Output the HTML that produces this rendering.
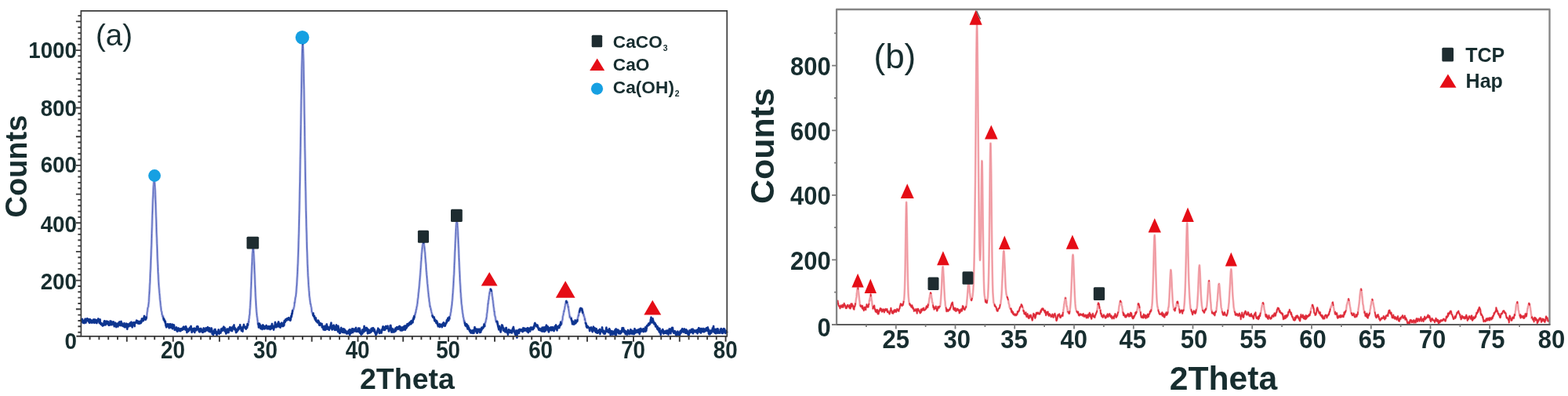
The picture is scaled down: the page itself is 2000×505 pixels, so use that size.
<!DOCTYPE html>
<html><head><meta charset="utf-8"><title>XRD patterns</title>
<style>
html,body{margin:0;padding:0;background:#fff;width:2000px;height:505px;overflow:hidden}
svg{display:block}
text{font-family:'Liberation Sans', Arial, Helvetica, sans-serif;fill:#172d2f}
</style></head><body>
<svg width="2000" height="505" viewBox="0 0 2000 505">
<defs><filter id="soft" x="-2%" y="-5%" width="104%" height="110%"><feGaussianBlur stdDeviation="0.55"/></filter></defs>
<rect width="2000" height="505" fill="#fff"/>
<g filter="url(#soft)">
<path d="M103.4 408.0 L103.6 407.6 L103.9 408.5 L104.1 409.3 L104.3 408.4 L104.6 409.1 L104.8 408.1 L105.0 407.0 L105.3 410.5 L105.5 411.3 L105.7 410.3 L106.0 410.5 L106.2 410.4 L106.5 411.7 L106.7 410.0 L106.9 408.9 L107.2 411.6 L107.4 410.1 L107.6 412.0 L107.9 410.3 L108.1 410.3 L108.3 407.5 L108.6 408.7 L108.8 406.7 L109.0 407.2 L109.3 408.1 L109.5 411.5 L109.8 408.3 L110.0 407.2 L110.2 406.9 L110.5 409.3 L110.7 408.0 L110.9 408.8 L111.2 408.6 L111.4 406.3 L111.6 408.8 L111.9 407.8 L112.1 406.9 L112.3 409.2 L112.6 409.1 L112.8 408.6 L113.0 408.9 L113.3 410.6 L113.5 408.6 L113.8 407.1 L114.0 411.8 L114.2 408.8 L114.5 410.3 L114.7 411.2 L114.9 407.2 L115.2 408.6 L115.4 411.2 L115.6 409.1 L115.9 408.1 L116.1 409.5 L116.3 408.5 L116.6 410.1 L116.8 409.5 L117.1 408.8 L117.3 411.7 L117.5 410.1 L117.8 410.3 L118.0 408.6 L118.2 410.4 L118.5 409.3 L118.7 409.1 L118.9 407.8 L119.2 407.6 L119.4 411.2 L119.6 409.9 L119.9 407.7 L120.1 411.8 L120.4 409.7 L120.6 409.5 L120.8 407.5 L121.1 408.5 L121.3 409.8 L121.5 410.1 L121.8 410.3 L122.0 407.9 L122.2 411.4 L122.5 411.6 L122.7 410.9 L122.9 411.4 L123.2 411.1 L123.4 412.0 L123.7 410.3 L123.9 410.6 L124.1 407.9 L124.4 408.8 L124.6 409.3 L124.8 407.9 L125.1 409.1 L125.3 406.5 L125.5 407.8 L125.8 407.1 L126.0 409.9 L126.2 407.8 L126.5 410.9 L126.7 411.7 L126.9 409.6 L127.2 411.0 L127.4 410.0 L127.7 407.5 L127.9 412.5 L128.1 412.9 L128.4 412.2 L128.6 412.4 L128.8 413.5 L129.1 413.9 L129.3 412.3 L129.5 412.1 L129.8 414.3 L130.0 413.4 L130.2 413.2 L130.5 414.9 L130.7 413.6 L131.0 415.5 L131.2 413.1 L131.4 414.2 L131.7 413.7 L131.9 414.0 L132.1 412.8 L132.4 414.9 L132.6 413.1 L132.8 410.0 L133.1 413.3 L133.3 409.1 L133.5 413.6 L133.8 410.6 L134.0 413.2 L134.3 411.0 L134.5 411.9 L134.7 414.3 L135.0 409.9 L135.2 409.8 L135.4 412.0 L135.7 412.3 L135.9 411.7 L136.1 412.8 L136.4 409.6 L136.6 411.5 L136.8 410.5 L137.1 411.5 L137.3 411.9 L137.6 413.3 L137.8 410.3 L138.0 412.7 L138.3 411.7 L138.5 413.5 L138.7 414.7 L139.0 414.3 L139.2 414.6 L139.4 413.2 L139.7 413.6 L139.9 413.1 L140.1 414.5 L140.4 413.2 L140.6 409.4 L140.8 412.9 L141.1 413.1 L141.3 411.2 L141.6 409.6 L141.8 413.9 L142.0 412.0 L142.3 412.4 L142.5 414.3 L142.7 410.9 L143.0 412.2 L143.2 411.9 L143.4 412.8 L143.7 410.7 L143.9 411.9 L144.1 410.8 L144.4 412.5 L144.6 413.5 L144.9 410.5 L145.1 414.4 L145.3 414.2 L145.6 415.3 L145.8 416.2 L146.0 415.9 L146.3 413.7 L146.5 414.1 L146.7 412.9 L147.0 412.9 L147.2 411.6 L147.4 412.9 L147.7 414.1 L147.9 415.7 L148.2 417.1 L148.4 413.5 L148.6 413.1 L148.9 414.2 L149.1 413.2 L149.3 413.0 L149.6 413.0 L149.8 412.9 L150.0 415.4 L150.3 412.4 L150.5 416.5 L150.7 413.7 L151.0 414.2 L151.2 413.4 L151.5 411.6 L151.7 411.3 L151.9 414.2 L152.2 414.4 L152.4 410.5 L152.6 413.3 L152.9 412.0 L153.1 411.0 L153.3 414.9 L153.6 415.0 L153.8 411.2 L154.0 410.7 L154.3 410.6 L154.5 410.0 L154.7 411.5 L155.0 412.9 L155.2 411.7 L155.5 413.6 L155.7 415.3 L155.9 412.8 L156.2 414.2 L156.4 413.7 L156.6 415.7 L156.9 415.5 L157.1 415.9 L157.3 415.6 L157.6 414.2 L157.8 415.8 L158.0 414.1 L158.3 414.5 L158.5 412.1 L158.8 417.1 L159.0 414.4 L159.2 415.7 L159.5 415.5 L159.7 417.2 L159.9 415.8 L160.2 413.9 L160.4 415.2 L160.6 414.9 L160.9 415.1 L161.1 412.7 L161.3 414.3 L161.6 417.4 L161.8 415.4 L162.1 417.5 L162.3 419.7 L162.5 416.0 L162.8 413.2 L163.0 415.1 L163.2 416.7 L163.5 416.4 L163.7 414.1 L163.9 416.2 L164.2 416.4 L164.4 416.4 L164.6 415.8 L164.9 413.5 L165.1 413.1 L165.4 412.9 L165.6 414.3 L165.8 412.0 L166.1 413.9 L166.3 411.7 L166.5 415.5 L166.8 414.4 L167.0 414.0 L167.2 415.6 L167.5 410.8 L167.7 411.2 L167.9 413.8 L168.2 412.1 L168.4 413.1 L168.7 417.4 L168.9 413.6 L169.1 413.9 L169.4 413.6 L169.6 414.7 L169.8 413.2 L170.1 413.0 L170.3 411.1 L170.5 412.5 L170.8 413.5 L171.0 411.6 L171.2 414.4 L171.5 414.2 L171.7 416.1 L171.9 411.3 L172.2 411.7 L172.4 411.2 L172.7 411.1 L172.9 411.6 L173.1 411.0 L173.4 411.7 L173.6 411.4 L173.8 410.7 L174.1 408.8 L174.3 409.9 L174.5 410.7 L174.8 411.3 L175.0 411.7 L175.2 409.1 L175.5 410.8 L175.7 411.2 L176.0 411.7 L176.2 412.6 L176.4 411.3 L176.7 409.9 L176.9 411.5 L177.1 411.2 L177.4 411.2 L177.6 410.4 L177.8 412.7 L178.1 411.1 L178.3 412.0 L178.5 409.9 L178.8 412.0 L179.0 410.6 L179.3 409.4 L179.5 411.8 L179.7 412.1 L180.0 410.7 L180.2 410.4 L180.4 410.9 L180.7 408.7 L180.9 406.5 L181.1 408.8 L181.4 408.2 L181.6 409.2 L181.8 407.3 L182.1 409.1 L182.3 408.9 L182.6 406.2 L182.8 409.1 L183.0 406.5 L183.3 405.5 L183.5 406.6 L183.7 405.3 L184.0 403.0 L184.2 405.5 L184.4 406.2 L184.7 407.4 L184.9 406.0 L185.1 404.6 L185.4 405.5 L185.6 407.7 L185.8 407.6 L186.1 407.1 L186.3 406.2 L186.6 406.2 L186.8 404.7 L187.0 403.4 L187.3 402.3 L187.5 400.3 L187.7 398.4 L188.0 397.1 L188.2 395.1 L188.4 392.7 L188.7 392.5 L188.9 391.7 L189.1 391.5 L189.4 387.9 L189.6 387.4 L189.9 384.4 L190.1 379.8 L190.3 376.2 L190.6 373.0 L190.8 369.7 L191.0 364.4 L191.3 359.9 L191.5 354.5 L191.7 348.7 L192.0 344.2 L192.2 338.9 L192.4 332.8 L192.7 325.9 L192.9 319.1 L193.2 312.4 L193.4 304.7 L193.6 297.6 L193.9 289.5 L194.1 282.1 L194.3 274.8 L194.6 268.0 L194.8 261.0 L195.0 254.7 L195.3 248.8 L195.5 243.4 L195.7 238.9 L196.0 235.2 L196.2 232.1 L196.5 230.6 L196.7 230.0 L196.9 230.4 L197.2 232.6 L197.4 235.1 L197.6 238.6 L197.9 243.1 L198.1 248.6 L198.3 254.3 L198.6 260.9 L198.8 268.1 L199.0 275.2 L199.3 282.0 L199.5 289.3 L199.7 297.1 L200.0 303.2 L200.2 310.4 L200.5 316.9 L200.7 323.9 L200.9 330.1 L201.2 336.3 L201.4 340.5 L201.6 346.9 L201.9 350.9 L202.1 356.2 L202.3 359.7 L202.6 364.2 L202.8 366.7 L203.0 368.9 L203.3 373.2 L203.5 374.5 L203.8 377.7 L204.0 381.0 L204.2 382.9 L204.5 385.1 L204.7 386.9 L204.9 389.4 L205.2 391.7 L205.4 393.2 L205.6 395.4 L205.9 397.0 L206.1 397.4 L206.3 397.6 L206.6 401.1 L206.8 400.9 L207.1 402.5 L207.3 403.7 L207.5 402.6 L207.8 404.4 L208.0 402.9 L208.2 406.0 L208.5 405.6 L208.7 406.8 L208.9 408.1 L209.2 406.8 L209.4 408.3 L209.6 407.7 L209.9 409.0 L210.1 410.4 L210.4 409.7 L210.6 410.2 L210.8 409.7 L211.1 412.9 L211.3 412.9 L211.5 415.5 L211.8 413.5 L212.0 416.0 L212.2 417.3 L212.5 415.2 L212.7 413.7 L212.9 416.6 L213.2 415.8 L213.4 415.0 L213.6 415.5 L213.9 413.3 L214.1 414.8 L214.4 414.8 L214.6 413.7 L214.8 415.9 L215.1 415.0 L215.3 417.1 L215.5 417.7 L215.8 418.3 L216.0 413.4 L216.2 415.9 L216.5 414.9 L216.7 415.1 L216.9 415.1 L217.2 415.3 L217.4 413.1 L217.7 417.0 L217.9 417.7 L218.1 417.1 L218.4 417.6 L218.6 415.3 L218.8 415.5 L219.1 417.8 L219.3 418.1 L219.5 416.4 L219.8 413.8 L220.0 419.2 L220.2 414.5 L220.5 416.8 L220.7 414.3 L221.0 417.8 L221.2 416.7 L221.4 418.2 L221.7 417.6 L221.9 414.5 L222.1 415.5 L222.4 417.7 L222.6 419.1 L222.8 420.9 L223.1 419.3 L223.3 418.9 L223.5 418.9 L223.8 419.0 L224.0 420.4 L224.3 419.3 L224.5 419.2 L224.7 417.9 L225.0 417.4 L225.2 420.4 L225.4 421.5 L225.7 420.7 L225.9 421.9 L226.1 422.5 L226.4 421.7 L226.6 422.5 L226.8 419.2 L227.1 419.6 L227.3 418.4 L227.6 418.5 L227.8 419.3 L228.0 420.1 L228.3 419.6 L228.5 420.9 L228.7 420.0 L229.0 420.3 L229.2 422.0 L229.4 419.5 L229.7 421.1 L229.9 420.1 L230.1 419.5 L230.4 422.1 L230.6 419.1 L230.8 419.4 L231.1 420.2 L231.3 420.4 L231.6 420.2 L231.8 420.5 L232.0 419.0 L232.3 419.3 L232.5 418.7 L232.7 420.8 L233.0 418.9 L233.2 418.8 L233.4 418.8 L233.7 418.9 L233.9 417.0 L234.1 419.9 L234.4 416.7 L234.6 417.2 L234.9 417.5 L235.1 417.7 L235.3 419.4 L235.6 419.0 L235.8 417.8 L236.0 418.0 L236.3 418.2 L236.5 420.6 L236.7 417.5 L237.0 416.2 L237.2 416.6 L237.4 417.9 L237.7 421.2 L237.9 418.5 L238.2 420.5 L238.4 424.0 L238.6 419.9 L238.9 422.3 L239.1 422.4 L239.3 422.2 L239.6 419.8 L239.8 422.9 L240.0 422.3 L240.3 420.4 L240.5 420.2 L240.7 421.9 L241.0 421.0 L241.2 421.7 L241.5 420.3 L241.7 418.4 L241.9 418.3 L242.2 418.8 L242.4 417.7 L242.6 420.3 L242.9 418.9 L243.1 417.1 L243.3 416.9 L243.6 415.9 L243.8 417.4 L244.0 419.2 L244.3 419.2 L244.5 422.0 L244.7 423.9 L245.0 420.8 L245.2 421.3 L245.5 419.8 L245.7 421.7 L245.9 419.3 L246.2 419.2 L246.4 419.9 L246.6 422.3 L246.9 420.2 L247.1 418.9 L247.3 419.6 L247.6 421.0 L247.8 419.8 L248.0 418.7 L248.3 424.0 L248.5 420.8 L248.8 420.1 L249.0 420.3 L249.2 419.3 L249.5 419.8 L249.7 420.4 L249.9 420.1 L250.2 419.4 L250.4 421.3 L250.6 420.0 L250.9 418.4 L251.1 416.5 L251.3 419.1 L251.6 418.4 L251.8 417.6 L252.1 416.1 L252.3 418.2 L252.5 416.6 L252.8 420.6 L253.0 419.9 L253.2 420.6 L253.5 419.4 L253.7 419.2 L253.9 423.0 L254.2 421.8 L254.4 420.0 L254.6 421.8 L254.9 423.3 L255.1 419.5 L255.4 420.1 L255.6 419.9 L255.8 421.2 L256.1 418.9 L256.3 420.6 L256.5 419.3 L256.8 422.3 L257.0 422.1 L257.2 421.2 L257.5 422.6 L257.7 420.6 L257.9 421.6 L258.2 423.9 L258.4 422.9 L258.6 423.8 L258.9 422.0 L259.1 423.7 L259.4 422.7 L259.6 420.0 L259.8 418.4 L260.1 418.9 L260.3 421.7 L260.5 421.7 L260.8 419.6 L261.0 421.7 L261.2 422.8 L261.5 420.7 L261.7 419.8 L261.9 421.2 L262.2 422.2 L262.4 421.5 L262.7 418.3 L262.9 420.3 L263.1 419.2 L263.4 418.9 L263.6 418.6 L263.8 420.2 L264.1 419.0 L264.3 421.3 L264.5 420.6 L264.8 420.9 L265.0 417.2 L265.2 418.4 L265.5 419.5 L265.7 419.2 L266.0 419.6 L266.2 418.8 L266.4 422.6 L266.7 422.4 L266.9 422.0 L267.1 418.1 L267.4 421.0 L267.6 423.0 L267.8 421.9 L268.1 420.3 L268.3 423.3 L268.5 423.2 L268.8 420.5 L269.0 421.3 L269.3 420.6 L269.5 422.3 L269.7 418.5 L270.0 419.2 L270.2 421.2 L270.4 421.5 L270.7 426.0 L270.9 422.7 L271.1 424.9 L271.4 424.6 L271.6 424.7 L271.8 425.8 L272.1 426.9 L272.3 422.6 L272.5 423.2 L272.8 421.9 L273.0 422.3 L273.3 421.7 L273.5 425.0 L273.7 420.3 L274.0 421.8 L274.2 421.0 L274.4 420.0 L274.7 422.4 L274.9 424.5 L275.1 423.2 L275.4 423.5 L275.6 422.8 L275.8 422.7 L276.1 426.5 L276.3 424.1 L276.6 427.5 L276.8 425.3 L277.0 425.4 L277.3 425.0 L277.5 423.7 L277.7 423.7 L278.0 423.4 L278.2 424.9 L278.4 422.6 L278.7 420.4 L278.9 420.6 L279.1 422.2 L279.4 423.4 L279.6 425.8 L279.9 422.6 L280.1 424.4 L280.3 424.2 L280.6 424.2 L280.8 423.5 L281.0 423.7 L281.3 423.1 L281.5 424.5 L281.7 423.4 L282.0 419.7 L282.2 422.6 L282.4 422.3 L282.7 420.7 L282.9 419.6 L283.2 421.8 L283.4 420.3 L283.6 418.7 L283.9 419.8 L284.1 420.4 L284.3 418.5 L284.6 421.4 L284.8 420.1 L285.0 420.4 L285.3 416.6 L285.5 421.1 L285.7 419.7 L286.0 419.8 L286.2 418.4 L286.5 418.7 L286.7 417.9 L286.9 422.8 L287.2 420.0 L287.4 422.1 L287.6 423.1 L287.9 421.8 L288.1 423.9 L288.3 425.6 L288.6 422.9 L288.8 424.7 L289.0 423.5 L289.3 421.8 L289.5 421.5 L289.7 419.4 L290.0 421.8 L290.2 423.8 L290.5 423.2 L290.7 423.4 L290.9 423.9 L291.2 421.6 L291.4 423.0 L291.6 424.0 L291.9 419.7 L292.1 420.1 L292.3 419.0 L292.6 419.3 L292.8 418.5 L293.0 418.9 L293.3 417.2 L293.5 418.7 L293.8 418.4 L294.0 418.6 L294.2 421.5 L294.5 419.7 L294.7 419.8 L294.9 419.2 L295.2 421.6 L295.4 417.7 L295.6 419.8 L295.9 421.4 L296.1 422.0 L296.3 419.9 L296.6 419.2 L296.8 419.7 L297.1 417.8 L297.3 418.2 L297.5 416.1 L297.8 418.0 L298.0 417.6 L298.2 416.5 L298.5 414.5 L298.7 419.8 L298.9 419.4 L299.2 420.2 L299.4 417.8 L299.6 420.4 L299.9 419.2 L300.1 418.6 L300.4 420.8 L300.6 421.7 L300.8 421.6 L301.1 424.1 L301.3 423.2 L301.5 421.3 L301.8 420.3 L302.0 420.6 L302.2 423.1 L302.5 422.0 L302.7 420.3 L302.9 420.5 L303.2 420.7 L303.4 421.3 L303.6 418.3 L303.9 419.5 L304.1 420.4 L304.4 420.1 L304.6 417.0 L304.8 418.9 L305.1 417.2 L305.3 418.8 L305.5 416.6 L305.8 418.4 L306.0 418.0 L306.2 414.3 L306.5 417.1 L306.7 419.2 L306.9 419.2 L307.2 418.4 L307.4 417.2 L307.7 419.5 L307.9 421.7 L308.1 419.8 L308.4 419.7 L308.6 420.5 L308.8 419.4 L309.1 421.4 L309.3 420.6 L309.5 422.7 L309.8 419.3 L310.0 416.6 L310.2 417.1 L310.5 416.8 L310.7 416.1 L311.0 413.9 L311.2 417.6 L311.4 416.8 L311.7 416.8 L311.9 416.3 L312.1 417.7 L312.4 416.7 L312.6 417.6 L312.8 416.8 L313.1 417.3 L313.3 419.3 L313.5 418.6 L313.8 417.5 L314.0 419.5 L314.3 418.2 L314.5 416.5 L314.7 418.3 L315.0 416.3 L315.2 418.0 L315.4 415.1 L315.7 413.1 L315.9 413.0 L316.1 415.1 L316.4 413.4 L316.6 413.4 L316.8 412.4 L317.1 409.6 L317.3 411.1 L317.5 406.8 L317.8 406.3 L318.0 403.0 L318.3 401.9 L318.5 399.9 L318.7 396.2 L319.0 392.7 L319.2 389.5 L319.4 385.2 L319.7 381.1 L319.9 377.1 L320.1 369.9 L320.4 364.1 L320.6 358.2 L320.8 351.9 L321.1 345.1 L321.3 339.5 L321.6 333.8 L321.8 328.4 L322.0 323.5 L322.3 320.8 L322.5 317.4 L322.7 316.5 L323.0 316.6 L323.2 316.9 L323.4 319.8 L323.7 323.7 L323.9 327.8 L324.1 332.5 L324.4 338.0 L324.6 344.5 L324.9 350.3 L325.1 356.2 L325.3 362.8 L325.6 368.0 L325.8 373.5 L326.0 378.7 L326.3 383.2 L326.5 386.9 L326.7 390.6 L327.0 394.6 L327.2 397.6 L327.4 399.3 L327.7 402.6 L327.9 404.1 L328.2 405.8 L328.4 408.4 L328.6 408.3 L328.9 413.1 L329.1 412.5 L329.3 414.5 L329.6 412.4 L329.8 412.9 L330.0 417.6 L330.3 416.0 L330.5 413.7 L330.7 413.0 L331.0 412.8 L331.2 413.9 L331.4 413.8 L331.7 414.3 L331.9 415.8 L332.2 414.7 L332.4 419.1 L332.6 415.5 L332.9 417.8 L333.1 415.6 L333.3 417.3 L333.6 418.8 L333.8 417.6 L334.0 419.2 L334.3 419.2 L334.5 419.9 L334.7 417.3 L335.0 415.9 L335.2 414.5 L335.5 415.9 L335.7 414.6 L335.9 416.4 L336.2 417.3 L336.4 417.0 L336.6 417.0 L336.9 419.3 L337.1 419.2 L337.3 418.7 L337.6 418.2 L337.8 419.2 L338.0 416.2 L338.3 417.9 L338.5 416.2 L338.8 417.8 L339.0 416.0 L339.2 416.5 L339.5 417.9 L339.7 415.0 L339.9 418.0 L340.2 416.4 L340.4 417.1 L340.6 419.3 L340.9 418.9 L341.1 417.9 L341.3 418.0 L341.6 417.2 L341.8 416.7 L342.1 418.4 L342.3 416.3 L342.5 419.3 L342.8 416.3 L343.0 418.2 L343.2 418.5 L343.5 417.4 L343.7 416.4 L343.9 418.2 L344.2 418.5 L344.4 418.3 L344.6 420.0 L344.9 419.2 L345.1 415.9 L345.4 419.3 L345.6 417.3 L345.8 419.4 L346.1 416.4 L346.3 416.8 L346.5 416.1 L346.8 414.9 L347.0 412.9 L347.2 415.0 L347.5 415.7 L347.7 418.3 L347.9 417.0 L348.2 418.8 L348.4 417.5 L348.6 418.8 L348.9 416.0 L349.1 420.6 L349.4 417.9 L349.6 416.3 L349.8 417.4 L350.1 417.5 L350.3 416.0 L350.5 416.6 L350.8 414.1 L351.0 410.9 L351.2 413.2 L351.5 416.5 L351.7 416.8 L351.9 416.9 L352.2 415.4 L352.4 417.3 L352.7 416.7 L352.9 414.4 L353.1 413.7 L353.4 414.9 L353.6 415.3 L353.8 415.8 L354.1 414.5 L354.3 416.4 L354.5 412.1 L354.8 413.7 L355.0 412.1 L355.2 410.4 L355.5 411.5 L355.7 415.3 L356.0 413.6 L356.2 413.9 L356.4 416.7 L356.7 417.0 L356.9 415.6 L357.1 416.8 L357.4 412.9 L357.6 417.7 L357.8 416.0 L358.1 414.9 L358.3 415.0 L358.5 414.2 L358.8 413.7 L359.0 413.9 L359.3 411.7 L359.5 415.8 L359.7 413.4 L360.0 414.8 L360.2 414.5 L360.4 414.9 L360.7 416.1 L360.9 415.8 L361.1 413.9 L361.4 414.5 L361.6 415.7 L361.8 411.9 L362.1 411.1 L362.3 415.0 L362.5 412.1 L362.8 409.0 L363.0 410.5 L363.3 410.8 L363.5 410.8 L363.7 410.8 L364.0 409.6 L364.2 409.4 L364.4 407.3 L364.7 408.0 L364.9 408.0 L365.1 408.8 L365.4 407.6 L365.6 408.6 L365.8 407.9 L366.1 406.3 L366.3 406.9 L366.6 406.7 L366.8 406.6 L367.0 406.8 L367.3 406.7 L367.5 406.8 L367.7 405.8 L368.0 407.8 L368.2 405.3 L368.4 406.6 L368.7 407.5 L368.9 407.2 L369.1 407.3 L369.4 406.5 L369.6 407.4 L369.9 405.9 L370.1 407.5 L370.3 408.8 L370.6 407.0 L370.8 407.6 L371.0 405.0 L371.3 403.1 L371.5 402.9 L371.7 404.2 L372.0 402.9 L372.2 400.0 L372.4 400.7 L372.7 400.1 L372.9 398.2 L373.2 396.0 L373.4 396.1 L373.6 396.4 L373.9 395.4 L374.1 394.3 L374.3 394.5 L374.6 393.9 L374.8 392.3 L375.0 392.0 L375.3 390.3 L375.5 388.9 L375.7 385.6 L376.0 386.3 L376.2 384.0 L376.4 382.5 L376.7 380.6 L376.9 378.9 L377.2 378.5 L377.4 376.9 L377.6 375.2 L377.9 372.5 L378.1 368.9 L378.3 365.9 L378.6 363.1 L378.8 359.2 L379.0 355.0 L379.3 350.5 L379.5 346.3 L379.7 340.8 L380.0 335.6 L380.2 329.0 L380.5 321.1 L380.7 314.9 L380.9 306.3 L381.2 297.4 L381.4 288.2 L381.6 278.2 L381.9 267.2 L382.1 255.7 L382.3 243.5 L382.6 231.1 L382.8 217.3 L383.0 203.4 L383.3 188.8 L383.5 173.8 L383.8 158.5 L384.0 143.3 L384.2 128.4 L384.5 113.7 L384.7 100.0 L384.9 87.6 L385.2 76.7 L385.4 68.0 L385.6 61.4 L385.9 57.2 L386.1 56.1 L386.3 57.4 L386.6 61.7 L386.8 68.4 L387.1 77.6 L387.3 88.5 L387.5 100.9 L387.8 114.4 L388.0 128.9 L388.2 144.0 L388.5 159.3 L388.7 174.6 L388.9 189.4 L389.2 204.2 L389.4 218.1 L389.6 231.4 L389.9 244.5 L390.1 257.0 L390.3 268.3 L390.6 279.3 L390.8 289.4 L391.1 298.1 L391.3 307.3 L391.5 316.0 L391.8 322.8 L392.0 329.5 L392.2 336.4 L392.5 342.3 L392.7 347.4 L392.9 351.9 L393.2 356.2 L393.4 359.9 L393.6 363.7 L393.9 367.2 L394.1 370.2 L394.4 373.2 L394.6 377.1 L394.8 378.5 L395.1 380.4 L395.3 382.8 L395.5 383.7 L395.8 386.1 L396.0 387.9 L396.2 387.5 L396.5 389.3 L396.7 390.7 L396.9 391.4 L397.2 392.4 L397.4 394.3 L397.7 397.9 L397.9 397.6 L398.1 398.5 L398.4 399.8 L398.6 399.5 L398.8 399.3 L399.1 401.2 L399.3 402.1 L399.5 399.5 L399.8 402.1 L400.0 403.2 L400.2 402.6 L400.5 402.8 L400.7 404.2 L401.0 403.0 L401.2 404.9 L401.4 406.2 L401.7 405.8 L401.9 405.9 L402.1 407.9 L402.4 407.1 L402.6 407.8 L402.8 405.4 L403.1 409.3 L403.3 407.6 L403.5 409.5 L403.8 410.1 L404.0 409.5 L404.3 409.5 L404.5 409.3 L404.7 410.4 L405.0 411.3 L405.2 411.1 L405.4 409.8 L405.7 409.5 L405.9 408.7 L406.1 410.1 L406.4 409.6 L406.6 409.6 L406.8 412.0 L407.1 414.3 L407.3 414.1 L407.5 414.7 L407.8 411.7 L408.0 414.9 L408.3 412.9 L408.5 413.8 L408.7 412.2 L409.0 412.7 L409.2 413.6 L409.4 413.6 L409.7 413.6 L409.9 413.4 L410.1 414.6 L410.4 414.5 L410.6 413.0 L410.8 417.5 L411.1 415.8 L411.3 417.5 L411.6 416.6 L411.8 415.9 L412.0 417.3 L412.3 416.9 L412.5 420.3 L412.7 416.8 L413.0 418.8 L413.2 417.0 L413.4 417.5 L413.7 420.7 L413.9 418.3 L414.1 417.2 L414.4 415.7 L414.6 417.6 L414.9 418.2 L415.1 420.7 L415.3 417.4 L415.6 416.5 L415.8 418.7 L416.0 418.5 L416.3 419.7 L416.5 416.0 L416.7 413.5 L417.0 415.8 L417.2 415.8 L417.4 417.0 L417.7 419.4 L417.9 416.4 L418.2 419.8 L418.4 418.5 L418.6 418.1 L418.9 417.3 L419.1 418.4 L419.3 418.6 L419.6 420.2 L419.8 420.8 L420.0 418.6 L420.3 419.2 L420.5 419.3 L420.7 418.4 L421.0 416.5 L421.2 417.5 L421.4 416.2 L421.7 416.2 L421.9 413.7 L422.2 413.5 L422.4 411.8 L422.6 417.3 L422.9 417.8 L423.1 416.7 L423.3 419.5 L423.6 420.4 L423.8 417.6 L424.0 419.5 L424.3 419.8 L424.5 418.8 L424.7 415.9 L425.0 415.1 L425.2 416.8 L425.5 416.4 L425.7 414.8 L425.9 415.6 L426.2 417.7 L426.4 416.7 L426.6 417.5 L426.9 420.8 L427.1 418.7 L427.3 417.8 L427.6 418.7 L427.8 420.7 L428.0 418.0 L428.3 416.6 L428.5 415.8 L428.8 420.8 L429.0 414.5 L429.2 419.5 L429.5 416.7 L429.7 416.4 L429.9 417.1 L430.2 418.7 L430.4 421.1 L430.6 418.5 L430.9 420.3 L431.1 423.1 L431.3 415.7 L431.6 418.8 L431.8 417.5 L432.1 422.1 L432.3 419.5 L432.5 420.1 L432.8 421.0 L433.0 423.8 L433.2 425.0 L433.5 422.8 L433.7 425.1 L433.9 423.8 L434.2 421.0 L434.4 422.2 L434.6 421.1 L434.9 420.7 L435.1 418.0 L435.3 419.1 L435.6 421.5 L435.8 420.4 L436.1 423.2 L436.3 422.7 L436.5 420.9 L436.8 423.9 L437.0 422.2 L437.2 423.5 L437.5 421.2 L437.7 419.3 L437.9 422.7 L438.2 421.6 L438.4 423.5 L438.6 424.0 L438.9 424.1 L439.1 420.7 L439.4 419.8 L439.6 422.3 L439.8 424.1 L440.1 422.0 L440.3 423.1 L440.5 421.4 L440.8 422.3 L441.0 422.4 L441.2 422.0 L441.5 423.6 L441.7 423.4 L441.9 425.5 L442.2 423.8 L442.4 425.6 L442.7 423.8 L442.9 425.1 L443.1 423.4 L443.4 423.0 L443.6 425.4 L443.8 424.7 L444.1 425.2 L444.3 422.9 L444.5 421.8 L444.8 423.0 L445.0 424.4 L445.2 421.3 L445.5 424.7 L445.7 420.4 L446.0 423.7 L446.2 427.2 L446.4 420.1 L446.7 421.7 L446.9 425.3 L447.1 423.5 L447.4 423.9 L447.6 423.0 L447.8 424.7 L448.1 423.4 L448.3 421.4 L448.5 421.6 L448.8 420.5 L449.0 422.3 L449.2 419.1 L449.5 423.2 L449.7 421.4 L450.0 424.1 L450.2 423.1 L450.4 419.5 L450.7 422.7 L450.9 420.5 L451.1 421.2 L451.4 422.4 L451.6 421.3 L451.8 421.5 L452.1 421.5 L452.3 419.7 L452.5 420.0 L452.8 421.7 L453.0 422.4 L453.3 420.9 L453.5 421.8 L453.7 420.3 L454.0 417.9 L454.2 420.8 L454.4 422.2 L454.7 422.1 L454.9 422.9 L455.1 422.7 L455.4 422.5 L455.6 421.7 L455.8 422.0 L456.1 420.5 L456.3 422.0 L456.6 421.7 L456.8 422.9 L457.0 418.8 L457.3 420.4 L457.5 418.8 L457.7 420.4 L458.0 419.7 L458.2 422.7 L458.4 421.4 L458.7 418.7 L458.9 424.5 L459.1 421.2 L459.4 420.8 L459.6 423.3 L459.9 423.5 L460.1 423.2 L460.3 426.4 L460.6 424.9 L460.8 426.6 L461.0 425.8 L461.3 425.1 L461.5 424.1 L461.7 423.4 L462.0 422.9 L462.2 425.6 L462.4 420.5 L462.7 421.7 L462.9 421.7 L463.2 422.9 L463.4 422.4 L463.6 421.4 L463.9 421.3 L464.1 423.4 L464.3 419.4 L464.6 416.0 L464.8 422.5 L465.0 418.4 L465.3 419.2 L465.5 420.0 L465.7 418.2 L466.0 421.9 L466.2 420.0 L466.4 418.2 L466.7 420.5 L466.9 421.1 L467.2 420.3 L467.4 420.9 L467.6 418.0 L467.9 421.4 L468.1 418.6 L468.3 421.8 L468.6 419.1 L468.8 420.7 L469.0 425.4 L469.3 422.2 L469.5 424.1 L469.7 423.3 L470.0 420.7 L470.2 424.7 L470.5 424.6 L470.7 420.8 L470.9 422.9 L471.2 421.1 L471.4 422.9 L471.6 424.6 L471.9 423.5 L472.1 421.8 L472.3 422.0 L472.6 423.0 L472.8 422.5 L473.0 422.9 L473.3 423.5 L473.5 419.3 L473.8 421.6 L474.0 422.5 L474.2 420.7 L474.5 418.6 L474.7 418.5 L474.9 419.7 L475.2 420.3 L475.4 419.3 L475.6 421.8 L475.9 421.1 L476.1 418.3 L476.3 420.7 L476.6 420.4 L476.8 419.9 L477.1 421.4 L477.3 422.7 L477.5 419.9 L477.8 422.0 L478.0 423.5 L478.2 422.0 L478.5 423.1 L478.7 425.5 L478.9 424.3 L479.2 424.7 L479.4 427.4 L479.6 424.4 L479.9 424.7 L480.1 424.5 L480.3 426.0 L480.6 424.5 L480.8 423.6 L481.1 423.3 L481.3 424.2 L481.5 421.1 L481.8 422.9 L482.0 420.8 L482.2 418.6 L482.5 421.7 L482.7 421.7 L482.9 419.8 L483.2 422.1 L483.4 422.1 L483.6 421.6 L483.9 420.3 L484.1 425.1 L484.4 423.4 L484.6 423.8 L484.8 424.1 L485.1 423.8 L485.3 423.9 L485.5 422.7 L485.8 424.4 L486.0 423.2 L486.2 423.0 L486.5 424.5 L486.7 423.1 L486.9 420.2 L487.2 421.1 L487.4 421.5 L487.7 420.2 L487.9 420.4 L488.1 417.9 L488.4 416.5 L488.6 418.6 L488.8 418.0 L489.1 416.7 L489.3 419.4 L489.5 418.8 L489.8 420.8 L490.0 420.8 L490.2 420.7 L490.5 417.5 L490.7 420.8 L491.0 420.8 L491.2 420.3 L491.4 419.3 L491.7 417.8 L491.9 418.2 L492.1 416.0 L492.4 417.8 L492.6 416.1 L492.8 417.4 L493.1 416.9 L493.3 418.9 L493.5 416.5 L493.8 416.2 L494.0 416.2 L494.2 419.0 L494.5 415.7 L494.7 418.0 L495.0 418.6 L495.2 418.9 L495.4 419.5 L495.7 419.3 L495.9 422.3 L496.1 422.5 L496.4 421.0 L496.6 420.8 L496.8 421.0 L497.1 420.2 L497.3 419.3 L497.5 417.4 L497.8 415.2 L498.0 418.0 L498.3 414.9 L498.5 416.0 L498.7 418.6 L499.0 417.9 L499.2 422.2 L499.4 423.6 L499.7 423.6 L499.9 423.0 L500.1 422.9 L500.4 422.5 L500.6 420.9 L500.8 423.5 L501.1 419.4 L501.3 421.9 L501.6 421.4 L501.8 421.3 L502.0 422.4 L502.3 423.3 L502.5 423.4 L502.7 422.0 L503.0 421.3 L503.2 421.2 L503.4 422.8 L503.7 421.7 L503.9 421.1 L504.1 419.1 L504.4 422.5 L504.6 418.5 L504.9 421.0 L505.1 421.5 L505.3 419.8 L505.6 418.5 L505.8 418.8 L506.0 417.3 L506.3 418.8 L506.5 417.6 L506.7 417.7 L507.0 419.5 L507.2 417.6 L507.4 418.7 L507.7 418.7 L507.9 419.9 L508.1 418.7 L508.4 416.9 L508.6 419.5 L508.9 416.4 L509.1 416.4 L509.3 416.1 L509.6 419.2 L509.8 416.6 L510.0 416.1 L510.3 418.3 L510.5 417.7 L510.7 421.3 L511.0 417.2 L511.2 419.3 L511.4 417.4 L511.7 420.9 L511.9 418.4 L512.2 419.9 L512.4 419.1 L512.6 421.6 L512.9 421.2 L513.1 417.4 L513.3 421.0 L513.6 420.6 L513.8 420.1 L514.0 420.9 L514.3 417.8 L514.5 417.0 L514.7 419.8 L515.0 420.5 L515.2 416.5 L515.5 416.1 L515.7 416.2 L515.9 415.7 L516.2 418.8 L516.4 418.4 L516.6 420.1 L516.9 420.6 L517.1 417.2 L517.3 419.0 L517.6 415.4 L517.8 417.8 L518.0 418.8 L518.3 416.7 L518.5 415.0 L518.8 416.2 L519.0 417.6 L519.2 415.0 L519.5 413.1 L519.7 414.9 L519.9 415.1 L520.2 413.2 L520.4 414.0 L520.6 415.6 L520.9 414.8 L521.1 415.1 L521.3 413.5 L521.6 413.4 L521.8 411.9 L522.1 412.0 L522.3 414.1 L522.5 411.8 L522.8 410.9 L523.0 411.3 L523.2 410.8 L523.5 412.4 L523.7 412.5 L523.9 410.3 L524.2 412.3 L524.4 413.2 L524.6 409.2 L524.9 410.7 L525.1 410.2 L525.3 411.8 L525.6 411.7 L525.8 411.4 L526.1 410.3 L526.3 409.3 L526.5 411.2 L526.8 407.2 L527.0 408.0 L527.2 407.4 L527.5 405.3 L527.7 405.7 L527.9 406.8 L528.2 403.2 L528.4 405.2 L528.6 403.6 L528.9 402.9 L529.1 401.1 L529.4 402.0 L529.6 399.9 L529.8 400.4 L530.1 397.9 L530.3 398.5 L530.5 397.2 L530.8 394.6 L531.0 394.9 L531.2 393.8 L531.5 391.2 L531.7 391.3 L531.9 390.6 L532.2 387.7 L532.4 387.3 L532.7 383.9 L532.9 381.9 L533.1 380.9 L533.4 378.7 L533.6 376.1 L533.8 373.8 L534.1 372.0 L534.3 368.9 L534.5 367.9 L534.8 364.7 L535.0 362.1 L535.2 359.3 L535.5 356.3 L535.7 354.2 L536.0 350.3 L536.2 347.4 L536.4 344.3 L536.7 341.3 L536.9 337.8 L537.1 333.9 L537.4 331.2 L537.6 327.7 L537.8 324.4 L538.1 321.6 L538.3 318.8 L538.5 317.1 L538.8 315.3 L539.0 313.0 L539.2 311.8 L539.5 310.5 L539.7 310.2 L540.0 309.5 L540.2 309.5 L540.4 309.8 L540.7 310.6 L540.9 311.8 L541.1 313.4 L541.4 315.3 L541.6 317.2 L541.8 320.1 L542.1 322.0 L542.3 325.4 L542.5 327.9 L542.8 331.3 L543.0 334.5 L543.3 336.8 L543.5 340.7 L543.7 344.3 L544.0 347.3 L544.2 350.2 L544.4 352.0 L544.7 355.7 L544.9 357.9 L545.1 361.4 L545.4 363.3 L545.6 365.6 L545.8 367.6 L546.1 371.5 L546.3 373.1 L546.6 375.4 L546.8 378.1 L547.0 379.3 L547.3 381.2 L547.5 384.4 L547.7 384.5 L548.0 386.4 L548.2 388.8 L548.4 391.0 L548.7 390.4 L548.9 392.3 L549.1 392.6 L549.4 393.2 L549.6 395.3 L549.9 395.2 L550.1 397.0 L550.3 397.9 L550.6 398.9 L550.8 399.8 L551.0 399.7 L551.3 401.4 L551.5 402.6 L551.7 403.4 L552.0 403.1 L552.2 404.5 L552.4 404.3 L552.7 404.0 L552.9 404.8 L553.1 404.7 L553.4 405.8 L553.6 404.4 L553.9 406.0 L554.1 407.9 L554.3 409.1 L554.6 407.3 L554.8 409.2 L555.0 409.6 L555.3 409.0 L555.5 409.4 L555.7 408.5 L556.0 410.5 L556.2 408.9 L556.4 412.0 L556.7 410.6 L556.9 412.4 L557.2 409.5 L557.4 411.8 L557.6 411.8 L557.9 411.3 L558.1 411.7 L558.3 414.9 L558.6 414.6 L558.8 416.2 L559.0 414.7 L559.3 415.0 L559.5 415.6 L559.7 416.1 L560.0 415.6 L560.2 415.8 L560.5 414.3 L560.7 413.1 L560.9 417.0 L561.2 415.1 L561.4 415.3 L561.6 414.2 L561.9 415.4 L562.1 414.5 L562.3 415.7 L562.6 413.9 L562.8 414.9 L563.0 415.4 L563.3 415.0 L563.5 415.9 L563.8 417.2 L564.0 414.4 L564.2 414.3 L564.5 414.4 L564.7 412.7 L564.9 412.8 L565.2 415.3 L565.4 414.5 L565.6 411.6 L565.9 411.3 L566.1 413.6 L566.3 414.2 L566.6 414.0 L566.8 414.2 L567.0 415.7 L567.3 414.2 L567.5 415.6 L567.8 415.6 L568.0 412.7 L568.2 414.2 L568.5 413.0 L568.7 412.0 L568.9 411.6 L569.2 412.3 L569.4 411.1 L569.6 411.4 L569.9 408.3 L570.1 408.9 L570.3 410.4 L570.6 408.8 L570.8 407.3 L571.1 407.2 L571.3 405.6 L571.5 405.9 L571.8 407.8 L572.0 407.4 L572.2 408.7 L572.5 407.2 L572.7 407.1 L572.9 404.4 L573.2 406.2 L573.4 407.2 L573.6 404.8 L573.9 403.1 L574.1 403.1 L574.4 402.0 L574.6 400.6 L574.8 399.1 L575.1 398.1 L575.3 397.0 L575.5 394.0 L575.8 393.2 L576.0 391.3 L576.2 390.1 L576.5 387.8 L576.7 384.7 L576.9 383.5 L577.2 379.6 L577.4 376.0 L577.7 373.3 L577.9 369.7 L578.1 366.8 L578.4 361.8 L578.6 357.8 L578.8 353.8 L579.1 349.9 L579.3 344.7 L579.5 338.7 L579.8 333.1 L580.0 328.0 L580.2 321.9 L580.5 316.7 L580.7 310.7 L581.0 305.1 L581.2 299.7 L581.4 295.3 L581.7 290.3 L581.9 286.6 L582.1 284.5 L582.4 282.6 L582.6 281.3 L582.8 281.6 L583.1 283.1 L583.3 284.4 L583.5 287.5 L583.8 291.4 L584.0 295.1 L584.2 300.6 L584.5 306.2 L584.7 311.5 L585.0 317.6 L585.2 323.3 L585.4 328.6 L585.7 334.5 L585.9 339.9 L586.1 344.4 L586.4 349.8 L586.6 354.7 L586.8 359.5 L587.1 363.9 L587.3 367.5 L587.5 372.1 L587.8 374.4 L588.0 379.2 L588.3 382.0 L588.5 385.5 L588.7 387.4 L589.0 389.4 L589.2 390.9 L589.4 394.1 L589.7 395.5 L589.9 397.3 L590.1 399.0 L590.4 401.0 L590.6 401.5 L590.8 404.5 L591.1 404.6 L591.3 405.8 L591.6 407.7 L591.8 409.1 L592.0 410.3 L592.3 408.5 L592.5 412.3 L592.7 410.6 L593.0 412.1 L593.2 413.7 L593.4 414.9 L593.7 413.5 L593.9 413.0 L594.1 415.7 L594.4 415.5 L594.6 414.4 L594.9 415.0 L595.1 413.3 L595.3 416.3 L595.6 415.1 L595.8 417.6 L596.0 414.3 L596.3 417.6 L596.5 419.5 L596.7 417.4 L597.0 417.6 L597.2 415.7 L597.4 418.3 L597.7 418.5 L597.9 418.5 L598.1 417.9 L598.4 420.7 L598.6 419.9 L598.9 421.0 L599.1 422.3 L599.3 422.1 L599.6 422.2 L599.8 423.2 L600.0 421.0 L600.3 424.4 L600.5 421.6 L600.7 422.1 L601.0 423.7 L601.2 424.5 L601.4 423.9 L601.7 422.8 L601.9 422.1 L602.2 422.6 L602.4 421.5 L602.6 423.7 L602.9 422.6 L603.1 425.0 L603.3 422.2 L603.6 422.8 L603.8 423.1 L604.0 420.9 L604.3 421.0 L604.5 424.8 L604.7 420.7 L605.0 422.2 L605.2 418.8 L605.5 417.2 L605.7 421.1 L605.9 420.6 L606.2 420.8 L606.4 420.2 L606.6 419.9 L606.9 419.2 L607.1 422.6 L607.3 419.8 L607.6 423.5 L607.8 422.9 L608.0 422.1 L608.3 423.1 L608.5 424.9 L608.8 424.5 L609.0 423.5 L609.2 422.1 L609.5 419.6 L609.7 422.3 L609.9 420.0 L610.2 420.1 L610.4 421.0 L610.6 422.0 L610.9 421.2 L611.1 422.4 L611.3 421.6 L611.6 421.6 L611.8 419.7 L612.0 424.1 L612.3 420.3 L612.5 422.1 L612.8 422.2 L613.0 422.6 L613.2 423.6 L613.5 421.1 L613.7 420.8 L613.9 419.0 L614.2 421.0 L614.4 417.6 L614.6 418.7 L614.9 419.0 L615.1 419.4 L615.3 419.3 L615.6 419.1 L615.8 418.1 L616.1 417.2 L616.3 416.9 L616.5 417.9 L616.8 416.3 L617.0 416.8 L617.2 415.4 L617.5 413.4 L617.7 414.6 L617.9 415.3 L618.2 416.1 L618.4 415.1 L618.6 414.4 L618.9 411.1 L619.1 411.6 L619.4 410.1 L619.6 410.1 L619.8 408.7 L620.1 406.6 L620.3 407.0 L620.5 405.1 L620.8 403.7 L621.0 400.2 L621.2 399.5 L621.5 397.4 L621.7 395.5 L621.9 393.5 L622.2 390.4 L622.4 387.0 L622.7 387.3 L622.9 384.2 L623.1 382.8 L623.4 381.8 L623.6 379.5 L623.8 377.6 L624.1 376.3 L624.3 373.5 L624.5 374.3 L624.8 371.9 L625.0 370.8 L625.2 370.5 L625.5 369.5 L625.7 368.7 L625.9 369.1 L626.2 369.3 L626.4 369.7 L626.7 371.9 L626.9 371.0 L627.1 371.5 L627.4 373.4 L627.6 374.8 L627.8 377.7 L628.1 378.7 L628.3 380.8 L628.5 382.4 L628.8 383.3 L629.0 386.1 L629.2 387.5 L629.5 390.7 L629.7 391.5 L630.0 393.4 L630.2 395.9 L630.4 397.4 L630.7 397.0 L630.9 401.1 L631.1 402.2 L631.4 403.5 L631.6 403.4 L631.8 404.0 L632.1 406.7 L632.3 408.7 L632.5 409.5 L632.8 408.7 L633.0 411.0 L633.3 408.9 L633.5 408.9 L633.7 410.5 L634.0 410.0 L634.2 410.4 L634.4 410.3 L634.7 413.9 L634.9 412.6 L635.1 415.4 L635.4 416.7 L635.6 417.0 L635.8 417.9 L636.1 419.2 L636.3 420.4 L636.6 419.8 L636.8 416.7 L637.0 416.0 L637.3 417.7 L637.5 417.4 L637.7 419.9 L638.0 420.3 L638.2 421.1 L638.4 423.2 L638.7 423.4 L638.9 421.8 L639.1 421.1 L639.4 420.9 L639.6 417.7 L639.9 417.2 L640.1 414.5 L640.3 415.0 L640.6 415.2 L640.8 414.8 L641.0 415.8 L641.3 417.6 L641.5 418.2 L641.7 417.7 L642.0 418.6 L642.2 418.1 L642.4 421.9 L642.7 420.5 L642.9 420.6 L643.1 419.9 L643.4 420.9 L643.6 421.8 L643.9 420.3 L644.1 421.5 L644.3 423.4 L644.6 419.6 L644.8 419.2 L645.0 420.6 L645.3 418.3 L645.5 420.1 L645.7 417.9 L646.0 420.8 L646.2 422.8 L646.4 423.1 L646.7 424.1 L646.9 422.9 L647.2 422.5 L647.4 422.0 L647.6 422.7 L647.9 426.8 L648.1 421.9 L648.3 424.6 L648.6 421.5 L648.8 420.1 L649.0 420.9 L649.3 421.9 L649.5 421.5 L649.7 422.3 L650.0 423.1 L650.2 423.4 L650.5 424.0 L650.7 421.1 L650.9 422.9 L651.2 421.5 L651.4 423.3 L651.6 423.3 L651.9 423.7 L652.1 422.8 L652.3 422.3 L652.6 423.3 L652.8 424.6 L653.0 424.3 L653.3 421.0 L653.5 422.7 L653.8 422.0 L654.0 418.7 L654.2 418.7 L654.5 419.2 L654.7 420.4 L654.9 416.9 L655.2 419.9 L655.4 419.7 L655.6 421.0 L655.9 423.4 L656.1 423.7 L656.3 422.1 L656.6 423.2 L656.8 424.5 L657.0 426.1 L657.3 426.8 L657.5 425.1 L657.8 426.9 L658.0 423.7 L658.2 423.7 L658.5 421.5 L658.7 424.3 L658.9 426.7 L659.2 426.9 L659.4 430.6 L659.6 426.1 L659.9 424.8 L660.1 422.2 L660.3 421.9 L660.6 421.4 L660.8 421.8 L661.1 421.1 L661.3 420.9 L661.5 424.8 L661.8 423.6 L662.0 425.0 L662.2 420.5 L662.5 419.9 L662.7 420.1 L662.9 422.6 L663.2 420.7 L663.4 421.3 L663.6 421.0 L663.9 421.2 L664.1 420.2 L664.4 421.7 L664.6 420.1 L664.8 420.9 L665.1 421.7 L665.3 421.0 L665.5 421.9 L665.8 420.8 L666.0 422.7 L666.2 421.8 L666.5 422.4 L666.7 423.1 L666.9 419.4 L667.2 421.3 L667.4 418.3 L667.7 418.9 L667.9 421.9 L668.1 421.2 L668.4 420.7 L668.6 421.1 L668.8 421.7 L669.1 418.8 L669.3 420.3 L669.5 419.3 L669.8 420.9 L670.0 420.2 L670.2 421.6 L670.5 420.5 L670.7 419.4 L670.9 419.6 L671.2 420.2 L671.4 420.9 L671.7 419.1 L671.9 419.5 L672.1 421.1 L672.4 422.7 L672.6 421.1 L672.8 418.3 L673.1 422.0 L673.3 420.9 L673.5 420.3 L673.8 424.1 L674.0 419.9 L674.2 421.2 L674.5 418.7 L674.7 421.1 L675.0 421.9 L675.2 421.2 L675.4 420.7 L675.7 421.7 L675.9 421.0 L676.1 422.5 L676.4 420.8 L676.6 419.4 L676.8 417.6 L677.1 419.2 L677.3 419.7 L677.5 418.4 L677.8 418.3 L678.0 417.6 L678.3 418.3 L678.5 420.2 L678.7 419.5 L679.0 419.7 L679.2 418.9 L679.4 418.5 L679.7 418.9 L679.9 420.1 L680.1 417.8 L680.4 419.2 L680.6 416.6 L680.8 416.7 L681.1 418.5 L681.3 415.4 L681.6 414.6 L681.8 414.7 L682.0 412.7 L682.3 411.9 L682.5 415.1 L682.7 412.6 L683.0 413.4 L683.2 413.8 L683.4 413.7 L683.7 415.9 L683.9 415.9 L684.1 416.1 L684.4 415.9 L684.6 415.2 L684.8 416.4 L685.1 416.2 L685.3 414.4 L685.6 415.5 L685.8 415.0 L686.0 418.0 L686.3 417.1 L686.5 417.6 L686.7 418.1 L687.0 420.1 L687.2 419.1 L687.4 420.8 L687.7 420.6 L687.9 420.4 L688.1 419.5 L688.4 420.7 L688.6 418.9 L688.9 420.2 L689.1 421.0 L689.3 421.3 L689.6 421.0 L689.8 420.6 L690.0 421.0 L690.3 421.7 L690.5 420.7 L690.7 421.2 L691.0 418.8 L691.2 420.1 L691.4 422.6 L691.7 417.8 L691.9 419.8 L692.2 422.0 L692.4 420.9 L692.6 421.9 L692.9 417.7 L693.1 419.7 L693.3 422.6 L693.6 419.8 L693.8 421.1 L694.0 417.4 L694.3 421.7 L694.5 422.9 L694.7 419.5 L695.0 419.6 L695.2 419.5 L695.5 421.9 L695.7 418.3 L695.9 416.7 L696.2 421.4 L696.4 416.8 L696.6 419.1 L696.9 414.6 L697.1 417.2 L697.3 417.8 L697.6 415.7 L697.8 416.3 L698.0 417.8 L698.3 416.4 L698.5 418.8 L698.8 421.2 L699.0 416.7 L699.2 420.5 L699.5 421.6 L699.7 420.5 L699.9 423.3 L700.2 422.8 L700.4 421.2 L700.6 420.9 L700.9 419.8 L701.1 418.3 L701.3 420.4 L701.6 419.1 L701.8 418.8 L702.0 420.7 L702.3 418.4 L702.5 419.7 L702.8 417.1 L703.0 418.0 L703.2 418.7 L703.5 421.3 L703.7 419.5 L703.9 420.9 L704.2 418.3 L704.4 418.9 L704.6 419.7 L704.9 417.1 L705.1 417.8 L705.3 420.2 L705.6 418.6 L705.8 421.1 L706.1 421.3 L706.3 420.9 L706.5 422.1 L706.8 421.5 L707.0 420.8 L707.2 418.0 L707.5 417.3 L707.7 418.9 L707.9 415.9 L708.2 417.7 L708.4 416.6 L708.6 416.1 L708.9 416.9 L709.1 414.5 L709.4 417.5 L709.6 419.9 L709.8 416.4 L710.1 418.5 L710.3 418.1 L710.5 421.4 L710.8 416.4 L711.0 417.3 L711.2 417.6 L711.5 417.4 L711.7 416.4 L711.9 418.4 L712.2 416.6 L712.4 418.1 L712.7 417.2 L712.9 415.4 L713.1 416.2 L713.4 418.0 L713.6 415.3 L713.8 415.0 L714.1 415.4 L714.3 413.6 L714.5 414.1 L714.8 415.1 L715.0 414.4 L715.2 410.6 L715.5 413.9 L715.7 412.1 L715.9 411.9 L716.2 411.8 L716.4 413.3 L716.7 411.4 L716.9 409.8 L717.1 408.1 L717.4 408.1 L717.6 407.4 L717.8 404.0 L718.1 402.7 L718.3 402.1 L718.5 401.7 L718.8 399.5 L719.0 398.5 L719.2 396.7 L719.5 397.4 L719.7 395.5 L720.0 394.6 L720.2 394.1 L720.4 391.8 L720.7 390.7 L720.9 389.5 L721.1 387.5 L721.4 387.6 L721.6 385.7 L721.8 384.6 L722.1 384.3 L722.3 383.9 L722.5 385.7 L722.8 386.1 L723.0 385.2 L723.3 385.4 L723.5 384.9 L723.7 386.5 L724.0 388.3 L724.2 388.2 L724.4 390.6 L724.7 392.1 L724.9 390.7 L725.1 393.8 L725.4 395.0 L725.6 396.9 L725.8 397.6 L726.1 400.3 L726.3 400.8 L726.6 403.8 L726.8 405.0 L727.0 403.3 L727.3 403.7 L727.5 404.7 L727.7 405.2 L728.0 405.6 L728.2 406.7 L728.4 405.0 L728.7 406.6 L728.9 407.6 L729.1 408.7 L729.4 408.8 L729.6 410.4 L729.8 410.9 L730.1 413.3 L730.3 411.5 L730.6 409.6 L730.8 412.4 L731.0 411.9 L731.3 410.7 L731.5 410.5 L731.7 410.8 L732.0 413.7 L732.2 411.4 L732.4 413.3 L732.7 413.0 L732.9 411.5 L733.1 412.3 L733.4 411.0 L733.6 408.5 L733.9 411.0 L734.1 410.9 L734.3 412.2 L734.6 411.5 L734.8 411.2 L735.0 410.4 L735.3 410.6 L735.5 409.8 L735.7 409.1 L736.0 409.7 L736.2 409.9 L736.4 409.4 L736.7 407.0 L736.9 406.2 L737.2 404.4 L737.4 403.3 L737.6 403.5 L737.9 401.6 L738.1 402.7 L738.3 398.7 L738.6 398.8 L738.8 398.8 L739.0 398.4 L739.3 396.0 L739.5 396.8 L739.7 395.1 L740.0 393.5 L740.2 393.6 L740.5 394.0 L740.7 392.9 L740.9 394.2 L741.2 393.3 L741.4 394.0 L741.6 394.5 L741.9 394.0 L742.1 395.6 L742.3 393.8 L742.6 396.5 L742.8 395.4 L743.0 398.5 L743.3 397.7 L743.5 399.9 L743.7 400.7 L744.0 400.1 L744.2 400.3 L744.5 402.6 L744.7 401.2 L744.9 403.8 L745.2 403.7 L745.4 404.5 L745.6 405.2 L745.9 408.3 L746.1 406.2 L746.3 407.8 L746.6 409.6 L746.8 410.9 L747.0 412.3 L747.3 413.1 L747.5 412.4 L747.8 414.5 L748.0 416.5 L748.2 417.0 L748.5 415.1 L748.7 417.5 L748.9 417.9 L749.2 415.6 L749.4 416.0 L749.6 416.3 L749.9 416.7 L750.1 417.6 L750.3 417.4 L750.6 417.2 L750.8 417.5 L751.1 417.7 L751.3 417.9 L751.5 418.8 L751.8 419.1 L752.0 420.7 L752.2 422.0 L752.5 419.7 L752.7 419.9 L752.9 418.8 L753.2 417.9 L753.4 418.8 L753.6 418.5 L753.9 417.4 L754.1 417.6 L754.4 419.1 L754.6 418.3 L754.8 420.1 L755.1 422.2 L755.3 421.7 L755.5 419.5 L755.8 423.2 L756.0 421.1 L756.2 420.6 L756.5 419.3 L756.7 421.6 L756.9 416.7 L757.2 418.8 L757.4 419.2 L757.7 419.1 L757.9 418.0 L758.1 419.1 L758.4 419.9 L758.6 418.3 L758.8 421.6 L759.1 422.6 L759.3 420.5 L759.5 421.2 L759.8 420.9 L760.0 423.8 L760.2 420.8 L760.5 421.0 L760.7 419.2 L760.9 423.1 L761.2 421.1 L761.4 422.4 L761.7 424.9 L761.9 424.1 L762.1 421.6 L762.4 424.1 L762.6 424.2 L762.8 422.0 L763.1 421.8 L763.3 421.5 L763.5 424.0 L763.8 422.7 L764.0 420.9 L764.2 422.7 L764.5 422.7 L764.7 420.6 L765.0 419.9 L765.2 424.1 L765.4 426.1 L765.7 424.3 L765.9 423.7 L766.1 422.1 L766.4 421.1 L766.6 421.8 L766.8 422.5 L767.1 421.5 L767.3 422.9 L767.5 421.7 L767.8 422.2 L768.0 417.5 L768.3 420.0 L768.5 422.1 L768.7 422.8 L769.0 422.2 L769.2 424.3 L769.4 423.1 L769.7 423.7 L769.9 421.6 L770.1 424.0 L770.4 424.7 L770.6 425.9 L770.8 425.7 L771.1 424.9 L771.3 425.4 L771.6 423.5 L771.8 425.6 L772.0 422.7 L772.3 422.5 L772.5 421.6 L772.7 423.3 L773.0 421.7 L773.2 418.6 L773.4 417.7 L773.7 420.4 L773.9 420.0 L774.1 422.3 L774.4 422.7 L774.6 422.9 L774.8 420.7 L775.1 421.8 L775.3 422.7 L775.6 422.7 L775.8 421.6 L776.0 422.1 L776.3 424.1 L776.5 420.5 L776.7 422.6 L777.0 422.1 L777.2 419.2 L777.4 419.8 L777.7 421.0 L777.9 420.3 L778.1 423.5 L778.4 423.7 L778.6 426.8 L778.9 422.0 L779.1 426.9 L779.3 423.4 L779.6 425.6 L779.8 425.7 L780.0 424.5 L780.3 424.1 L780.5 423.9 L780.7 422.3 L781.0 424.6 L781.2 424.2 L781.4 426.6 L781.7 424.4 L781.9 425.1 L782.2 426.1 L782.4 425.1 L782.6 424.4 L782.9 423.9 L783.1 422.8 L783.3 424.0 L783.6 424.7 L783.8 422.8 L784.0 426.2 L784.3 424.4 L784.5 420.7 L784.7 426.7 L785.0 423.2 L785.2 421.5 L785.5 425.0 L785.7 419.4 L785.9 427.2 L786.2 421.4 L786.4 420.9 L786.6 421.5 L786.9 422.4 L787.1 421.1 L787.3 422.7 L787.6 420.7 L787.8 423.6 L788.0 422.3 L788.3 420.6 L788.5 424.1 L788.7 423.2 L789.0 423.1 L789.2 425.4 L789.5 421.8 L789.7 422.8 L789.9 425.3 L790.2 423.2 L790.4 424.5 L790.6 424.3 L790.9 424.2 L791.1 425.5 L791.3 423.3 L791.6 425.4 L791.8 422.3 L792.0 423.4 L792.3 422.1 L792.5 423.5 L792.8 422.9 L793.0 423.7 L793.2 420.8 L793.5 419.8 L793.7 418.1 L793.9 418.8 L794.2 420.0 L794.4 420.3 L794.6 419.2 L794.9 420.0 L795.1 418.3 L795.3 419.7 L795.6 423.1 L795.8 423.3 L796.1 420.7 L796.3 422.8 L796.5 423.8 L796.8 421.7 L797.0 424.0 L797.2 423.6 L797.5 423.9 L797.7 426.0 L797.9 422.1 L798.2 424.9 L798.4 424.2 L798.6 424.8 L798.9 422.9 L799.1 424.4 L799.4 424.3 L799.6 426.6 L799.8 424.5 L800.1 426.5 L800.3 424.0 L800.5 423.5 L800.8 424.2 L801.0 420.9 L801.2 423.4 L801.5 423.3 L801.7 424.4 L801.9 424.9 L802.2 422.8 L802.4 422.8 L802.6 426.1 L802.9 422.4 L803.1 423.1 L803.4 422.4 L803.6 423.4 L803.8 425.5 L804.1 424.8 L804.3 420.2 L804.5 422.2 L804.8 424.1 L805.0 421.2 L805.2 422.4 L805.5 424.7 L805.7 425.6 L805.9 424.5 L806.2 421.7 L806.4 422.7 L806.7 423.0 L806.9 422.7 L807.1 421.9 L807.4 426.0 L807.6 423.5 L807.8 424.5 L808.1 425.8 L808.3 425.2 L808.5 424.8 L808.8 425.0 L809.0 426.0 L809.2 423.7 L809.5 419.2 L809.7 423.0 L810.0 423.5 L810.2 420.7 L810.4 420.6 L810.7 421.4 L810.9 424.3 L811.1 421.4 L811.4 423.7 L811.6 423.6 L811.8 422.9 L812.1 422.2 L812.3 421.1 L812.5 421.4 L812.8 422.3 L813.0 421.1 L813.3 422.1 L813.5 420.7 L813.7 424.0 L814.0 423.9 L814.2 420.6 L814.4 423.7 L814.7 421.7 L814.9 421.2 L815.1 421.7 L815.4 421.9 L815.6 419.6 L815.8 426.1 L816.1 422.0 L816.3 420.4 L816.6 423.4 L816.8 422.9 L817.0 421.2 L817.3 419.0 L817.5 423.1 L817.7 421.5 L818.0 422.0 L818.2 420.9 L818.4 421.1 L818.7 420.3 L818.9 421.3 L819.1 420.3 L819.4 421.5 L819.6 421.6 L819.8 421.1 L820.1 421.2 L820.3 422.8 L820.6 419.3 L820.8 421.5 L821.0 423.1 L821.3 419.5 L821.5 421.9 L821.7 420.0 L822.0 420.7 L822.2 420.3 L822.4 420.1 L822.7 420.9 L822.9 420.1 L823.1 417.5 L823.4 422.7 L823.6 420.0 L823.9 419.7 L824.1 421.5 L824.3 421.6 L824.6 417.0 L824.8 419.2 L825.0 415.4 L825.3 416.2 L825.5 416.2 L825.7 415.4 L826.0 415.2 L826.2 414.5 L826.4 415.0 L826.7 415.2 L826.9 414.5 L827.2 412.7 L827.4 412.9 L827.6 414.5 L827.9 413.6 L828.1 412.3 L828.3 413.4 L828.6 413.1 L828.8 413.5 L829.0 412.8 L829.3 411.7 L829.5 410.4 L829.7 410.4 L830.0 407.2 L830.2 408.3 L830.5 404.6 L830.7 406.6 L830.9 407.4 L831.2 408.9 L831.4 411.4 L831.6 409.1 L831.9 408.9 L832.1 407.0 L832.3 409.8 L832.6 406.3 L832.8 408.5 L833.0 407.8 L833.3 411.6 L833.5 409.7 L833.7 411.3 L834.0 410.9 L834.2 412.1 L834.5 413.4 L834.7 411.4 L834.9 411.8 L835.2 412.0 L835.4 412.0 L835.6 412.4 L835.9 414.1 L836.1 416.2 L836.3 416.4 L836.6 413.9 L836.8 414.9 L837.0 415.8 L837.3 416.6 L837.5 416.5 L837.8 417.1 L838.0 418.2 L838.2 419.4 L838.5 416.2 L838.7 418.7 L838.9 420.0 L839.2 420.5 L839.4 419.6 L839.6 418.0 L839.9 418.3 L840.1 420.0 L840.3 420.7 L840.6 421.7 L840.8 423.2 L841.1 420.3 L841.3 421.4 L841.5 419.0 L841.8 424.0 L842.0 423.7 L842.2 423.0 L842.5 424.9 L842.7 426.7 L842.9 426.2 L843.2 424.9 L843.4 424.1 L843.6 424.0 L843.9 422.0 L844.1 421.6 L844.4 422.2 L844.6 422.0 L844.8 421.8 L845.1 420.4 L845.3 420.0 L845.5 421.3 L845.8 421.3 L846.0 423.3 L846.2 425.2 L846.5 425.4 L846.7 423.2 L846.9 424.3 L847.2 422.6 L847.4 424.7 L847.6 423.3 L847.9 422.5 L848.1 422.9 L848.4 424.8 L848.6 423.8 L848.8 422.6 L849.1 424.2 L849.3 422.1 L849.5 421.9 L849.8 424.7 L850.0 421.6 L850.2 425.2 L850.5 425.2 L850.7 425.0 L850.9 425.3 L851.2 423.3 L851.4 423.5 L851.7 421.5 L851.9 423.1 L852.1 423.7 L852.4 424.8 L852.6 426.5 L852.8 424.0 L853.1 424.5 L853.3 421.3 L853.5 422.2 L853.8 419.4 L854.0 420.5 L854.2 420.4 L854.5 421.5 L854.7 422.4 L855.0 422.1 L855.2 422.5 L855.4 425.3 L855.7 423.4 L855.9 419.5 L856.1 422.0 L856.4 420.8 L856.6 420.7 L856.8 421.5 L857.1 417.9 L857.3 420.0 L857.5 420.0 L857.8 418.5 L858.0 417.9 L858.3 423.3 L858.5 421.1 L858.7 422.6 L859.0 423.6 L859.2 424.0 L859.4 424.8 L859.7 422.4 L859.9 423.5 L860.1 423.8 L860.4 422.3 L860.6 423.0 L860.8 423.8 L861.1 424.5 L861.3 422.5 L861.5 424.6 L861.8 425.6 L862.0 426.8 L862.3 426.1 L862.5 426.8 L862.7 425.3 L863.0 424.9 L863.2 428.3 L863.4 425.0 L863.7 423.5 L863.9 424.1 L864.1 425.6 L864.4 422.7 L864.6 425.4 L864.8 426.6 L865.1 426.4 L865.3 425.1 L865.6 423.8 L865.8 423.9 L866.0 425.4 L866.3 427.7 L866.5 426.7 L866.7 426.9 L867.0 425.1 L867.2 426.9 L867.4 423.3 L867.7 422.2 L867.9 423.1 L868.1 422.0 L868.4 424.3 L868.6 424.6 L868.9 423.5 L869.1 421.0 L869.3 421.1 L869.6 423.2 L869.8 420.3 L870.0 422.2 L870.3 419.1 L870.5 420.5 L870.7 422.0 L871.0 420.3 L871.2 422.7 L871.4 423.1 L871.7 423.5 L871.9 421.2 L872.2 421.7 L872.4 421.6 L872.6 422.0 L872.9 419.5 L873.1 422.6 L873.3 423.6 L873.6 421.0 L873.8 420.9 L874.0 422.1 L874.3 424.7 L874.5 423.0 L874.7 421.1 L875.0 422.1 L875.2 420.3 L875.5 424.8 L875.7 422.4 L875.9 424.4 L876.2 421.4 L876.4 423.5 L876.6 421.8 L876.9 424.5 L877.1 425.6 L877.3 425.8 L877.6 425.7 L877.8 426.8 L878.0 423.6 L878.3 423.7 L878.5 425.4 L878.7 427.4 L879.0 425.6 L879.2 425.7 L879.5 421.5 L879.7 422.1 L879.9 421.3 L880.2 421.8 L880.4 423.9 L880.6 422.2 L880.9 422.9 L881.1 421.1 L881.3 421.8 L881.6 423.2 L881.8 422.4 L882.0 419.9 L882.3 423.8 L882.5 423.7 L882.8 422.6 L883.0 423.1 L883.2 422.7 L883.5 421.3 L883.7 419.8 L883.9 425.3 L884.2 422.9 L884.4 423.2 L884.6 423.2 L884.9 423.4 L885.1 423.5 L885.3 421.3 L885.6 423.0 L885.8 422.1 L886.1 422.2 L886.3 422.2 L886.5 423.0 L886.8 421.4 L887.0 422.6 L887.2 422.4 L887.5 422.4 L887.7 423.6 L887.9 422.9 L888.2 422.9 L888.4 421.2 L888.6 422.7 L888.9 423.8 L889.1 422.0 L889.4 421.8 L889.6 425.4 L889.8 420.3 L890.1 422.9 L890.3 422.2 L890.5 419.9 L890.8 420.9 L891.0 421.7 L891.2 418.1 L891.5 423.2 L891.7 422.1 L891.9 420.4 L892.2 423.1 L892.4 422.0 L892.6 421.5 L892.9 419.0 L893.1 423.8 L893.4 422.7 L893.6 421.7 L893.8 422.7 L894.1 424.5 L894.3 421.6 L894.5 421.4 L894.8 420.5 L895.0 419.2 L895.2 419.1 L895.5 420.4 L895.7 420.6 L895.9 422.9 L896.2 422.0 L896.4 421.5 L896.7 422.6 L896.9 421.9 L897.1 422.7 L897.4 419.6 L897.6 419.1 L897.8 423.4 L898.1 422.3 L898.3 422.6 L898.5 420.2 L898.8 421.1 L899.0 421.2 L899.2 421.5 L899.5 420.7 L899.7 422.3 L900.0 419.5 L900.2 421.8 L900.4 420.1 L900.7 420.3 L900.9 418.5 L901.1 420.2 L901.4 418.4 L901.6 421.5 L901.8 418.9 L902.1 419.7 L902.3 418.9 L902.5 418.8 L902.8 417.4 L903.0 422.3 L903.3 419.4 L903.5 423.0 L903.7 420.0 L904.0 425.8 L904.2 425.3 L904.4 426.2 L904.7 421.5 L904.9 425.7 L905.1 423.5 L905.4 424.4 L905.6 426.2 L905.8 424.0 L906.1 422.1 L906.3 423.0 L906.5 421.8 L906.8 423.9 L907.0 423.5 L907.3 424.5 L907.5 423.3 L907.7 421.1 L908.0 422.8 L908.2 422.3 L908.4 422.6 L908.7 422.0 L908.9 418.4 L909.1 421.6 L909.4 420.4 L909.6 418.8 L909.8 419.1 L910.1 415.9 L910.3 423.3 L910.6 420.4 L910.8 420.6 L911.0 423.8 L911.3 423.3 L911.5 421.5 L911.7 419.9 L912.0 423.4 L912.2 424.7 L912.4 420.7 L912.7 419.9 L912.9 422.7 L913.1 425.2 L913.4 420.2 L913.6 422.7 L913.9 421.0 L914.1 422.9 L914.3 423.0 L914.6 422.8 L914.8 419.4 L915.0 419.2 L915.3 424.8 L915.5 423.0 L915.7 419.5 L916.0 422.9 L916.2 424.6 L916.4 422.6 L916.7 422.7 L916.9 422.7 L917.2 423.6 L917.4 423.6 L917.6 424.0 L917.9 423.3 L918.1 424.7 L918.3 423.7 L918.6 422.9 L918.8 420.2 L919.0 420.9 L919.3 421.0 L919.5 419.4 L919.7 419.5 L920.0 419.1 L920.2 420.8 L920.4 419.9 L920.7 421.9 L920.9 424.8 L921.2 424.9 L921.4 422.9 L921.6 422.8 L921.9 423.1 L922.1 424.7 L922.3 424.6 L922.6 420.9 L922.8 419.9 L923.0 419.2 L923.3 422.5 L923.5 419.2 L923.7 421.3 L924.0 420.3 L924.2 419.9 L924.5 421.8 L924.7 421.7 L924.9 424.2 L925.2 423.0 L925.4 425.0 L925.6 422.4 L925.9 423.0 L926.1 421.9 L926.3 422.7 L926.6 423.9 L926.8 422.2 L927.0 423.9 L927.3 422.8" fill="none" stroke="#a2aadf" stroke-width="2.9" stroke-linejoin="round"/>
<path d="M187.0 403.4 L187.3 402.3 L187.5 400.3 L187.7 398.4 L188.0 397.1 L188.2 395.1 L188.4 392.7 L188.7 392.5 L188.9 391.7 L189.1 391.5 L189.4 387.9 L189.6 387.4 L189.9 384.4 L190.1 379.8 L190.3 376.2 L190.6 373.0 L190.8 369.7 L191.0 364.4 L191.3 359.9 L191.5 354.5 L191.7 348.7 L192.0 344.2 L192.2 338.9 L192.4 332.8 L192.7 325.9 L192.9 319.1 L193.2 312.4 L193.4 304.7 L193.6 297.6 L193.9 289.5 L194.1 282.1 L194.3 274.8 L194.6 268.0 L194.8 261.0 L195.0 254.7 L195.3 248.8 L195.5 243.4 L195.7 238.9 L196.0 235.2 L196.2 232.1 L196.5 230.6 L196.7 230.0M196.9 230.4 L197.2 232.6 L197.4 235.1 L197.6 238.6 L197.9 243.1 L198.1 248.6 L198.3 254.3 L198.6 260.9 L198.8 268.1 L199.0 275.2 L199.3 282.0 L199.5 289.3 L199.7 297.1 L200.0 303.2 L200.2 310.4 L200.5 316.9 L200.7 323.9 L200.9 330.1 L201.2 336.3 L201.4 340.5 L201.6 346.9 L201.9 350.9 L202.1 356.2 L202.3 359.7 L202.6 364.2 L202.8 366.7 L203.0 368.9 L203.3 373.2 L203.5 374.5 L203.8 377.7 L204.0 381.0 L204.2 382.9 L204.5 385.1 L204.7 386.9 L204.9 389.4 L205.2 391.7 L205.4 393.2 L205.6 395.4 L205.9 397.0 L206.1 397.4 L206.3 397.6 L206.6 401.1 L206.8 400.9 L207.1 402.5 L207.3 403.7 L207.5 402.6 L207.8 404.4 L208.0 402.9 L208.2 406.0M316.6 413.4 L316.8 412.4 L317.1 409.6 L317.3 411.1 L317.5 406.8 L317.8 406.3 L318.0 403.0 L318.3 401.9 L318.5 399.9 L318.7 396.2 L319.0 392.7 L319.2 389.5 L319.4 385.2 L319.7 381.1 L319.9 377.1 L320.1 369.9 L320.4 364.1 L320.6 358.2 L320.8 351.9 L321.1 345.1 L321.3 339.5 L321.6 333.8 L321.8 328.4 L322.0 323.5 L322.3 320.8 L322.5 317.4 L322.7 316.5M323.2 316.9 L323.4 319.8 L323.7 323.7 L323.9 327.8 L324.1 332.5 L324.4 338.0 L324.6 344.5 L324.9 350.3 L325.1 356.2 L325.3 362.8 L325.6 368.0 L325.8 373.5 L326.0 378.7 L326.3 383.2 L326.5 386.9 L326.7 390.6 L327.0 394.6 L327.2 397.6 L327.4 399.3 L327.7 402.6 L327.9 404.1 L328.2 405.8 L328.4 408.4 L328.6 408.3 L328.9 413.1 L329.1 412.5 L329.3 414.5M373.4 396.1 L373.6 396.4 L373.9 395.4 L374.1 394.3 L374.3 394.5 L374.6 393.9 L374.8 392.3 L375.0 392.0 L375.3 390.3 L375.5 388.9 L375.7 385.6 L376.0 386.3 L376.2 384.0 L376.4 382.5 L376.7 380.6 L376.9 378.9 L377.2 378.5 L377.4 376.9 L377.6 375.2 L377.9 372.5 L378.1 368.9 L378.3 365.9 L378.6 363.1 L378.8 359.2 L379.0 355.0 L379.3 350.5 L379.5 346.3 L379.7 340.8 L380.0 335.6 L380.2 329.0 L380.5 321.1 L380.7 314.9 L380.9 306.3 L381.2 297.4 L381.4 288.2 L381.6 278.2 L381.9 267.2 L382.1 255.7 L382.3 243.5 L382.6 231.1 L382.8 217.3 L383.0 203.4 L383.3 188.8 L383.5 173.8 L383.8 158.5 L384.0 143.3 L384.2 128.4 L384.5 113.7 L384.7 100.0 L384.9 87.6 L385.2 76.7 L385.4 68.0 L385.6 61.4 L385.9 57.2 L386.1 56.1M386.3 57.4 L386.6 61.7 L386.8 68.4 L387.1 77.6 L387.3 88.5 L387.5 100.9 L387.8 114.4 L388.0 128.9 L388.2 144.0 L388.5 159.3 L388.7 174.6 L388.9 189.4 L389.2 204.2 L389.4 218.1 L389.6 231.4 L389.9 244.5 L390.1 257.0 L390.3 268.3 L390.6 279.3 L390.8 289.4 L391.1 298.1 L391.3 307.3 L391.5 316.0 L391.8 322.8 L392.0 329.5 L392.2 336.4 L392.5 342.3 L392.7 347.4 L392.9 351.9 L393.2 356.2 L393.4 359.9 L393.6 363.7 L393.9 367.2 L394.1 370.2 L394.4 373.2 L394.6 377.1 L394.8 378.5 L395.1 380.4 L395.3 382.8 L395.5 383.7 L395.8 386.1 L396.0 387.9 L396.2 387.5 L396.5 389.3 L396.7 390.7 L396.9 391.4 L397.2 392.4 L397.4 394.3 L397.7 397.9 L397.9 397.6 L398.1 398.5 L398.4 399.8 L398.6 399.5 L398.8 399.3 L399.1 401.2M528.9 402.9 L529.1 401.1 L529.4 402.0 L529.6 399.9 L529.8 400.4 L530.1 397.9 L530.3 398.5 L530.5 397.2 L530.8 394.6 L531.0 394.9 L531.2 393.8 L531.5 391.2 L531.7 391.3 L531.9 390.6 L532.2 387.7 L532.4 387.3 L532.7 383.9 L532.9 381.9 L533.1 380.9 L533.4 378.7 L533.6 376.1 L533.8 373.8 L534.1 372.0 L534.3 368.9 L534.5 367.9 L534.8 364.7 L535.0 362.1 L535.2 359.3 L535.5 356.3 L535.7 354.2 L536.0 350.3 L536.2 347.4 L536.4 344.3 L536.7 341.3 L536.9 337.8 L537.1 333.9 L537.4 331.2 L537.6 327.7 L537.8 324.4 L538.1 321.6 L538.3 318.8 L538.5 317.1 L538.8 315.3 L539.0 313.0 L539.2 311.8 L539.5 310.5 L539.7 310.2M540.7 310.6 L540.9 311.8 L541.1 313.4 L541.4 315.3 L541.6 317.2 L541.8 320.1 L542.1 322.0 L542.3 325.4 L542.5 327.9 L542.8 331.3 L543.0 334.5 L543.3 336.8 L543.5 340.7 L543.7 344.3 L544.0 347.3 L544.2 350.2 L544.4 352.0 L544.7 355.7 L544.9 357.9 L545.1 361.4 L545.4 363.3 L545.6 365.6 L545.8 367.6 L546.1 371.5 L546.3 373.1 L546.6 375.4 L546.8 378.1 L547.0 379.3 L547.3 381.2 L547.5 384.4 L547.7 384.5 L548.0 386.4 L548.2 388.8 L548.4 391.0 L548.7 390.4 L548.9 392.3 L549.1 392.6 L549.4 393.2 L549.6 395.3 L549.9 395.2 L550.1 397.0 L550.3 397.9 L550.6 398.9 L550.8 399.8 L551.0 399.7 L551.3 401.4M573.4 407.2 L573.6 404.8 L573.9 403.1 L574.1 403.1 L574.4 402.0 L574.6 400.6 L574.8 399.1 L575.1 398.1 L575.3 397.0 L575.5 394.0 L575.8 393.2 L576.0 391.3 L576.2 390.1 L576.5 387.8 L576.7 384.7 L576.9 383.5 L577.2 379.6 L577.4 376.0 L577.7 373.3 L577.9 369.7 L578.1 366.8 L578.4 361.8 L578.6 357.8 L578.8 353.8 L579.1 349.9 L579.3 344.7 L579.5 338.7 L579.8 333.1 L580.0 328.0 L580.2 321.9 L580.5 316.7 L580.7 310.7 L581.0 305.1 L581.2 299.7 L581.4 295.3 L581.7 290.3 L581.9 286.6 L582.1 284.5 L582.4 282.6 L582.6 281.3M583.1 283.1 L583.3 284.4 L583.5 287.5 L583.8 291.4 L584.0 295.1 L584.2 300.6 L584.5 306.2 L584.7 311.5 L585.0 317.6 L585.2 323.3 L585.4 328.6 L585.7 334.5 L585.9 339.9 L586.1 344.4 L586.4 349.8 L586.6 354.7 L586.8 359.5 L587.1 363.9 L587.3 367.5 L587.5 372.1 L587.8 374.4 L588.0 379.2 L588.3 382.0 L588.5 385.5 L588.7 387.4 L589.0 389.4 L589.2 390.9 L589.4 394.1 L589.7 395.5 L589.9 397.3 L590.1 399.0 L590.4 401.0 L590.6 401.5 L590.8 404.5 L591.1 404.6 L591.3 405.8 L591.6 407.7 L591.8 409.1 L592.0 410.3 L592.3 408.5 L592.5 412.3 L592.7 410.6M618.4 415.1 L618.6 414.4 L618.9 411.1 L619.1 411.6 L619.4 410.1 L619.6 410.1 L619.8 408.7 L620.1 406.6 L620.3 407.0 L620.5 405.1 L620.8 403.7 L621.0 400.2 L621.2 399.5 L621.5 397.4 L621.7 395.5 L621.9 393.5 L622.2 390.4 L622.4 387.0 L622.7 387.3 L622.9 384.2 L623.1 382.8 L623.4 381.8 L623.6 379.5 L623.8 377.6 L624.1 376.3 L624.3 373.5 L624.5 374.3 L624.8 371.9 L625.0 370.8 L625.2 370.5 L625.5 369.5M626.7 371.9 L626.9 371.0 L627.1 371.5 L627.4 373.4 L627.6 374.8 L627.8 377.7 L628.1 378.7 L628.3 380.8 L628.5 382.4 L628.8 383.3 L629.0 386.1 L629.2 387.5 L629.5 390.7 L629.7 391.5 L630.0 393.4 L630.2 395.9 L630.4 397.4 L630.7 397.0 L630.9 401.1 L631.1 402.2 L631.4 403.5 L631.6 403.4 L631.8 404.0 L632.1 406.7 L632.3 408.7 L632.5 409.5 L632.8 408.7 L633.0 411.0 L633.3 408.9 L633.5 408.9M716.2 411.8 L716.4 413.3 L716.7 411.4 L716.9 409.8 L717.1 408.1 L717.4 408.1 L717.6 407.4 L717.8 404.0 L718.1 402.7 L718.3 402.1 L718.5 401.7 L718.8 399.5 L719.0 398.5 L719.2 396.7 L719.5 397.4 L719.7 395.5 L720.0 394.6 L720.2 394.1 L720.4 391.8 L720.7 390.7 L720.9 389.5 L721.1 387.5 L721.4 387.6 L721.6 385.7 L721.8 384.6M723.5 384.9 L723.7 386.5 L724.0 388.3 L724.2 388.2 L724.4 390.6 L724.7 392.1 L724.9 390.7 L725.1 393.8 L725.4 395.0 L725.6 396.9 L725.8 397.6 L726.1 400.3 L726.3 400.8 L726.6 403.8 L726.8 405.0 L727.0 403.3 L727.3 403.7 L727.5 404.7 L727.7 405.2 L728.0 405.6 L728.2 406.7 L728.4 405.0M736.7 407.0 L736.9 406.2 L737.2 404.4 L737.4 403.3 L737.6 403.5 L737.9 401.6 L738.1 402.7 L738.3 398.7 L738.6 398.8 L738.8 398.8M743.5 399.9 L743.7 400.7 L744.0 400.1 L744.2 400.3 L744.5 402.6 L744.7 401.2 L744.9 403.8 L745.2 403.7 L745.4 404.5 L745.6 405.2 L745.9 408.3 L746.1 406.2 L746.3 407.8 L746.6 409.6 L746.8 410.9" fill="none" stroke="#4659b4" stroke-width="0.9" stroke-linejoin="round"/>
<path d="M103.4 408.0 L103.6 407.6 L103.9 408.5 L104.1 409.3 L104.3 408.4 L104.6 409.1 L104.8 408.1 L105.0 407.0 L105.3 410.5 L105.5 411.3 L105.7 410.3 L106.0 410.5 L106.2 410.4 L106.5 411.7 L106.7 410.0 L106.9 408.9 L107.2 411.6 L107.4 410.1 L107.6 412.0 L107.9 410.3 L108.1 410.3 L108.3 407.5 L108.6 408.7 L108.8 406.7 L109.0 407.2 L109.3 408.1 L109.5 411.5 L109.8 408.3 L110.0 407.2 L110.2 406.9 L110.5 409.3 L110.7 408.0 L110.9 408.8 L111.2 408.6 L111.4 406.3 L111.6 408.8 L111.9 407.8 L112.1 406.9 L112.3 409.2 L112.6 409.1 L112.8 408.6 L113.0 408.9 L113.3 410.6 L113.5 408.6 L113.8 407.1 L114.0 411.8 L114.2 408.8 L114.5 410.3 L114.7 411.2 L114.9 407.2 L115.2 408.6 L115.4 411.2 L115.6 409.1 L115.9 408.1 L116.1 409.5 L116.3 408.5 L116.6 410.1 L116.8 409.5 L117.1 408.8 L117.3 411.7 L117.5 410.1 L117.8 410.3 L118.0 408.6 L118.2 410.4 L118.5 409.3 L118.7 409.1 L118.9 407.8 L119.2 407.6 L119.4 411.2 L119.6 409.9 L119.9 407.7 L120.1 411.8 L120.4 409.7 L120.6 409.5 L120.8 407.5 L121.1 408.5 L121.3 409.8 L121.5 410.1 L121.8 410.3 L122.0 407.9 L122.2 411.4 L122.5 411.6 L122.7 410.9 L122.9 411.4 L123.2 411.1 L123.4 412.0 L123.7 410.3 L123.9 410.6 L124.1 407.9 L124.4 408.8 L124.6 409.3 L124.8 407.9 L125.1 409.1 L125.3 406.5 L125.5 407.8 L125.8 407.1 L126.0 409.9 L126.2 407.8 L126.5 410.9 L126.7 411.7 L126.9 409.6 L127.2 411.0 L127.4 410.0 L127.7 407.5 L127.9 412.5 L128.1 412.9 L128.4 412.2 L128.6 412.4 L128.8 413.5 L129.1 413.9 L129.3 412.3 L129.5 412.1 L129.8 414.3 L130.0 413.4 L130.2 413.2 L130.5 414.9 L130.7 413.6 L131.0 415.5 L131.2 413.1 L131.4 414.2 L131.7 413.7 L131.9 414.0 L132.1 412.8 L132.4 414.9 L132.6 413.1 L132.8 410.0 L133.1 413.3 L133.3 409.1 L133.5 413.6 L133.8 410.6 L134.0 413.2 L134.3 411.0 L134.5 411.9 L134.7 414.3 L135.0 409.9 L135.2 409.8 L135.4 412.0 L135.7 412.3 L135.9 411.7 L136.1 412.8 L136.4 409.6 L136.6 411.5 L136.8 410.5 L137.1 411.5 L137.3 411.9 L137.6 413.3 L137.8 410.3 L138.0 412.7 L138.3 411.7 L138.5 413.5 L138.7 414.7 L139.0 414.3 L139.2 414.6 L139.4 413.2 L139.7 413.6 L139.9 413.1 L140.1 414.5 L140.4 413.2 L140.6 409.4 L140.8 412.9 L141.1 413.1 L141.3 411.2 L141.6 409.6 L141.8 413.9 L142.0 412.0 L142.3 412.4 L142.5 414.3 L142.7 410.9 L143.0 412.2 L143.2 411.9 L143.4 412.8 L143.7 410.7 L143.9 411.9 L144.1 410.8 L144.4 412.5 L144.6 413.5 L144.9 410.5 L145.1 414.4 L145.3 414.2 L145.6 415.3 L145.8 416.2 L146.0 415.9 L146.3 413.7 L146.5 414.1 L146.7 412.9 L147.0 412.9 L147.2 411.6 L147.4 412.9 L147.7 414.1 L147.9 415.7 L148.2 417.1 L148.4 413.5 L148.6 413.1 L148.9 414.2 L149.1 413.2 L149.3 413.0 L149.6 413.0 L149.8 412.9 L150.0 415.4 L150.3 412.4 L150.5 416.5 L150.7 413.7 L151.0 414.2 L151.2 413.4 L151.5 411.6 L151.7 411.3 L151.9 414.2 L152.2 414.4 L152.4 410.5 L152.6 413.3 L152.9 412.0 L153.1 411.0 L153.3 414.9 L153.6 415.0 L153.8 411.2 L154.0 410.7 L154.3 410.6 L154.5 410.0 L154.7 411.5 L155.0 412.9 L155.2 411.7 L155.5 413.6 L155.7 415.3 L155.9 412.8 L156.2 414.2 L156.4 413.7 L156.6 415.7 L156.9 415.5 L157.1 415.9 L157.3 415.6 L157.6 414.2 L157.8 415.8 L158.0 414.1 L158.3 414.5 L158.5 412.1 L158.8 417.1 L159.0 414.4 L159.2 415.7 L159.5 415.5 L159.7 417.2 L159.9 415.8 L160.2 413.9 L160.4 415.2 L160.6 414.9 L160.9 415.1 L161.1 412.7 L161.3 414.3 L161.6 417.4 L161.8 415.4 L162.1 417.5 L162.3 419.7 L162.5 416.0 L162.8 413.2 L163.0 415.1 L163.2 416.7 L163.5 416.4 L163.7 414.1 L163.9 416.2 L164.2 416.4 L164.4 416.4 L164.6 415.8 L164.9 413.5 L165.1 413.1 L165.4 412.9 L165.6 414.3 L165.8 412.0 L166.1 413.9 L166.3 411.7 L166.5 415.5 L166.8 414.4 L167.0 414.0 L167.2 415.6 L167.5 410.8 L167.7 411.2 L167.9 413.8 L168.2 412.1 L168.4 413.1 L168.7 417.4 L168.9 413.6 L169.1 413.9 L169.4 413.6 L169.6 414.7 L169.8 413.2 L170.1 413.0 L170.3 411.1 L170.5 412.5 L170.8 413.5 L171.0 411.6 L171.2 414.4 L171.5 414.2 L171.7 416.1 L171.9 411.3 L172.2 411.7 L172.4 411.2 L172.7 411.1 L172.9 411.6 L173.1 411.0 L173.4 411.7 L173.6 411.4 L173.8 410.7 L174.1 408.8 L174.3 409.9 L174.5 410.7 L174.8 411.3 L175.0 411.7 L175.2 409.1 L175.5 410.8 L175.7 411.2 L176.0 411.7 L176.2 412.6 L176.4 411.3 L176.7 409.9 L176.9 411.5 L177.1 411.2 L177.4 411.2 L177.6 410.4 L177.8 412.7 L178.1 411.1 L178.3 412.0 L178.5 409.9 L178.8 412.0 L179.0 410.6 L179.3 409.4 L179.5 411.8 L179.7 412.1 L180.0 410.7 L180.2 410.4 L180.4 410.9 L180.7 408.7 L180.9 406.5 L181.1 408.8 L181.4 408.2 L181.6 409.2 L181.8 407.3 L182.1 409.1 L182.3 408.9 L182.6 406.2 L182.8 409.1 L183.0 406.5 L183.3 405.5 L183.5 406.6 L183.7 405.3 L184.0 403.0 L184.2 405.5 L184.4 406.2 L184.7 407.4 L184.9 406.0 L185.1 404.6 L185.4 405.5 L185.6 407.7 L185.8 407.6 L186.1 407.1 L186.3 406.2 L186.6 406.2 L186.8 404.7 L187.0 403.4M196.7 230.0 L196.9 230.4M208.2 406.0 L208.5 405.6 L208.7 406.8 L208.9 408.1 L209.2 406.8 L209.4 408.3 L209.6 407.7 L209.9 409.0 L210.1 410.4 L210.4 409.7 L210.6 410.2 L210.8 409.7 L211.1 412.9 L211.3 412.9 L211.5 415.5 L211.8 413.5 L212.0 416.0 L212.2 417.3 L212.5 415.2 L212.7 413.7 L212.9 416.6 L213.2 415.8 L213.4 415.0 L213.6 415.5 L213.9 413.3 L214.1 414.8 L214.4 414.8 L214.6 413.7 L214.8 415.9 L215.1 415.0 L215.3 417.1 L215.5 417.7 L215.8 418.3 L216.0 413.4 L216.2 415.9 L216.5 414.9 L216.7 415.1 L216.9 415.1 L217.2 415.3 L217.4 413.1 L217.7 417.0 L217.9 417.7 L218.1 417.1 L218.4 417.6 L218.6 415.3 L218.8 415.5 L219.1 417.8 L219.3 418.1 L219.5 416.4 L219.8 413.8 L220.0 419.2 L220.2 414.5 L220.5 416.8 L220.7 414.3 L221.0 417.8 L221.2 416.7 L221.4 418.2 L221.7 417.6 L221.9 414.5 L222.1 415.5 L222.4 417.7 L222.6 419.1 L222.8 420.9 L223.1 419.3 L223.3 418.9 L223.5 418.9 L223.8 419.0 L224.0 420.4 L224.3 419.3 L224.5 419.2 L224.7 417.9 L225.0 417.4 L225.2 420.4 L225.4 421.5 L225.7 420.7 L225.9 421.9 L226.1 422.5 L226.4 421.7 L226.6 422.5 L226.8 419.2 L227.1 419.6 L227.3 418.4 L227.6 418.5 L227.8 419.3 L228.0 420.1 L228.3 419.6 L228.5 420.9 L228.7 420.0 L229.0 420.3 L229.2 422.0 L229.4 419.5 L229.7 421.1 L229.9 420.1 L230.1 419.5 L230.4 422.1 L230.6 419.1 L230.8 419.4 L231.1 420.2 L231.3 420.4 L231.6 420.2 L231.8 420.5 L232.0 419.0 L232.3 419.3 L232.5 418.7 L232.7 420.8 L233.0 418.9 L233.2 418.8 L233.4 418.8 L233.7 418.9 L233.9 417.0 L234.1 419.9 L234.4 416.7 L234.6 417.2 L234.9 417.5 L235.1 417.7 L235.3 419.4 L235.6 419.0 L235.8 417.8 L236.0 418.0 L236.3 418.2 L236.5 420.6 L236.7 417.5 L237.0 416.2 L237.2 416.6 L237.4 417.9 L237.7 421.2 L237.9 418.5 L238.2 420.5 L238.4 424.0 L238.6 419.9 L238.9 422.3 L239.1 422.4 L239.3 422.2 L239.6 419.8 L239.8 422.9 L240.0 422.3 L240.3 420.4 L240.5 420.2 L240.7 421.9 L241.0 421.0 L241.2 421.7 L241.5 420.3 L241.7 418.4 L241.9 418.3 L242.2 418.8 L242.4 417.7 L242.6 420.3 L242.9 418.9 L243.1 417.1 L243.3 416.9 L243.6 415.9 L243.8 417.4 L244.0 419.2 L244.3 419.2 L244.5 422.0 L244.7 423.9 L245.0 420.8 L245.2 421.3 L245.5 419.8 L245.7 421.7 L245.9 419.3 L246.2 419.2 L246.4 419.9 L246.6 422.3 L246.9 420.2 L247.1 418.9 L247.3 419.6 L247.6 421.0 L247.8 419.8 L248.0 418.7 L248.3 424.0 L248.5 420.8 L248.8 420.1 L249.0 420.3 L249.2 419.3 L249.5 419.8 L249.7 420.4 L249.9 420.1 L250.2 419.4 L250.4 421.3 L250.6 420.0 L250.9 418.4 L251.1 416.5 L251.3 419.1 L251.6 418.4 L251.8 417.6 L252.1 416.1 L252.3 418.2 L252.5 416.6 L252.8 420.6 L253.0 419.9 L253.2 420.6 L253.5 419.4 L253.7 419.2 L253.9 423.0 L254.2 421.8 L254.4 420.0 L254.6 421.8 L254.9 423.3 L255.1 419.5 L255.4 420.1 L255.6 419.9 L255.8 421.2 L256.1 418.9 L256.3 420.6 L256.5 419.3 L256.8 422.3 L257.0 422.1 L257.2 421.2 L257.5 422.6 L257.7 420.6 L257.9 421.6 L258.2 423.9 L258.4 422.9 L258.6 423.8 L258.9 422.0 L259.1 423.7 L259.4 422.7 L259.6 420.0 L259.8 418.4 L260.1 418.9 L260.3 421.7 L260.5 421.7 L260.8 419.6 L261.0 421.7 L261.2 422.8 L261.5 420.7 L261.7 419.8 L261.9 421.2 L262.2 422.2 L262.4 421.5 L262.7 418.3 L262.9 420.3 L263.1 419.2 L263.4 418.9 L263.6 418.6 L263.8 420.2 L264.1 419.0 L264.3 421.3 L264.5 420.6 L264.8 420.9 L265.0 417.2 L265.2 418.4 L265.5 419.5 L265.7 419.2 L266.0 419.6 L266.2 418.8 L266.4 422.6 L266.7 422.4 L266.9 422.0 L267.1 418.1 L267.4 421.0 L267.6 423.0 L267.8 421.9 L268.1 420.3 L268.3 423.3 L268.5 423.2 L268.8 420.5 L269.0 421.3 L269.3 420.6 L269.5 422.3 L269.7 418.5 L270.0 419.2 L270.2 421.2 L270.4 421.5 L270.7 426.0 L270.9 422.7 L271.1 424.9 L271.4 424.6 L271.6 424.7 L271.8 425.8 L272.1 426.9 L272.3 422.6 L272.5 423.2 L272.8 421.9 L273.0 422.3 L273.3 421.7 L273.5 425.0 L273.7 420.3 L274.0 421.8 L274.2 421.0 L274.4 420.0 L274.7 422.4 L274.9 424.5 L275.1 423.2 L275.4 423.5 L275.6 422.8 L275.8 422.7 L276.1 426.5 L276.3 424.1 L276.6 427.5 L276.8 425.3 L277.0 425.4 L277.3 425.0 L277.5 423.7 L277.7 423.7 L278.0 423.4 L278.2 424.9 L278.4 422.6 L278.7 420.4 L278.9 420.6 L279.1 422.2 L279.4 423.4 L279.6 425.8 L279.9 422.6 L280.1 424.4 L280.3 424.2 L280.6 424.2 L280.8 423.5 L281.0 423.7 L281.3 423.1 L281.5 424.5 L281.7 423.4 L282.0 419.7 L282.2 422.6 L282.4 422.3 L282.7 420.7 L282.9 419.6 L283.2 421.8 L283.4 420.3 L283.6 418.7 L283.9 419.8 L284.1 420.4 L284.3 418.5 L284.6 421.4 L284.8 420.1 L285.0 420.4 L285.3 416.6 L285.5 421.1 L285.7 419.7 L286.0 419.8 L286.2 418.4 L286.5 418.7 L286.7 417.9 L286.9 422.8 L287.2 420.0 L287.4 422.1 L287.6 423.1 L287.9 421.8 L288.1 423.9 L288.3 425.6 L288.6 422.9 L288.8 424.7 L289.0 423.5 L289.3 421.8 L289.5 421.5 L289.7 419.4 L290.0 421.8 L290.2 423.8 L290.5 423.2 L290.7 423.4 L290.9 423.9 L291.2 421.6 L291.4 423.0 L291.6 424.0 L291.9 419.7 L292.1 420.1 L292.3 419.0 L292.6 419.3 L292.8 418.5 L293.0 418.9 L293.3 417.2 L293.5 418.7 L293.8 418.4 L294.0 418.6 L294.2 421.5 L294.5 419.7 L294.7 419.8 L294.9 419.2 L295.2 421.6 L295.4 417.7 L295.6 419.8 L295.9 421.4 L296.1 422.0 L296.3 419.9 L296.6 419.2 L296.8 419.7 L297.1 417.8 L297.3 418.2 L297.5 416.1 L297.8 418.0 L298.0 417.6 L298.2 416.5 L298.5 414.5 L298.7 419.8 L298.9 419.4 L299.2 420.2 L299.4 417.8 L299.6 420.4 L299.9 419.2 L300.1 418.6 L300.4 420.8 L300.6 421.7 L300.8 421.6 L301.1 424.1 L301.3 423.2 L301.5 421.3 L301.8 420.3 L302.0 420.6 L302.2 423.1 L302.5 422.0 L302.7 420.3 L302.9 420.5 L303.2 420.7 L303.4 421.3 L303.6 418.3 L303.9 419.5 L304.1 420.4 L304.4 420.1 L304.6 417.0 L304.8 418.9 L305.1 417.2 L305.3 418.8 L305.5 416.6 L305.8 418.4 L306.0 418.0 L306.2 414.3 L306.5 417.1 L306.7 419.2 L306.9 419.2 L307.2 418.4 L307.4 417.2 L307.7 419.5 L307.9 421.7 L308.1 419.8 L308.4 419.7 L308.6 420.5 L308.8 419.4 L309.1 421.4 L309.3 420.6 L309.5 422.7 L309.8 419.3 L310.0 416.6 L310.2 417.1 L310.5 416.8 L310.7 416.1 L311.0 413.9 L311.2 417.6 L311.4 416.8 L311.7 416.8 L311.9 416.3 L312.1 417.7 L312.4 416.7 L312.6 417.6 L312.8 416.8 L313.1 417.3 L313.3 419.3 L313.5 418.6 L313.8 417.5 L314.0 419.5 L314.3 418.2 L314.5 416.5 L314.7 418.3 L315.0 416.3 L315.2 418.0 L315.4 415.1 L315.7 413.1 L315.9 413.0 L316.1 415.1 L316.4 413.4 L316.6 413.4M322.7 316.5 L323.0 316.6 L323.2 316.9M329.3 414.5 L329.6 412.4 L329.8 412.9 L330.0 417.6 L330.3 416.0 L330.5 413.7 L330.7 413.0 L331.0 412.8 L331.2 413.9 L331.4 413.8 L331.7 414.3 L331.9 415.8 L332.2 414.7 L332.4 419.1 L332.6 415.5 L332.9 417.8 L333.1 415.6 L333.3 417.3 L333.6 418.8 L333.8 417.6 L334.0 419.2 L334.3 419.2 L334.5 419.9 L334.7 417.3 L335.0 415.9 L335.2 414.5 L335.5 415.9 L335.7 414.6 L335.9 416.4 L336.2 417.3 L336.4 417.0 L336.6 417.0 L336.9 419.3 L337.1 419.2 L337.3 418.7 L337.6 418.2 L337.8 419.2 L338.0 416.2 L338.3 417.9 L338.5 416.2 L338.8 417.8 L339.0 416.0 L339.2 416.5 L339.5 417.9 L339.7 415.0 L339.9 418.0 L340.2 416.4 L340.4 417.1 L340.6 419.3 L340.9 418.9 L341.1 417.9 L341.3 418.0 L341.6 417.2 L341.8 416.7 L342.1 418.4 L342.3 416.3 L342.5 419.3 L342.8 416.3 L343.0 418.2 L343.2 418.5 L343.5 417.4 L343.7 416.4 L343.9 418.2 L344.2 418.5 L344.4 418.3 L344.6 420.0 L344.9 419.2 L345.1 415.9 L345.4 419.3 L345.6 417.3 L345.8 419.4 L346.1 416.4 L346.3 416.8 L346.5 416.1 L346.8 414.9 L347.0 412.9 L347.2 415.0 L347.5 415.7 L347.7 418.3 L347.9 417.0 L348.2 418.8 L348.4 417.5 L348.6 418.8 L348.9 416.0 L349.1 420.6 L349.4 417.9 L349.6 416.3 L349.8 417.4 L350.1 417.5 L350.3 416.0 L350.5 416.6 L350.8 414.1 L351.0 410.9 L351.2 413.2 L351.5 416.5 L351.7 416.8 L351.9 416.9 L352.2 415.4 L352.4 417.3 L352.7 416.7 L352.9 414.4 L353.1 413.7 L353.4 414.9 L353.6 415.3 L353.8 415.8 L354.1 414.5 L354.3 416.4 L354.5 412.1 L354.8 413.7 L355.0 412.1 L355.2 410.4 L355.5 411.5 L355.7 415.3 L356.0 413.6 L356.2 413.9 L356.4 416.7 L356.7 417.0 L356.9 415.6 L357.1 416.8 L357.4 412.9 L357.6 417.7 L357.8 416.0 L358.1 414.9 L358.3 415.0 L358.5 414.2 L358.8 413.7 L359.0 413.9 L359.3 411.7 L359.5 415.8 L359.7 413.4 L360.0 414.8 L360.2 414.5 L360.4 414.9 L360.7 416.1 L360.9 415.8 L361.1 413.9 L361.4 414.5 L361.6 415.7 L361.8 411.9 L362.1 411.1 L362.3 415.0 L362.5 412.1 L362.8 409.0 L363.0 410.5 L363.3 410.8 L363.5 410.8 L363.7 410.8 L364.0 409.6 L364.2 409.4 L364.4 407.3 L364.7 408.0 L364.9 408.0 L365.1 408.8 L365.4 407.6 L365.6 408.6 L365.8 407.9 L366.1 406.3 L366.3 406.9 L366.6 406.7 L366.8 406.6 L367.0 406.8 L367.3 406.7 L367.5 406.8 L367.7 405.8 L368.0 407.8 L368.2 405.3 L368.4 406.6 L368.7 407.5 L368.9 407.2 L369.1 407.3 L369.4 406.5 L369.6 407.4 L369.9 405.9 L370.1 407.5 L370.3 408.8 L370.6 407.0 L370.8 407.6 L371.0 405.0 L371.3 403.1 L371.5 402.9 L371.7 404.2 L372.0 402.9 L372.2 400.0 L372.4 400.7 L372.7 400.1 L372.9 398.2 L373.2 396.0 L373.4 396.1M386.1 56.1 L386.3 57.4M399.1 401.2 L399.3 402.1 L399.5 399.5 L399.8 402.1 L400.0 403.2 L400.2 402.6 L400.5 402.8 L400.7 404.2 L401.0 403.0 L401.2 404.9 L401.4 406.2 L401.7 405.8 L401.9 405.9 L402.1 407.9 L402.4 407.1 L402.6 407.8 L402.8 405.4 L403.1 409.3 L403.3 407.6 L403.5 409.5 L403.8 410.1 L404.0 409.5 L404.3 409.5 L404.5 409.3 L404.7 410.4 L405.0 411.3 L405.2 411.1 L405.4 409.8 L405.7 409.5 L405.9 408.7 L406.1 410.1 L406.4 409.6 L406.6 409.6 L406.8 412.0 L407.1 414.3 L407.3 414.1 L407.5 414.7 L407.8 411.7 L408.0 414.9 L408.3 412.9 L408.5 413.8 L408.7 412.2 L409.0 412.7 L409.2 413.6 L409.4 413.6 L409.7 413.6 L409.9 413.4 L410.1 414.6 L410.4 414.5 L410.6 413.0 L410.8 417.5 L411.1 415.8 L411.3 417.5 L411.6 416.6 L411.8 415.9 L412.0 417.3 L412.3 416.9 L412.5 420.3 L412.7 416.8 L413.0 418.8 L413.2 417.0 L413.4 417.5 L413.7 420.7 L413.9 418.3 L414.1 417.2 L414.4 415.7 L414.6 417.6 L414.9 418.2 L415.1 420.7 L415.3 417.4 L415.6 416.5 L415.8 418.7 L416.0 418.5 L416.3 419.7 L416.5 416.0 L416.7 413.5 L417.0 415.8 L417.2 415.8 L417.4 417.0 L417.7 419.4 L417.9 416.4 L418.2 419.8 L418.4 418.5 L418.6 418.1 L418.9 417.3 L419.1 418.4 L419.3 418.6 L419.6 420.2 L419.8 420.8 L420.0 418.6 L420.3 419.2 L420.5 419.3 L420.7 418.4 L421.0 416.5 L421.2 417.5 L421.4 416.2 L421.7 416.2 L421.9 413.7 L422.2 413.5 L422.4 411.8 L422.6 417.3 L422.9 417.8 L423.1 416.7 L423.3 419.5 L423.6 420.4 L423.8 417.6 L424.0 419.5 L424.3 419.8 L424.5 418.8 L424.7 415.9 L425.0 415.1 L425.2 416.8 L425.5 416.4 L425.7 414.8 L425.9 415.6 L426.2 417.7 L426.4 416.7 L426.6 417.5 L426.9 420.8 L427.1 418.7 L427.3 417.8 L427.6 418.7 L427.8 420.7 L428.0 418.0 L428.3 416.6 L428.5 415.8 L428.8 420.8 L429.0 414.5 L429.2 419.5 L429.5 416.7 L429.7 416.4 L429.9 417.1 L430.2 418.7 L430.4 421.1 L430.6 418.5 L430.9 420.3 L431.1 423.1 L431.3 415.7 L431.6 418.8 L431.8 417.5 L432.1 422.1 L432.3 419.5 L432.5 420.1 L432.8 421.0 L433.0 423.8 L433.2 425.0 L433.5 422.8 L433.7 425.1 L433.9 423.8 L434.2 421.0 L434.4 422.2 L434.6 421.1 L434.9 420.7 L435.1 418.0 L435.3 419.1 L435.6 421.5 L435.8 420.4 L436.1 423.2 L436.3 422.7 L436.5 420.9 L436.8 423.9 L437.0 422.2 L437.2 423.5 L437.5 421.2 L437.7 419.3 L437.9 422.7 L438.2 421.6 L438.4 423.5 L438.6 424.0 L438.9 424.1 L439.1 420.7 L439.4 419.8 L439.6 422.3 L439.8 424.1 L440.1 422.0 L440.3 423.1 L440.5 421.4 L440.8 422.3 L441.0 422.4 L441.2 422.0 L441.5 423.6 L441.7 423.4 L441.9 425.5 L442.2 423.8 L442.4 425.6 L442.7 423.8 L442.9 425.1 L443.1 423.4 L443.4 423.0 L443.6 425.4 L443.8 424.7 L444.1 425.2 L444.3 422.9 L444.5 421.8 L444.8 423.0 L445.0 424.4 L445.2 421.3 L445.5 424.7 L445.7 420.4 L446.0 423.7 L446.2 427.2 L446.4 420.1 L446.7 421.7 L446.9 425.3 L447.1 423.5 L447.4 423.9 L447.6 423.0 L447.8 424.7 L448.1 423.4 L448.3 421.4 L448.5 421.6 L448.8 420.5 L449.0 422.3 L449.2 419.1 L449.5 423.2 L449.7 421.4 L450.0 424.1 L450.2 423.1 L450.4 419.5 L450.7 422.7 L450.9 420.5 L451.1 421.2 L451.4 422.4 L451.6 421.3 L451.8 421.5 L452.1 421.5 L452.3 419.7 L452.5 420.0 L452.8 421.7 L453.0 422.4 L453.3 420.9 L453.5 421.8 L453.7 420.3 L454.0 417.9 L454.2 420.8 L454.4 422.2 L454.7 422.1 L454.9 422.9 L455.1 422.7 L455.4 422.5 L455.6 421.7 L455.8 422.0 L456.1 420.5 L456.3 422.0 L456.6 421.7 L456.8 422.9 L457.0 418.8 L457.3 420.4 L457.5 418.8 L457.7 420.4 L458.0 419.7 L458.2 422.7 L458.4 421.4 L458.7 418.7 L458.9 424.5 L459.1 421.2 L459.4 420.8 L459.6 423.3 L459.9 423.5 L460.1 423.2 L460.3 426.4 L460.6 424.9 L460.8 426.6 L461.0 425.8 L461.3 425.1 L461.5 424.1 L461.7 423.4 L462.0 422.9 L462.2 425.6 L462.4 420.5 L462.7 421.7 L462.9 421.7 L463.2 422.9 L463.4 422.4 L463.6 421.4 L463.9 421.3 L464.1 423.4 L464.3 419.4 L464.6 416.0 L464.8 422.5 L465.0 418.4 L465.3 419.2 L465.5 420.0 L465.7 418.2 L466.0 421.9 L466.2 420.0 L466.4 418.2 L466.7 420.5 L466.9 421.1 L467.2 420.3 L467.4 420.9 L467.6 418.0 L467.9 421.4 L468.1 418.6 L468.3 421.8 L468.6 419.1 L468.8 420.7 L469.0 425.4 L469.3 422.2 L469.5 424.1 L469.7 423.3 L470.0 420.7 L470.2 424.7 L470.5 424.6 L470.7 420.8 L470.9 422.9 L471.2 421.1 L471.4 422.9 L471.6 424.6 L471.9 423.5 L472.1 421.8 L472.3 422.0 L472.6 423.0 L472.8 422.5 L473.0 422.9 L473.3 423.5 L473.5 419.3 L473.8 421.6 L474.0 422.5 L474.2 420.7 L474.5 418.6 L474.7 418.5 L474.9 419.7 L475.2 420.3 L475.4 419.3 L475.6 421.8 L475.9 421.1 L476.1 418.3 L476.3 420.7 L476.6 420.4 L476.8 419.9 L477.1 421.4 L477.3 422.7 L477.5 419.9 L477.8 422.0 L478.0 423.5 L478.2 422.0 L478.5 423.1 L478.7 425.5 L478.9 424.3 L479.2 424.7 L479.4 427.4 L479.6 424.4 L479.9 424.7 L480.1 424.5 L480.3 426.0 L480.6 424.5 L480.8 423.6 L481.1 423.3 L481.3 424.2 L481.5 421.1 L481.8 422.9 L482.0 420.8 L482.2 418.6 L482.5 421.7 L482.7 421.7 L482.9 419.8 L483.2 422.1 L483.4 422.1 L483.6 421.6 L483.9 420.3 L484.1 425.1 L484.4 423.4 L484.6 423.8 L484.8 424.1 L485.1 423.8 L485.3 423.9 L485.5 422.7 L485.8 424.4 L486.0 423.2 L486.2 423.0 L486.5 424.5 L486.7 423.1 L486.9 420.2 L487.2 421.1 L487.4 421.5 L487.7 420.2 L487.9 420.4 L488.1 417.9 L488.4 416.5 L488.6 418.6 L488.8 418.0 L489.1 416.7 L489.3 419.4 L489.5 418.8 L489.8 420.8 L490.0 420.8 L490.2 420.7 L490.5 417.5 L490.7 420.8 L491.0 420.8 L491.2 420.3 L491.4 419.3 L491.7 417.8 L491.9 418.2 L492.1 416.0 L492.4 417.8 L492.6 416.1 L492.8 417.4 L493.1 416.9 L493.3 418.9 L493.5 416.5 L493.8 416.2 L494.0 416.2 L494.2 419.0 L494.5 415.7 L494.7 418.0 L495.0 418.6 L495.2 418.9 L495.4 419.5 L495.7 419.3 L495.9 422.3 L496.1 422.5 L496.4 421.0 L496.6 420.8 L496.8 421.0 L497.1 420.2 L497.3 419.3 L497.5 417.4 L497.8 415.2 L498.0 418.0 L498.3 414.9 L498.5 416.0 L498.7 418.6 L499.0 417.9 L499.2 422.2 L499.4 423.6 L499.7 423.6 L499.9 423.0 L500.1 422.9 L500.4 422.5 L500.6 420.9 L500.8 423.5 L501.1 419.4 L501.3 421.9 L501.6 421.4 L501.8 421.3 L502.0 422.4 L502.3 423.3 L502.5 423.4 L502.7 422.0 L503.0 421.3 L503.2 421.2 L503.4 422.8 L503.7 421.7 L503.9 421.1 L504.1 419.1 L504.4 422.5 L504.6 418.5 L504.9 421.0 L505.1 421.5 L505.3 419.8 L505.6 418.5 L505.8 418.8 L506.0 417.3 L506.3 418.8 L506.5 417.6 L506.7 417.7 L507.0 419.5 L507.2 417.6 L507.4 418.7 L507.7 418.7 L507.9 419.9 L508.1 418.7 L508.4 416.9 L508.6 419.5 L508.9 416.4 L509.1 416.4 L509.3 416.1 L509.6 419.2 L509.8 416.6 L510.0 416.1 L510.3 418.3 L510.5 417.7 L510.7 421.3 L511.0 417.2 L511.2 419.3 L511.4 417.4 L511.7 420.9 L511.9 418.4 L512.2 419.9 L512.4 419.1 L512.6 421.6 L512.9 421.2 L513.1 417.4 L513.3 421.0 L513.6 420.6 L513.8 420.1 L514.0 420.9 L514.3 417.8 L514.5 417.0 L514.7 419.8 L515.0 420.5 L515.2 416.5 L515.5 416.1 L515.7 416.2 L515.9 415.7 L516.2 418.8 L516.4 418.4 L516.6 420.1 L516.9 420.6 L517.1 417.2 L517.3 419.0 L517.6 415.4 L517.8 417.8 L518.0 418.8 L518.3 416.7 L518.5 415.0 L518.8 416.2 L519.0 417.6 L519.2 415.0 L519.5 413.1 L519.7 414.9 L519.9 415.1 L520.2 413.2 L520.4 414.0 L520.6 415.6 L520.9 414.8 L521.1 415.1 L521.3 413.5 L521.6 413.4 L521.8 411.9 L522.1 412.0 L522.3 414.1 L522.5 411.8 L522.8 410.9 L523.0 411.3 L523.2 410.8 L523.5 412.4 L523.7 412.5 L523.9 410.3 L524.2 412.3 L524.4 413.2 L524.6 409.2 L524.9 410.7 L525.1 410.2 L525.3 411.8 L525.6 411.7 L525.8 411.4 L526.1 410.3 L526.3 409.3 L526.5 411.2 L526.8 407.2 L527.0 408.0 L527.2 407.4 L527.5 405.3 L527.7 405.7 L527.9 406.8 L528.2 403.2 L528.4 405.2 L528.6 403.6 L528.9 402.9M539.7 310.2 L540.0 309.5 L540.2 309.5 L540.4 309.8 L540.7 310.6M551.3 401.4 L551.5 402.6 L551.7 403.4 L552.0 403.1 L552.2 404.5 L552.4 404.3 L552.7 404.0 L552.9 404.8 L553.1 404.7 L553.4 405.8 L553.6 404.4 L553.9 406.0 L554.1 407.9 L554.3 409.1 L554.6 407.3 L554.8 409.2 L555.0 409.6 L555.3 409.0 L555.5 409.4 L555.7 408.5 L556.0 410.5 L556.2 408.9 L556.4 412.0 L556.7 410.6 L556.9 412.4 L557.2 409.5 L557.4 411.8 L557.6 411.8 L557.9 411.3 L558.1 411.7 L558.3 414.9 L558.6 414.6 L558.8 416.2 L559.0 414.7 L559.3 415.0 L559.5 415.6 L559.7 416.1 L560.0 415.6 L560.2 415.8 L560.5 414.3 L560.7 413.1 L560.9 417.0 L561.2 415.1 L561.4 415.3 L561.6 414.2 L561.9 415.4 L562.1 414.5 L562.3 415.7 L562.6 413.9 L562.8 414.9 L563.0 415.4 L563.3 415.0 L563.5 415.9 L563.8 417.2 L564.0 414.4 L564.2 414.3 L564.5 414.4 L564.7 412.7 L564.9 412.8 L565.2 415.3 L565.4 414.5 L565.6 411.6 L565.9 411.3 L566.1 413.6 L566.3 414.2 L566.6 414.0 L566.8 414.2 L567.0 415.7 L567.3 414.2 L567.5 415.6 L567.8 415.6 L568.0 412.7 L568.2 414.2 L568.5 413.0 L568.7 412.0 L568.9 411.6 L569.2 412.3 L569.4 411.1 L569.6 411.4 L569.9 408.3 L570.1 408.9 L570.3 410.4 L570.6 408.8 L570.8 407.3 L571.1 407.2 L571.3 405.6 L571.5 405.9 L571.8 407.8 L572.0 407.4 L572.2 408.7 L572.5 407.2 L572.7 407.1 L572.9 404.4 L573.2 406.2 L573.4 407.2M582.6 281.3 L582.8 281.6 L583.1 283.1M592.7 410.6 L593.0 412.1 L593.2 413.7 L593.4 414.9 L593.7 413.5 L593.9 413.0 L594.1 415.7 L594.4 415.5 L594.6 414.4 L594.9 415.0 L595.1 413.3 L595.3 416.3 L595.6 415.1 L595.8 417.6 L596.0 414.3 L596.3 417.6 L596.5 419.5 L596.7 417.4 L597.0 417.6 L597.2 415.7 L597.4 418.3 L597.7 418.5 L597.9 418.5 L598.1 417.9 L598.4 420.7 L598.6 419.9 L598.9 421.0 L599.1 422.3 L599.3 422.1 L599.6 422.2 L599.8 423.2 L600.0 421.0 L600.3 424.4 L600.5 421.6 L600.7 422.1 L601.0 423.7 L601.2 424.5 L601.4 423.9 L601.7 422.8 L601.9 422.1 L602.2 422.6 L602.4 421.5 L602.6 423.7 L602.9 422.6 L603.1 425.0 L603.3 422.2 L603.6 422.8 L603.8 423.1 L604.0 420.9 L604.3 421.0 L604.5 424.8 L604.7 420.7 L605.0 422.2 L605.2 418.8 L605.5 417.2 L605.7 421.1 L605.9 420.6 L606.2 420.8 L606.4 420.2 L606.6 419.9 L606.9 419.2 L607.1 422.6 L607.3 419.8 L607.6 423.5 L607.8 422.9 L608.0 422.1 L608.3 423.1 L608.5 424.9 L608.8 424.5 L609.0 423.5 L609.2 422.1 L609.5 419.6 L609.7 422.3 L609.9 420.0 L610.2 420.1 L610.4 421.0 L610.6 422.0 L610.9 421.2 L611.1 422.4 L611.3 421.6 L611.6 421.6 L611.8 419.7 L612.0 424.1 L612.3 420.3 L612.5 422.1 L612.8 422.2 L613.0 422.6 L613.2 423.6 L613.5 421.1 L613.7 420.8 L613.9 419.0 L614.2 421.0 L614.4 417.6 L614.6 418.7 L614.9 419.0 L615.1 419.4 L615.3 419.3 L615.6 419.1 L615.8 418.1 L616.1 417.2 L616.3 416.9 L616.5 417.9 L616.8 416.3 L617.0 416.8 L617.2 415.4 L617.5 413.4 L617.7 414.6 L617.9 415.3 L618.2 416.1 L618.4 415.1M625.5 369.5 L625.7 368.7 L625.9 369.1 L626.2 369.3 L626.4 369.7 L626.7 371.9M633.5 408.9 L633.7 410.5 L634.0 410.0 L634.2 410.4 L634.4 410.3 L634.7 413.9 L634.9 412.6 L635.1 415.4 L635.4 416.7 L635.6 417.0 L635.8 417.9 L636.1 419.2 L636.3 420.4 L636.6 419.8 L636.8 416.7 L637.0 416.0 L637.3 417.7 L637.5 417.4 L637.7 419.9 L638.0 420.3 L638.2 421.1 L638.4 423.2 L638.7 423.4 L638.9 421.8 L639.1 421.1 L639.4 420.9 L639.6 417.7 L639.9 417.2 L640.1 414.5 L640.3 415.0 L640.6 415.2 L640.8 414.8 L641.0 415.8 L641.3 417.6 L641.5 418.2 L641.7 417.7 L642.0 418.6 L642.2 418.1 L642.4 421.9 L642.7 420.5 L642.9 420.6 L643.1 419.9 L643.4 420.9 L643.6 421.8 L643.9 420.3 L644.1 421.5 L644.3 423.4 L644.6 419.6 L644.8 419.2 L645.0 420.6 L645.3 418.3 L645.5 420.1 L645.7 417.9 L646.0 420.8 L646.2 422.8 L646.4 423.1 L646.7 424.1 L646.9 422.9 L647.2 422.5 L647.4 422.0 L647.6 422.7 L647.9 426.8 L648.1 421.9 L648.3 424.6 L648.6 421.5 L648.8 420.1 L649.0 420.9 L649.3 421.9 L649.5 421.5 L649.7 422.3 L650.0 423.1 L650.2 423.4 L650.5 424.0 L650.7 421.1 L650.9 422.9 L651.2 421.5 L651.4 423.3 L651.6 423.3 L651.9 423.7 L652.1 422.8 L652.3 422.3 L652.6 423.3 L652.8 424.6 L653.0 424.3 L653.3 421.0 L653.5 422.7 L653.8 422.0 L654.0 418.7 L654.2 418.7 L654.5 419.2 L654.7 420.4 L654.9 416.9 L655.2 419.9 L655.4 419.7 L655.6 421.0 L655.9 423.4 L656.1 423.7 L656.3 422.1 L656.6 423.2 L656.8 424.5 L657.0 426.1 L657.3 426.8 L657.5 425.1 L657.8 426.9 L658.0 423.7 L658.2 423.7 L658.5 421.5 L658.7 424.3 L658.9 426.7 L659.2 426.9 L659.4 430.6 L659.6 426.1 L659.9 424.8 L660.1 422.2 L660.3 421.9 L660.6 421.4 L660.8 421.8 L661.1 421.1 L661.3 420.9 L661.5 424.8 L661.8 423.6 L662.0 425.0 L662.2 420.5 L662.5 419.9 L662.7 420.1 L662.9 422.6 L663.2 420.7 L663.4 421.3 L663.6 421.0 L663.9 421.2 L664.1 420.2 L664.4 421.7 L664.6 420.1 L664.8 420.9 L665.1 421.7 L665.3 421.0 L665.5 421.9 L665.8 420.8 L666.0 422.7 L666.2 421.8 L666.5 422.4 L666.7 423.1 L666.9 419.4 L667.2 421.3 L667.4 418.3 L667.7 418.9 L667.9 421.9 L668.1 421.2 L668.4 420.7 L668.6 421.1 L668.8 421.7 L669.1 418.8 L669.3 420.3 L669.5 419.3 L669.8 420.9 L670.0 420.2 L670.2 421.6 L670.5 420.5 L670.7 419.4 L670.9 419.6 L671.2 420.2 L671.4 420.9 L671.7 419.1 L671.9 419.5 L672.1 421.1 L672.4 422.7 L672.6 421.1 L672.8 418.3 L673.1 422.0 L673.3 420.9 L673.5 420.3 L673.8 424.1 L674.0 419.9 L674.2 421.2 L674.5 418.7 L674.7 421.1 L675.0 421.9 L675.2 421.2 L675.4 420.7 L675.7 421.7 L675.9 421.0 L676.1 422.5 L676.4 420.8 L676.6 419.4 L676.8 417.6 L677.1 419.2 L677.3 419.7 L677.5 418.4 L677.8 418.3 L678.0 417.6 L678.3 418.3 L678.5 420.2 L678.7 419.5 L679.0 419.7 L679.2 418.9 L679.4 418.5 L679.7 418.9 L679.9 420.1 L680.1 417.8 L680.4 419.2 L680.6 416.6 L680.8 416.7 L681.1 418.5 L681.3 415.4 L681.6 414.6 L681.8 414.7 L682.0 412.7 L682.3 411.9 L682.5 415.1 L682.7 412.6 L683.0 413.4 L683.2 413.8 L683.4 413.7 L683.7 415.9 L683.9 415.9 L684.1 416.1 L684.4 415.9 L684.6 415.2 L684.8 416.4 L685.1 416.2 L685.3 414.4 L685.6 415.5 L685.8 415.0 L686.0 418.0 L686.3 417.1 L686.5 417.6 L686.7 418.1 L687.0 420.1 L687.2 419.1 L687.4 420.8 L687.7 420.6 L687.9 420.4 L688.1 419.5 L688.4 420.7 L688.6 418.9 L688.9 420.2 L689.1 421.0 L689.3 421.3 L689.6 421.0 L689.8 420.6 L690.0 421.0 L690.3 421.7 L690.5 420.7 L690.7 421.2 L691.0 418.8 L691.2 420.1 L691.4 422.6 L691.7 417.8 L691.9 419.8 L692.2 422.0 L692.4 420.9 L692.6 421.9 L692.9 417.7 L693.1 419.7 L693.3 422.6 L693.6 419.8 L693.8 421.1 L694.0 417.4 L694.3 421.7 L694.5 422.9 L694.7 419.5 L695.0 419.6 L695.2 419.5 L695.5 421.9 L695.7 418.3 L695.9 416.7 L696.2 421.4 L696.4 416.8 L696.6 419.1 L696.9 414.6 L697.1 417.2 L697.3 417.8 L697.6 415.7 L697.8 416.3 L698.0 417.8 L698.3 416.4 L698.5 418.8 L698.8 421.2 L699.0 416.7 L699.2 420.5 L699.5 421.6 L699.7 420.5 L699.9 423.3 L700.2 422.8 L700.4 421.2 L700.6 420.9 L700.9 419.8 L701.1 418.3 L701.3 420.4 L701.6 419.1 L701.8 418.8 L702.0 420.7 L702.3 418.4 L702.5 419.7 L702.8 417.1 L703.0 418.0 L703.2 418.7 L703.5 421.3 L703.7 419.5 L703.9 420.9 L704.2 418.3 L704.4 418.9 L704.6 419.7 L704.9 417.1 L705.1 417.8 L705.3 420.2 L705.6 418.6 L705.8 421.1 L706.1 421.3 L706.3 420.9 L706.5 422.1 L706.8 421.5 L707.0 420.8 L707.2 418.0 L707.5 417.3 L707.7 418.9 L707.9 415.9 L708.2 417.7 L708.4 416.6 L708.6 416.1 L708.9 416.9 L709.1 414.5 L709.4 417.5 L709.6 419.9 L709.8 416.4 L710.1 418.5 L710.3 418.1 L710.5 421.4 L710.8 416.4 L711.0 417.3 L711.2 417.6 L711.5 417.4 L711.7 416.4 L711.9 418.4 L712.2 416.6 L712.4 418.1 L712.7 417.2 L712.9 415.4 L713.1 416.2 L713.4 418.0 L713.6 415.3 L713.8 415.0 L714.1 415.4 L714.3 413.6 L714.5 414.1 L714.8 415.1 L715.0 414.4 L715.2 410.6 L715.5 413.9 L715.7 412.1 L715.9 411.9 L716.2 411.8M721.8 384.6 L722.1 384.3 L722.3 383.9 L722.5 385.7 L722.8 386.1 L723.0 385.2 L723.3 385.4 L723.5 384.9M728.4 405.0 L728.7 406.6 L728.9 407.6 L729.1 408.7 L729.4 408.8 L729.6 410.4 L729.8 410.9 L730.1 413.3 L730.3 411.5 L730.6 409.6 L730.8 412.4 L731.0 411.9 L731.3 410.7 L731.5 410.5 L731.7 410.8 L732.0 413.7 L732.2 411.4 L732.4 413.3 L732.7 413.0 L732.9 411.5 L733.1 412.3 L733.4 411.0 L733.6 408.5 L733.9 411.0 L734.1 410.9 L734.3 412.2 L734.6 411.5 L734.8 411.2 L735.0 410.4 L735.3 410.6 L735.5 409.8 L735.7 409.1 L736.0 409.7 L736.2 409.9 L736.4 409.4 L736.7 407.0M738.8 398.8 L739.0 398.4 L739.3 396.0 L739.5 396.8 L739.7 395.1 L740.0 393.5 L740.2 393.6 L740.5 394.0 L740.7 392.9 L740.9 394.2 L741.2 393.3 L741.4 394.0 L741.6 394.5 L741.9 394.0 L742.1 395.6 L742.3 393.8 L742.6 396.5 L742.8 395.4 L743.0 398.5 L743.3 397.7 L743.5 399.9M746.8 410.9 L747.0 412.3 L747.3 413.1 L747.5 412.4 L747.8 414.5 L748.0 416.5 L748.2 417.0 L748.5 415.1 L748.7 417.5 L748.9 417.9 L749.2 415.6 L749.4 416.0 L749.6 416.3 L749.9 416.7 L750.1 417.6 L750.3 417.4 L750.6 417.2 L750.8 417.5 L751.1 417.7 L751.3 417.9 L751.5 418.8 L751.8 419.1 L752.0 420.7 L752.2 422.0 L752.5 419.7 L752.7 419.9 L752.9 418.8 L753.2 417.9 L753.4 418.8 L753.6 418.5 L753.9 417.4 L754.1 417.6 L754.4 419.1 L754.6 418.3 L754.8 420.1 L755.1 422.2 L755.3 421.7 L755.5 419.5 L755.8 423.2 L756.0 421.1 L756.2 420.6 L756.5 419.3 L756.7 421.6 L756.9 416.7 L757.2 418.8 L757.4 419.2 L757.7 419.1 L757.9 418.0 L758.1 419.1 L758.4 419.9 L758.6 418.3 L758.8 421.6 L759.1 422.6 L759.3 420.5 L759.5 421.2 L759.8 420.9 L760.0 423.8 L760.2 420.8 L760.5 421.0 L760.7 419.2 L760.9 423.1 L761.2 421.1 L761.4 422.4 L761.7 424.9 L761.9 424.1 L762.1 421.6 L762.4 424.1 L762.6 424.2 L762.8 422.0 L763.1 421.8 L763.3 421.5 L763.5 424.0 L763.8 422.7 L764.0 420.9 L764.2 422.7 L764.5 422.7 L764.7 420.6 L765.0 419.9 L765.2 424.1 L765.4 426.1 L765.7 424.3 L765.9 423.7 L766.1 422.1 L766.4 421.1 L766.6 421.8 L766.8 422.5 L767.1 421.5 L767.3 422.9 L767.5 421.7 L767.8 422.2 L768.0 417.5 L768.3 420.0 L768.5 422.1 L768.7 422.8 L769.0 422.2 L769.2 424.3 L769.4 423.1 L769.7 423.7 L769.9 421.6 L770.1 424.0 L770.4 424.7 L770.6 425.9 L770.8 425.7 L771.1 424.9 L771.3 425.4 L771.6 423.5 L771.8 425.6 L772.0 422.7 L772.3 422.5 L772.5 421.6 L772.7 423.3 L773.0 421.7 L773.2 418.6 L773.4 417.7 L773.7 420.4 L773.9 420.0 L774.1 422.3 L774.4 422.7 L774.6 422.9 L774.8 420.7 L775.1 421.8 L775.3 422.7 L775.6 422.7 L775.8 421.6 L776.0 422.1 L776.3 424.1 L776.5 420.5 L776.7 422.6 L777.0 422.1 L777.2 419.2 L777.4 419.8 L777.7 421.0 L777.9 420.3 L778.1 423.5 L778.4 423.7 L778.6 426.8 L778.9 422.0 L779.1 426.9 L779.3 423.4 L779.6 425.6 L779.8 425.7 L780.0 424.5 L780.3 424.1 L780.5 423.9 L780.7 422.3 L781.0 424.6 L781.2 424.2 L781.4 426.6 L781.7 424.4 L781.9 425.1 L782.2 426.1 L782.4 425.1 L782.6 424.4 L782.9 423.9 L783.1 422.8 L783.3 424.0 L783.6 424.7 L783.8 422.8 L784.0 426.2 L784.3 424.4 L784.5 420.7 L784.7 426.7 L785.0 423.2 L785.2 421.5 L785.5 425.0 L785.7 419.4 L785.9 427.2 L786.2 421.4 L786.4 420.9 L786.6 421.5 L786.9 422.4 L787.1 421.1 L787.3 422.7 L787.6 420.7 L787.8 423.6 L788.0 422.3 L788.3 420.6 L788.5 424.1 L788.7 423.2 L789.0 423.1 L789.2 425.4 L789.5 421.8 L789.7 422.8 L789.9 425.3 L790.2 423.2 L790.4 424.5 L790.6 424.3 L790.9 424.2 L791.1 425.5 L791.3 423.3 L791.6 425.4 L791.8 422.3 L792.0 423.4 L792.3 422.1 L792.5 423.5 L792.8 422.9 L793.0 423.7 L793.2 420.8 L793.5 419.8 L793.7 418.1 L793.9 418.8 L794.2 420.0 L794.4 420.3 L794.6 419.2 L794.9 420.0 L795.1 418.3 L795.3 419.7 L795.6 423.1 L795.8 423.3 L796.1 420.7 L796.3 422.8 L796.5 423.8 L796.8 421.7 L797.0 424.0 L797.2 423.6 L797.5 423.9 L797.7 426.0 L797.9 422.1 L798.2 424.9 L798.4 424.2 L798.6 424.8 L798.9 422.9 L799.1 424.4 L799.4 424.3 L799.6 426.6 L799.8 424.5 L800.1 426.5 L800.3 424.0 L800.5 423.5 L800.8 424.2 L801.0 420.9 L801.2 423.4 L801.5 423.3 L801.7 424.4 L801.9 424.9 L802.2 422.8 L802.4 422.8 L802.6 426.1 L802.9 422.4 L803.1 423.1 L803.4 422.4 L803.6 423.4 L803.8 425.5 L804.1 424.8 L804.3 420.2 L804.5 422.2 L804.8 424.1 L805.0 421.2 L805.2 422.4 L805.5 424.7 L805.7 425.6 L805.9 424.5 L806.2 421.7 L806.4 422.7 L806.7 423.0 L806.9 422.7 L807.1 421.9 L807.4 426.0 L807.6 423.5 L807.8 424.5 L808.1 425.8 L808.3 425.2 L808.5 424.8 L808.8 425.0 L809.0 426.0 L809.2 423.7 L809.5 419.2 L809.7 423.0 L810.0 423.5 L810.2 420.7 L810.4 420.6 L810.7 421.4 L810.9 424.3 L811.1 421.4 L811.4 423.7 L811.6 423.6 L811.8 422.9 L812.1 422.2 L812.3 421.1 L812.5 421.4 L812.8 422.3 L813.0 421.1 L813.3 422.1 L813.5 420.7 L813.7 424.0 L814.0 423.9 L814.2 420.6 L814.4 423.7 L814.7 421.7 L814.9 421.2 L815.1 421.7 L815.4 421.9 L815.6 419.6 L815.8 426.1 L816.1 422.0 L816.3 420.4 L816.6 423.4 L816.8 422.9 L817.0 421.2 L817.3 419.0 L817.5 423.1 L817.7 421.5 L818.0 422.0 L818.2 420.9 L818.4 421.1 L818.7 420.3 L818.9 421.3 L819.1 420.3 L819.4 421.5 L819.6 421.6 L819.8 421.1 L820.1 421.2 L820.3 422.8 L820.6 419.3 L820.8 421.5 L821.0 423.1 L821.3 419.5 L821.5 421.9 L821.7 420.0 L822.0 420.7 L822.2 420.3 L822.4 420.1 L822.7 420.9 L822.9 420.1 L823.1 417.5 L823.4 422.7 L823.6 420.0 L823.9 419.7 L824.1 421.5 L824.3 421.6 L824.6 417.0 L824.8 419.2 L825.0 415.4 L825.3 416.2 L825.5 416.2 L825.7 415.4 L826.0 415.2 L826.2 414.5 L826.4 415.0 L826.7 415.2 L826.9 414.5 L827.2 412.7 L827.4 412.9 L827.6 414.5 L827.9 413.6 L828.1 412.3 L828.3 413.4 L828.6 413.1 L828.8 413.5 L829.0 412.8 L829.3 411.7 L829.5 410.4 L829.7 410.4 L830.0 407.2 L830.2 408.3 L830.5 404.6 L830.7 406.6 L830.9 407.4 L831.2 408.9 L831.4 411.4 L831.6 409.1 L831.9 408.9 L832.1 407.0 L832.3 409.8 L832.6 406.3 L832.8 408.5 L833.0 407.8 L833.3 411.6 L833.5 409.7 L833.7 411.3 L834.0 410.9 L834.2 412.1 L834.5 413.4 L834.7 411.4 L834.9 411.8 L835.2 412.0 L835.4 412.0 L835.6 412.4 L835.9 414.1 L836.1 416.2 L836.3 416.4 L836.6 413.9 L836.8 414.9 L837.0 415.8 L837.3 416.6 L837.5 416.5 L837.8 417.1 L838.0 418.2 L838.2 419.4 L838.5 416.2 L838.7 418.7 L838.9 420.0 L839.2 420.5 L839.4 419.6 L839.6 418.0 L839.9 418.3 L840.1 420.0 L840.3 420.7 L840.6 421.7 L840.8 423.2 L841.1 420.3 L841.3 421.4 L841.5 419.0 L841.8 424.0 L842.0 423.7 L842.2 423.0 L842.5 424.9 L842.7 426.7 L842.9 426.2 L843.2 424.9 L843.4 424.1 L843.6 424.0 L843.9 422.0 L844.1 421.6 L844.4 422.2 L844.6 422.0 L844.8 421.8 L845.1 420.4 L845.3 420.0 L845.5 421.3 L845.8 421.3 L846.0 423.3 L846.2 425.2 L846.5 425.4 L846.7 423.2 L846.9 424.3 L847.2 422.6 L847.4 424.7 L847.6 423.3 L847.9 422.5 L848.1 422.9 L848.4 424.8 L848.6 423.8 L848.8 422.6 L849.1 424.2 L849.3 422.1 L849.5 421.9 L849.8 424.7 L850.0 421.6 L850.2 425.2 L850.5 425.2 L850.7 425.0 L850.9 425.3 L851.2 423.3 L851.4 423.5 L851.7 421.5 L851.9 423.1 L852.1 423.7 L852.4 424.8 L852.6 426.5 L852.8 424.0 L853.1 424.5 L853.3 421.3 L853.5 422.2 L853.8 419.4 L854.0 420.5 L854.2 420.4 L854.5 421.5 L854.7 422.4 L855.0 422.1 L855.2 422.5 L855.4 425.3 L855.7 423.4 L855.9 419.5 L856.1 422.0 L856.4 420.8 L856.6 420.7 L856.8 421.5 L857.1 417.9 L857.3 420.0 L857.5 420.0 L857.8 418.5 L858.0 417.9 L858.3 423.3 L858.5 421.1 L858.7 422.6 L859.0 423.6 L859.2 424.0 L859.4 424.8 L859.7 422.4 L859.9 423.5 L860.1 423.8 L860.4 422.3 L860.6 423.0 L860.8 423.8 L861.1 424.5 L861.3 422.5 L861.5 424.6 L861.8 425.6 L862.0 426.8 L862.3 426.1 L862.5 426.8 L862.7 425.3 L863.0 424.9 L863.2 428.3 L863.4 425.0 L863.7 423.5 L863.9 424.1 L864.1 425.6 L864.4 422.7 L864.6 425.4 L864.8 426.6 L865.1 426.4 L865.3 425.1 L865.6 423.8 L865.8 423.9 L866.0 425.4 L866.3 427.7 L866.5 426.7 L866.7 426.9 L867.0 425.1 L867.2 426.9 L867.4 423.3 L867.7 422.2 L867.9 423.1 L868.1 422.0 L868.4 424.3 L868.6 424.6 L868.9 423.5 L869.1 421.0 L869.3 421.1 L869.6 423.2 L869.8 420.3 L870.0 422.2 L870.3 419.1 L870.5 420.5 L870.7 422.0 L871.0 420.3 L871.2 422.7 L871.4 423.1 L871.7 423.5 L871.9 421.2 L872.2 421.7 L872.4 421.6 L872.6 422.0 L872.9 419.5 L873.1 422.6 L873.3 423.6 L873.6 421.0 L873.8 420.9 L874.0 422.1 L874.3 424.7 L874.5 423.0 L874.7 421.1 L875.0 422.1 L875.2 420.3 L875.5 424.8 L875.7 422.4 L875.9 424.4 L876.2 421.4 L876.4 423.5 L876.6 421.8 L876.9 424.5 L877.1 425.6 L877.3 425.8 L877.6 425.7 L877.8 426.8 L878.0 423.6 L878.3 423.7 L878.5 425.4 L878.7 427.4 L879.0 425.6 L879.2 425.7 L879.5 421.5 L879.7 422.1 L879.9 421.3 L880.2 421.8 L880.4 423.9 L880.6 422.2 L880.9 422.9 L881.1 421.1 L881.3 421.8 L881.6 423.2 L881.8 422.4 L882.0 419.9 L882.3 423.8 L882.5 423.7 L882.8 422.6 L883.0 423.1 L883.2 422.7 L883.5 421.3 L883.7 419.8 L883.9 425.3 L884.2 422.9 L884.4 423.2 L884.6 423.2 L884.9 423.4 L885.1 423.5 L885.3 421.3 L885.6 423.0 L885.8 422.1 L886.1 422.2 L886.3 422.2 L886.5 423.0 L886.8 421.4 L887.0 422.6 L887.2 422.4 L887.5 422.4 L887.7 423.6 L887.9 422.9 L888.2 422.9 L888.4 421.2 L888.6 422.7 L888.9 423.8 L889.1 422.0 L889.4 421.8 L889.6 425.4 L889.8 420.3 L890.1 422.9 L890.3 422.2 L890.5 419.9 L890.8 420.9 L891.0 421.7 L891.2 418.1 L891.5 423.2 L891.7 422.1 L891.9 420.4 L892.2 423.1 L892.4 422.0 L892.6 421.5 L892.9 419.0 L893.1 423.8 L893.4 422.7 L893.6 421.7 L893.8 422.7 L894.1 424.5 L894.3 421.6 L894.5 421.4 L894.8 420.5 L895.0 419.2 L895.2 419.1 L895.5 420.4 L895.7 420.6 L895.9 422.9 L896.2 422.0 L896.4 421.5 L896.7 422.6 L896.9 421.9 L897.1 422.7 L897.4 419.6 L897.6 419.1 L897.8 423.4 L898.1 422.3 L898.3 422.6 L898.5 420.2 L898.8 421.1 L899.0 421.2 L899.2 421.5 L899.5 420.7 L899.7 422.3 L900.0 419.5 L900.2 421.8 L900.4 420.1 L900.7 420.3 L900.9 418.5 L901.1 420.2 L901.4 418.4 L901.6 421.5 L901.8 418.9 L902.1 419.7 L902.3 418.9 L902.5 418.8 L902.8 417.4 L903.0 422.3 L903.3 419.4 L903.5 423.0 L903.7 420.0 L904.0 425.8 L904.2 425.3 L904.4 426.2 L904.7 421.5 L904.9 425.7 L905.1 423.5 L905.4 424.4 L905.6 426.2 L905.8 424.0 L906.1 422.1 L906.3 423.0 L906.5 421.8 L906.8 423.9 L907.0 423.5 L907.3 424.5 L907.5 423.3 L907.7 421.1 L908.0 422.8 L908.2 422.3 L908.4 422.6 L908.7 422.0 L908.9 418.4 L909.1 421.6 L909.4 420.4 L909.6 418.8 L909.8 419.1 L910.1 415.9 L910.3 423.3 L910.6 420.4 L910.8 420.6 L911.0 423.8 L911.3 423.3 L911.5 421.5 L911.7 419.9 L912.0 423.4 L912.2 424.7 L912.4 420.7 L912.7 419.9 L912.9 422.7 L913.1 425.2 L913.4 420.2 L913.6 422.7 L913.9 421.0 L914.1 422.9 L914.3 423.0 L914.6 422.8 L914.8 419.4 L915.0 419.2 L915.3 424.8 L915.5 423.0 L915.7 419.5 L916.0 422.9 L916.2 424.6 L916.4 422.6 L916.7 422.7 L916.9 422.7 L917.2 423.6 L917.4 423.6 L917.6 424.0 L917.9 423.3 L918.1 424.7 L918.3 423.7 L918.6 422.9 L918.8 420.2 L919.0 420.9 L919.3 421.0 L919.5 419.4 L919.7 419.5 L920.0 419.1 L920.2 420.8 L920.4 419.9 L920.7 421.9 L920.9 424.8 L921.2 424.9 L921.4 422.9 L921.6 422.8 L921.9 423.1 L922.1 424.7 L922.3 424.6 L922.6 420.9 L922.8 419.9 L923.0 419.2 L923.3 422.5 L923.5 419.2 L923.7 421.3 L924.0 420.3 L924.2 419.9 L924.5 421.8 L924.7 421.7 L924.9 424.2 L925.2 423.0 L925.4 425.0 L925.6 422.4 L925.9 423.0 L926.1 421.9 L926.3 422.7 L926.6 423.9 L926.8 422.2 L927.0 423.9 L927.3 422.8" fill="none" stroke="#10348f" stroke-width="2.4" stroke-linejoin="round"/>
</g>
<path d="M103.4 428.8 L103.4 13.9 L927.3 13.9 L927.3 428.8 Z" fill="none" stroke="#3a3a3a" stroke-width="1.7"/>
<path d="M114.6 428.8 V433.3 M126.4 428.8 V433.3 M138.2 428.8 V433.3 M150.0 428.8 V433.3 M161.8 428.8 V435.8 M173.6 428.8 V433.3 M185.4 428.8 V433.3 M197.2 428.8 V433.3 M209.0 428.8 V433.3 M220.8 428.8 V435.8 M232.6 428.8 V433.3 M244.4 428.8 V433.3 M256.2 428.8 V433.3 M268.0 428.8 V433.3 M279.9 428.8 V435.8 M291.7 428.8 V433.3 M303.5 428.8 V433.3 M315.3 428.8 V433.3 M327.1 428.8 V433.3 M338.9 428.8 V435.8 M350.7 428.8 V433.3 M362.4 428.8 V433.3 M374.2 428.8 V433.3 M385.9 428.8 V433.3 M397.7 428.8 V435.8 M409.5 428.8 V433.3 M421.2 428.8 V433.3 M433.0 428.8 V433.3 M444.7 428.8 V433.3 M456.5 428.8 V435.8 M468.1 428.8 V433.3 M479.6 428.8 V433.3 M491.1 428.8 V433.3 M502.7 428.8 V433.3 M514.2 428.8 V435.8 M525.8 428.8 V433.3 M537.4 428.8 V433.3 M548.9 428.8 V433.3 M560.5 428.8 V433.3 M572.0 428.8 V435.8 M583.8 428.8 V433.3 M595.6 428.8 V433.3 M607.4 428.8 V433.3 M619.2 428.8 V433.3 M631.0 428.8 V435.8 M642.8 428.8 V433.3 M654.6 428.8 V433.3 M666.4 428.8 V433.3 M678.2 428.8 V433.3 M690.0 428.8 V435.8 M701.8 428.8 V433.3 M713.6 428.8 V433.3 M725.4 428.8 V433.3 M737.2 428.8 V433.3 M749.0 428.8 V435.8 M760.8 428.8 V433.3 M772.6 428.8 V433.3 M784.4 428.8 V433.3 M796.2 428.8 V433.3 M808.0 428.8 V435.8 M819.8 428.8 V433.3 M831.5 428.8 V433.3 M843.3 428.8 V433.3 M855.0 428.8 V433.3 M866.8 428.8 V435.8 M878.6 428.8 V433.3 M890.3 428.8 V433.3 M902.1 428.8 V433.3 M913.8 428.8 V433.3 M925.6 428.8 V435.8 M103.4 423.7 H99.4 M103.4 416.3 H99.4 M103.4 409.0 H99.4 M103.4 401.6 H99.4 M103.4 394.3 H96.9 M103.4 387.0 H99.4 M103.4 379.6 H99.4 M103.4 372.3 H99.4 M103.4 365.0 H99.4 M103.4 357.6 H96.9 M103.4 350.3 H99.4 M103.4 342.9 H99.4 M103.4 335.6 H99.4 M103.4 328.3 H99.4 M103.4 320.9 H96.9 M103.4 313.6 H99.4 M103.4 306.3 H99.4 M103.4 298.9 H99.4 M103.4 291.6 H99.4 M103.4 284.2 H96.9 M103.4 276.9 H99.4 M103.4 269.6 H99.4 M103.4 262.2 H99.4 M103.4 254.9 H99.4 M103.4 247.6 H96.9 M103.4 240.2 H99.4 M103.4 232.9 H99.4 M103.4 225.5 H99.4 M103.4 218.2 H99.4 M103.4 210.9 H96.9 M103.4 203.5 H99.4 M103.4 196.2 H99.4 M103.4 188.8 H99.4 M103.4 181.5 H99.4 M103.4 174.2 H96.9 M103.4 166.8 H99.4 M103.4 159.5 H99.4 M103.4 152.2 H99.4 M103.4 144.8 H99.4 M103.4 137.5 H96.9 M103.4 130.1 H99.4 M103.4 122.8 H99.4 M103.4 115.5 H99.4 M103.4 108.1 H99.4 M103.4 100.8 H96.9 M103.4 93.5 H99.4 M103.4 86.1 H99.4 M103.4 78.8 H99.4 M103.4 71.4 H99.4 M103.4 64.1 H96.9 M103.4 56.8 H99.4 M103.4 49.4 H99.4 M103.4 42.1 H99.4 M103.4 34.7 H99.4 M103.4 27.4 H96.9 M103.4 20.1 H99.4 M103.4 428.8 H97.4" stroke="#3a3a3a" stroke-width="1.9" fill="none"/>
<text transform="translate(98 444.6) scale(1 1.09)" text-anchor="end" font-size="27.8" font-weight="bold">0</text>
<text transform="translate(98 369.2) scale(1 1.09)" text-anchor="end" font-size="27.8" font-weight="bold">200</text>
<text transform="translate(98 295.6) scale(1 1.09)" text-anchor="end" font-size="27.8" font-weight="bold">400</text>
<text transform="translate(98 220.4) scale(1 1.09)" text-anchor="end" font-size="27.8" font-weight="bold">600</text>
<text transform="translate(98 148.0) scale(1 1.09)" text-anchor="end" font-size="27.8" font-weight="bold">800</text>
<text transform="translate(98 74.3) scale(1 1.09)" text-anchor="end" font-size="27.8" font-weight="bold">1000</text>
<text transform="translate(220.4 456.6) scale(1 1.1)" text-anchor="middle" font-size="27.8" font-weight="bold">20</text>
<text transform="translate(338.5 456.6) scale(1 1.1)" text-anchor="middle" font-size="27.8" font-weight="bold">30</text>
<text transform="translate(456.1 456.6) scale(1 1.1)" text-anchor="middle" font-size="27.8" font-weight="bold">40</text>
<text transform="translate(571.6 456.6) scale(1 1.1)" text-anchor="middle" font-size="27.8" font-weight="bold">50</text>
<text transform="translate(689.6 456.6) scale(1 1.1)" text-anchor="middle" font-size="27.8" font-weight="bold">60</text>
<text transform="translate(807.6 456.6) scale(1 1.1)" text-anchor="middle" font-size="27.8" font-weight="bold">70</text>
<text transform="translate(925.2 456.6) scale(1 1.1)" text-anchor="middle" font-size="27.8" font-weight="bold">80</text>
<text x="459" y="496" font-size="37.5" font-weight="bold">2Theta</text>
<text transform="translate(33.9 277.5) rotate(-90)" font-size="38" font-weight="bold">Counts</text>
<text x="122" y="57.8" font-size="38.5">(a)</text>
<rect x="754.7" y="44.8" width="13.5" height="15.5" rx="1.5" fill="#1e2c30"/>
<path d="M761.7 74.5 L771.2 90 L752.2 90 Z" fill="#e50d16"/>
<circle cx="761.5" cy="113.2" r="7.6" fill="#16a0e2"/>
<text x="781.8" y="60.8" font-size="22.7" font-weight="bold">CaCO<tspan font-size="10.5" dx="0.8" dy="4.5">3</tspan></text>
<text x="781.8" y="90.4" font-size="22.7" font-weight="bold">CaO</text>
<text x="781.8" y="119.2" font-size="22.7" font-weight="bold">Ca(OH)<tspan font-size="10.5" dx="0.8" dy="4">2</tspan></text>
<circle cx="197.1" cy="224.0" r="7.9" fill="#16a0e2"/>
<circle cx="385.6" cy="47.8" r="8.8" fill="#16a0e2"/>
<rect x="314.6" y="301.8" width="15.6" height="15.8" rx="1.5" fill="#1e2c30"/>
<rect x="532.9" y="293.7" width="14.1" height="16.1" rx="1.5" fill="#1e2c30"/>
<rect x="575" y="266.7" width="14.8" height="16.2" rx="1.5" fill="#1e2c30"/>
<path d="M624.2 346.9 L634.6 364.6 L613.7 364.6 Z" fill="#e50d16"/>
<path d="M721.2 358.2 L733.6 379.7 L708.8 379.7 Z" fill="#e50d16"/>
<path d="M832.3 382.8 L843.3 401.6 L821.4 401.6 Z" fill="#e50d16"/>
<g filter="url(#soft)">
<path d="M1067.3 387.1 L1067.6 387.8 L1067.9 385.8 L1068.2 386.8 L1068.5 383.6 L1068.8 386.2 L1069.1 386.4 L1069.4 388.7 L1069.7 389.5 L1070.0 390.3 L1070.3 390.7 L1070.6 389.9 L1070.9 390.8 L1071.2 391.8 L1071.5 393.3 L1071.8 391.5 L1072.2 390.0 L1072.5 391.0 L1072.8 389.4 L1073.1 390.2 L1073.4 391.5 L1073.7 391.6 L1074.0 391.8 L1074.3 391.1 L1074.6 391.0 L1074.9 388.7 L1075.2 390.7 L1075.5 391.8 L1075.8 388.8 L1076.1 390.2 L1076.4 390.2 L1076.7 386.8 L1077.0 388.2 L1077.3 389.3 L1077.6 388.6 L1077.9 390.0 L1078.2 389.6 L1078.5 392.0 L1078.8 393.0 L1079.1 393.2 L1079.4 391.0 L1079.7 391.0 L1080.0 392.9 L1080.3 390.2 L1080.6 391.4 L1080.9 389.2 L1081.2 390.5 L1081.5 388.9 L1081.8 390.3 L1082.1 390.9 L1082.5 390.5 L1082.8 390.6 L1083.1 391.3 L1083.4 392.7 L1083.7 389.2 L1084.0 391.9 L1084.3 393.4 L1084.6 393.5 L1084.9 393.2 L1085.2 389.8 L1085.5 387.3 L1085.8 390.7 L1086.1 388.7 L1086.4 390.9 L1086.7 387.3 L1087.0 388.7 L1087.3 389.5 L1087.6 389.1 L1087.9 389.6 L1088.2 390.8 L1088.5 393.2 L1088.8 394.1 L1089.1 394.1 L1089.4 394.7 L1089.7 390.5 L1090.0 391.7 L1090.3 390.8 L1090.6 390.1 L1090.9 387.0 L1091.2 388.3 L1091.5 384.9 L1091.8 382.8 L1092.1 380.5 L1092.5 378.7 L1092.8 373.9 L1093.1 372.2 L1093.4 369.7 L1093.7 367.5 L1094.0 366.9 L1094.3 366.9 L1094.6 369.5 L1094.9 371.3 L1095.2 373.6 L1095.5 376.5 L1095.8 378.9 L1096.1 382.6 L1096.4 383.9 L1096.7 387.8 L1097.0 390.2 L1097.3 389.9 L1097.6 389.0 L1097.9 391.0 L1098.2 391.1 L1098.5 390.9 L1098.8 390.2 L1099.1 390.6 L1099.4 390.1 L1099.7 393.1 L1100.0 389.9 L1100.3 391.5 L1100.6 394.2 L1100.9 392.9 L1101.2 394.5 L1101.5 393.4 L1101.8 396.1 L1102.1 392.0 L1102.5 392.8 L1102.8 394.8 L1103.1 391.5 L1103.4 392.9 L1103.7 393.8 L1104.0 393.4 L1104.3 395.1 L1104.6 391.6 L1104.9 391.9 L1105.2 390.8 L1105.5 388.2 L1105.8 390.1 L1106.1 391.3 L1106.4 391.5 L1106.7 390.7 L1107.0 389.6 L1107.3 391.6 L1107.6 391.5 L1107.9 388.7 L1108.2 388.5 L1108.5 386.8 L1108.8 382.8 L1109.1 383.9 L1109.4 380.6 L1109.7 380.2 L1110.0 377.7 L1110.3 375.9 L1110.6 375.3 L1110.9 377.8 L1111.2 378.1 L1111.5 380.5 L1111.8 383.5 L1112.1 383.5 L1112.4 387.5 L1112.8 390.3 L1113.1 390.5 L1113.4 394.1 L1113.7 390.7 L1114.0 391.6 L1114.3 392.7 L1114.6 391.4 L1114.9 391.2 L1115.2 389.5 L1115.5 392.7 L1115.8 393.8 L1116.1 395.2 L1116.4 394.4 L1116.7 397.4 L1117.0 397.0 L1117.3 396.5 L1117.6 397.8 L1117.9 398.2 L1118.2 395.1 L1118.5 396.2 L1118.8 395.5 L1119.1 395.0 L1119.4 399.2 L1119.7 400.3 L1120.0 396.2 L1120.3 399.7 L1120.6 400.4 L1120.9 398.3 L1121.2 397.8 L1121.5 397.6 L1121.8 395.9 L1122.1 394.9 L1122.4 394.3 L1122.8 393.2 L1123.1 395.7 L1123.4 395.8 L1123.7 393.6 L1124.0 395.4 L1124.3 394.0 L1124.6 395.9 L1124.9 397.7 L1125.2 395.2 L1125.5 397.2 L1125.8 396.0 L1126.1 395.2 L1126.4 394.5 L1126.7 396.7 L1127.0 395.0 L1127.3 395.1 L1127.6 394.6 L1127.9 398.4 L1128.2 395.8 L1128.5 395.2 L1128.8 394.9 L1129.1 396.2 L1129.4 394.5 L1129.7 393.9 L1130.0 395.4 L1130.3 395.6 L1130.6 395.9 L1130.9 395.3 L1131.2 394.2 L1131.5 394.1 L1131.8 397.3 L1132.1 398.2 L1132.4 398.2 L1132.8 396.7 L1133.1 397.5 L1133.4 398.2 L1133.7 398.9 L1134.0 399.3 L1134.3 399.7 L1134.6 400.5 L1134.9 399.6 L1135.2 398.0 L1135.5 396.2 L1135.8 396.3 L1136.1 395.9 L1136.4 392.9 L1136.7 395.4 L1137.0 395.5 L1137.3 396.5 L1137.6 398.1 L1137.9 399.3 L1138.2 398.0 L1138.5 398.6 L1138.8 397.0 L1139.1 399.8 L1139.4 398.8 L1139.7 397.0 L1140.0 396.9 L1140.3 395.6 L1140.6 395.3 L1140.9 398.2 L1141.2 396.4 L1141.5 397.5 L1141.8 395.0 L1142.1 397.0 L1142.4 396.2 L1142.7 395.5 L1143.1 397.9 L1143.4 397.0 L1143.7 395.6 L1144.0 395.9 L1144.3 393.8 L1144.6 395.1 L1144.9 394.6 L1145.2 395.7 L1145.5 396.1 L1145.8 395.8 L1146.1 395.4 L1146.4 396.9 L1146.7 394.7 L1147.0 394.2 L1147.3 393.7 L1147.6 392.7 L1147.9 390.8 L1148.2 389.5 L1148.5 388.7 L1148.8 387.3 L1149.1 389.4 L1149.4 388.4 L1149.7 388.1 L1150.0 388.7 L1150.3 389.3 L1150.6 390.0 L1150.9 389.5 L1151.2 388.4 L1151.5 387.6 L1151.8 389.0 L1152.1 387.1 L1152.4 385.7 L1152.7 383.8 L1153.1 382.1 L1153.4 378.8 L1153.7 373.6 L1154.0 367.1 L1154.3 355.4 L1154.6 341.1 L1154.9 322.4 L1155.2 301.2 L1155.5 280.6 L1155.8 264.2 L1156.1 257.9 L1156.4 264.1 L1156.7 279.8 L1157.0 300.2 L1157.3 320.9 L1157.6 339.1 L1157.9 353.7 L1158.2 365.3 L1158.5 373.4 L1158.8 378.6 L1159.1 381.4 L1159.4 385.0 L1159.7 385.5 L1160.0 388.1 L1160.3 387.0 L1160.6 389.2 L1160.9 388.9 L1161.2 388.2 L1161.5 389.1 L1161.8 390.6 L1162.1 389.6 L1162.4 391.6 L1162.7 391.1 L1163.1 391.8 L1163.4 389.4 L1163.7 390.5 L1164.0 391.4 L1164.3 393.7 L1164.6 392.0 L1164.9 393.4 L1165.2 393.4 L1165.5 393.9 L1165.8 396.8 L1166.1 396.0 L1166.4 395.2 L1166.7 395.2 L1167.0 395.7 L1167.3 396.1 L1167.6 395.5 L1167.9 396.5 L1168.2 394.1 L1168.5 395.2 L1168.8 396.4 L1169.1 395.3 L1169.4 397.2 L1169.7 399.6 L1170.0 394.3 L1170.3 393.9 L1170.6 396.4 L1170.9 395.0 L1171.2 393.9 L1171.5 394.8 L1171.8 396.0 L1172.1 395.8 L1172.4 396.2 L1172.7 397.5 L1173.0 397.4 L1173.4 398.6 L1173.7 399.3 L1174.0 397.4 L1174.3 398.7 L1174.6 394.5 L1174.9 398.2 L1175.2 396.2 L1175.5 395.4 L1175.8 395.2 L1176.1 394.8 L1176.4 393.5 L1176.7 396.0 L1177.0 394.3 L1177.3 394.1 L1177.6 394.8 L1177.9 395.1 L1178.2 392.7 L1178.5 395.5 L1178.8 395.5 L1179.1 395.7 L1179.4 395.6 L1179.7 394.8 L1180.0 395.1 L1180.3 394.4 L1180.6 394.4 L1180.9 393.3 L1181.2 391.8 L1181.5 393.7 L1181.8 390.3 L1182.1 392.1 L1182.4 390.7 L1182.7 390.9 L1183.0 391.0 L1183.4 391.8 L1183.7 388.1 L1184.0 389.4 L1184.3 388.7 L1184.6 385.8 L1184.9 385.1 L1185.2 381.9 L1185.5 380.2 L1185.8 378.7 L1186.1 376.8 L1186.4 374.6 L1186.7 374.5 L1187.0 373.2 L1187.3 373.7 L1187.6 375.2 L1187.9 376.8 L1188.2 379.7 L1188.5 380.5 L1188.8 382.3 L1189.1 385.7 L1189.4 386.0 L1189.7 386.1 L1190.0 388.5 L1190.3 391.2 L1190.6 392.3 L1190.9 391.7 L1191.2 391.3 L1191.5 394.6 L1191.8 393.2 L1192.1 393.7 L1192.4 392.9 L1192.7 392.3 L1193.0 392.6 L1193.4 393.1 L1193.7 390.5 L1194.0 393.2 L1194.3 393.8 L1194.6 393.6 L1194.9 395.6 L1195.2 396.5 L1195.5 394.6 L1195.8 395.5 L1196.1 392.3 L1196.4 391.1 L1196.7 391.1 L1197.0 391.6 L1197.3 391.5 L1197.6 392.8 L1197.9 391.6 L1198.2 391.3 L1198.5 390.5 L1198.8 390.9 L1199.1 390.3 L1199.4 388.9 L1199.7 385.8 L1200.0 382.6 L1200.3 378.2 L1200.6 373.9 L1200.9 368.3 L1201.2 361.6 L1201.5 354.9 L1201.8 348.2 L1202.1 343.6 L1202.4 340.2 L1202.7 340.1 L1203.0 342.5 L1203.3 347.9 L1203.7 354.1 L1204.0 360.4 L1204.3 368.0 L1204.6 372.8 L1204.9 378.0 L1205.2 382.8 L1205.5 384.3 L1205.8 389.1 L1206.1 390.7 L1206.4 391.7 L1206.7 392.5 L1207.0 394.7 L1207.3 397.1 L1207.6 396.1 L1207.9 396.6 L1208.2 394.5 L1208.5 395.6 L1208.8 396.3 L1209.1 396.9 L1209.4 395.3 L1209.7 396.6 L1210.0 395.4 L1210.3 394.9 L1210.6 395.3 L1210.9 394.4 L1211.2 395.0 L1211.5 395.1 L1211.8 392.7 L1212.1 393.2 L1212.4 392.7 L1212.7 391.8 L1213.0 390.1 L1213.3 389.1 L1213.7 388.1 L1214.0 386.5 L1214.3 386.8 L1214.6 387.8 L1214.9 385.5 L1215.2 388.0 L1215.5 390.0 L1215.8 391.2 L1216.1 394.4 L1216.4 394.0 L1216.7 394.5 L1217.0 393.2 L1217.3 395.7 L1217.6 394.8 L1217.9 392.9 L1218.2 394.0 L1218.5 395.4 L1218.8 393.0 L1219.1 396.8 L1219.4 396.0 L1219.7 396.8 L1220.0 395.5 L1220.3 395.1 L1220.6 395.2 L1220.9 393.8 L1221.2 395.4 L1221.5 393.8 L1221.8 395.6 L1222.1 394.5 L1222.4 396.1 L1222.7 396.4 L1223.0 395.6 L1223.3 395.2 L1223.7 399.3 L1224.0 397.0 L1224.3 396.6 L1224.6 398.3 L1224.9 397.4 L1225.2 394.9 L1225.5 396.1 L1225.8 396.1 L1226.1 394.0 L1226.4 396.6 L1226.7 396.1 L1227.0 396.5 L1227.3 394.1 L1227.6 393.3 L1227.9 390.1 L1228.2 390.5 L1228.5 393.5 L1228.8 391.0 L1229.1 393.2 L1229.4 394.5 L1229.7 393.7 L1230.0 393.9 L1230.3 394.5 L1230.6 395.1 L1230.9 394.1 L1231.2 392.8 L1231.5 392.7 L1231.8 392.5 L1232.1 390.8 L1232.4 391.7 L1232.7 388.8 L1233.0 387.4 L1233.3 383.7 L1233.6 380.7 L1234.0 375.9 L1234.3 372.0 L1234.6 368.0 L1234.9 363.2 L1235.2 360.1 L1235.5 358.3 L1235.8 359.3 L1236.1 362.5 L1236.4 365.9 L1236.7 370.5 L1237.0 373.5 L1237.3 375.4 L1237.6 378.0 L1237.9 380.2 L1238.2 381.5 L1238.5 381.8 L1238.8 381.9 L1239.1 383.2 L1239.4 382.6 L1239.7 380.8 L1240.0 379.8 L1240.3 378.8 L1240.6 377.0 L1240.9 374.5 L1241.2 371.1 L1241.5 366.7 L1241.8 360.7 L1242.1 351.3 L1242.4 340.4 L1242.7 326.2 L1243.0 308.0 L1243.3 286.7 L1243.6 260.9 L1244.0 230.5 L1244.3 196.8 L1244.6 160.1 L1244.9 123.1 L1245.2 88.1 L1245.5 58.6 L1245.8 38.5 L1246.1 31.4 L1246.4 38.2 L1246.7 57.5 L1247.0 86.6 L1247.3 120.9 L1247.6 157.5 L1247.9 193.1 L1248.2 226.3 L1248.5 255.4 L1248.8 280.5 L1249.1 300.9 L1249.4 315.8 L1249.7 326.3 L1250.0 332.0 L1250.3 330.7 L1250.6 323.9 L1250.9 310.6 L1251.2 291.1 L1251.5 267.1 L1251.8 241.2 L1252.1 218.4 L1252.4 205.0 L1252.7 206.1 L1253.0 221.8 L1253.3 247.4 L1253.6 275.8 L1254.0 303.0 L1254.3 326.4 L1254.6 344.5 L1254.9 358.3 L1255.2 367.6 L1255.5 374.1 L1255.8 377.0 L1256.1 378.7 L1256.4 381.4 L1256.7 381.6 L1257.0 385.1 L1257.3 385.1 L1257.6 385.6 L1257.9 384.3 L1258.2 385.9 L1258.5 384.9 L1258.8 386.3 L1259.1 383.9 L1259.4 382.3 L1259.7 380.8 L1260.0 379.6 L1260.3 373.9 L1260.6 367.5 L1260.9 358.7 L1261.2 346.4 L1261.5 329.9 L1261.8 307.3 L1262.1 280.5 L1262.4 251.2 L1262.7 221.6 L1263.0 197.1 L1263.3 182.7 L1263.6 182.7 L1263.9 197.4 L1264.3 221.8 L1264.6 251.6 L1264.9 281.2 L1265.2 308.3 L1265.5 330.7 L1265.8 348.8 L1266.1 362.8 L1266.4 372.3 L1266.7 377.4 L1267.0 381.4 L1267.3 385.6 L1267.6 386.7 L1267.9 386.6 L1268.2 387.6 L1268.5 388.1 L1268.8 390.4 L1269.1 389.2 L1269.4 390.8 L1269.7 391.2 L1270.0 391.5 L1270.3 391.1 L1270.6 392.1 L1270.9 392.6 L1271.2 395.0 L1271.5 395.2 L1271.8 396.5 L1272.1 396.6 L1272.4 396.7 L1272.7 396.6 L1273.0 394.8 L1273.3 394.3 L1273.6 393.5 L1273.9 393.4 L1274.3 392.8 L1274.6 393.3 L1274.9 392.2 L1275.2 391.5 L1275.5 389.5 L1275.8 388.5 L1276.1 388.2 L1276.4 387.1 L1276.7 383.2 L1277.0 382.1 L1277.3 378.8 L1277.6 374.6 L1277.9 369.2 L1278.2 361.3 L1278.5 355.7 L1278.8 347.5 L1279.1 339.7 L1279.4 332.5 L1279.7 326.1 L1280.0 321.5 L1280.3 319.7 L1280.6 321.1 L1280.9 324.7 L1281.2 331.2 L1281.5 337.9 L1281.8 345.1 L1282.1 352.7 L1282.4 360.1 L1282.7 366.6 L1283.0 369.4 L1283.3 372.7 L1283.6 375.5 L1283.9 375.9 L1284.3 378.0 L1284.6 378.5 L1284.9 379.8 L1285.2 379.7 L1285.5 381.1 L1285.8 382.2 L1286.1 382.9 L1286.4 385.1 L1286.7 387.5 L1287.0 387.5 L1287.3 388.7 L1287.6 391.3 L1287.9 392.3 L1288.2 392.7 L1288.5 393.8 L1288.8 393.5 L1289.1 393.4 L1289.4 394.9 L1289.7 393.6 L1290.0 397.2 L1290.3 398.0 L1290.6 396.1 L1290.9 396.4 L1291.2 398.9 L1291.5 399.0 L1291.8 400.0 L1292.1 397.8 L1292.4 399.2 L1292.7 401.2 L1293.0 400.8 L1293.3 400.5 L1293.6 401.6 L1293.9 400.3 L1294.2 400.9 L1294.6 401.5 L1294.9 402.3 L1295.2 401.4 L1295.5 400.7 L1295.8 401.6 L1296.1 401.4 L1296.4 402.2 L1296.7 401.1 L1297.0 400.0 L1297.3 400.2 L1297.6 400.6 L1297.9 397.2 L1298.2 397.6 L1298.5 398.0 L1298.8 396.9 L1299.1 397.0 L1299.4 397.3 L1299.7 395.6 L1300.0 396.0 L1300.3 394.0 L1300.6 393.7 L1300.9 391.9 L1301.2 392.2 L1301.5 391.1 L1301.8 391.1 L1302.1 390.5 L1302.4 390.2 L1302.7 388.2 L1303.0 388.5 L1303.3 389.4 L1303.6 389.3 L1303.9 390.6 L1304.2 391.9 L1304.6 392.3 L1304.9 392.4 L1305.2 394.9 L1305.5 397.0 L1305.8 397.5 L1306.1 396.5 L1306.4 400.2 L1306.7 398.7 L1307.0 400.3 L1307.3 399.2 L1307.6 399.8 L1307.9 401.2 L1308.2 400.1 L1308.5 398.4 L1308.8 402.0 L1309.1 402.2 L1309.4 403.9 L1309.7 404.0 L1310.0 403.1 L1310.3 402.3 L1310.6 400.2 L1310.9 403.1 L1311.2 403.9 L1311.5 404.7 L1311.8 405.6 L1312.1 405.8 L1312.4 403.0 L1312.7 405.9 L1313.0 402.1 L1313.3 402.3 L1313.6 403.4 L1313.9 404.4 L1314.2 402.2 L1314.6 402.5 L1314.9 401.7 L1315.2 404.1 L1315.5 404.5 L1315.8 405.1 L1316.1 406.5 L1316.4 407.4 L1316.7 408.6 L1317.0 407.8 L1317.3 405.6 L1317.6 404.0 L1317.9 401.9 L1318.2 399.9 L1318.5 400.3 L1318.8 402.5 L1319.1 400.8 L1319.4 403.3 L1319.7 404.2 L1320.0 401.3 L1320.3 405.9 L1320.6 404.8 L1320.9 404.4 L1321.2 401.0 L1321.5 401.8 L1321.8 398.9 L1322.1 399.7 L1322.4 400.5 L1322.7 399.0 L1323.0 398.7 L1323.3 399.9 L1323.6 399.5 L1323.9 400.2 L1324.2 398.6 L1324.5 399.2 L1324.9 399.3 L1325.2 399.8 L1325.5 400.6 L1325.8 399.4 L1326.1 400.0 L1326.4 400.4 L1326.7 398.8 L1327.0 397.7 L1327.3 397.1 L1327.6 395.8 L1327.9 397.9 L1328.2 395.9 L1328.5 394.3 L1328.8 394.9 L1329.1 393.6 L1329.4 394.2 L1329.7 394.8 L1330.0 393.3 L1330.3 395.4 L1330.6 393.6 L1330.9 394.5 L1331.2 395.3 L1331.5 395.5 L1331.8 396.1 L1332.1 396.8 L1332.4 396.1 L1332.7 398.6 L1333.0 395.8 L1333.3 397.2 L1333.6 397.9 L1333.9 400.9 L1334.2 402.2 L1334.5 399.7 L1334.9 398.6 L1335.2 397.8 L1335.5 398.9 L1335.8 398.9 L1336.1 398.6 L1336.4 400.8 L1336.7 397.5 L1337.0 401.7 L1337.3 401.1 L1337.6 400.9 L1337.9 403.0 L1338.2 402.1 L1338.5 400.2 L1338.8 402.0 L1339.1 400.6 L1339.4 401.5 L1339.7 401.6 L1340.0 401.5 L1340.3 403.0 L1340.6 404.1 L1340.9 403.3 L1341.2 403.8 L1341.5 402.5 L1341.8 403.4 L1342.1 401.7 L1342.4 400.5 L1342.7 401.4 L1343.0 402.8 L1343.3 404.6 L1343.6 404.9 L1343.9 403.3 L1344.2 401.9 L1344.5 402.7 L1344.9 400.7 L1345.2 401.8 L1345.5 399.8 L1345.8 402.4 L1346.1 401.7 L1346.4 404.5 L1346.7 403.9 L1347.0 405.9 L1347.3 408.6 L1347.6 409.0 L1347.9 408.1 L1348.2 407.8 L1348.5 406.2 L1348.8 404.9 L1349.1 402.2 L1349.4 401.3 L1349.7 403.3 L1350.0 402.9 L1350.3 401.8 L1350.6 402.1 L1350.9 401.2 L1351.2 400.4 L1351.5 401.8 L1351.8 403.4 L1352.1 404.9 L1352.4 402.9 L1352.7 405.2 L1353.0 403.3 L1353.3 404.0 L1353.6 403.4 L1353.9 402.5 L1354.2 402.8 L1354.5 401.6 L1354.8 401.6 L1355.2 402.7 L1355.5 403.0 L1355.8 398.5 L1356.1 398.8 L1356.4 394.6 L1356.7 393.3 L1357.0 391.3 L1357.3 388.0 L1357.6 386.4 L1357.9 384.4 L1358.2 383.2 L1358.5 380.5 L1358.8 379.5 L1359.1 380.4 L1359.4 380.0 L1359.7 382.9 L1360.0 384.8 L1360.3 388.7 L1360.6 391.2 L1360.9 390.5 L1361.2 392.6 L1361.5 394.7 L1361.8 398.1 L1362.1 397.6 L1362.4 397.5 L1362.7 398.2 L1363.0 398.4 L1363.3 399.7 L1363.6 399.1 L1363.9 400.0 L1364.2 398.7 L1364.5 396.3 L1364.8 394.7 L1365.2 391.0 L1365.5 387.3 L1365.8 382.4 L1366.1 376.6 L1366.4 370.7 L1366.7 363.0 L1367.0 355.4 L1367.3 346.4 L1367.6 337.9 L1367.9 331.3 L1368.2 326.4 L1368.5 324.8 L1368.8 326.1 L1369.1 331.6 L1369.4 338.7 L1369.7 346.3 L1370.0 354.6 L1370.3 363.0 L1370.6 370.4 L1370.9 377.2 L1371.2 382.8 L1371.5 387.4 L1371.8 390.8 L1372.1 393.3 L1372.4 394.5 L1372.7 395.8 L1373.0 396.8 L1373.3 396.7 L1373.6 397.6 L1373.9 398.4 L1374.2 398.1 L1374.5 398.0 L1374.8 399.3 L1375.2 397.6 L1375.5 399.8 L1375.8 401.5 L1376.1 402.2 L1376.4 400.7 L1376.7 402.5 L1377.0 401.1 L1377.3 401.7 L1377.6 401.6 L1377.9 400.4 L1378.2 400.3 L1378.5 400.8 L1378.8 401.6 L1379.1 401.1 L1379.4 401.7 L1379.7 401.5 L1380.0 401.9 L1380.3 400.8 L1380.6 401.6 L1380.9 402.7 L1381.2 402.0 L1381.5 402.5 L1381.8 400.0 L1382.1 402.1 L1382.4 401.3 L1382.7 403.8 L1383.0 403.6 L1383.3 402.0 L1383.6 402.5 L1383.9 402.4 L1384.2 403.6 L1384.5 401.6 L1384.8 402.7 L1385.1 402.2 L1385.5 403.5 L1385.8 405.5 L1386.1 402.8 L1386.4 401.8 L1386.7 404.4 L1387.0 404.7 L1387.3 403.6 L1387.6 403.3 L1387.9 405.3 L1388.2 400.9 L1388.5 401.6 L1388.8 402.5 L1389.1 403.3 L1389.4 400.5 L1389.7 398.9 L1390.0 400.5 L1390.3 400.3 L1390.6 403.0 L1390.9 402.2 L1391.2 404.7 L1391.5 401.1 L1391.8 403.3 L1392.1 406.7 L1392.4 406.2 L1392.7 403.4 L1393.0 403.0 L1393.3 403.2 L1393.6 401.8 L1393.9 399.8 L1394.2 401.3 L1394.5 403.6 L1394.8 402.2 L1395.1 404.1 L1395.5 404.2 L1395.8 403.2 L1396.1 403.9 L1396.4 405.0 L1396.7 402.9 L1397.0 402.9 L1397.3 401.2 L1397.6 401.3 L1397.9 400.0 L1398.2 399.8 L1398.5 398.5 L1398.8 398.4 L1399.1 397.1 L1399.4 395.7 L1399.7 393.3 L1400.0 392.5 L1400.3 387.6 L1400.6 388.3 L1400.9 386.4 L1401.2 386.6 L1401.5 387.2 L1401.8 387.6 L1402.1 389.9 L1402.4 391.5 L1402.7 393.8 L1403.0 394.2 L1403.3 395.8 L1403.6 394.9 L1403.9 399.5 L1404.2 400.6 L1404.5 400.6 L1404.8 399.9 L1405.1 403.3 L1405.5 403.6 L1405.8 402.4 L1406.1 402.7 L1406.4 404.3 L1406.7 404.8 L1407.0 404.1 L1407.3 402.0 L1407.6 402.8 L1407.9 401.4 L1408.2 402.5 L1408.5 402.9 L1408.8 402.6 L1409.1 403.9 L1409.4 403.7 L1409.7 405.3 L1410.0 405.6 L1410.3 404.3 L1410.6 404.8 L1410.9 405.1 L1411.2 402.8 L1411.5 402.2 L1411.8 402.5 L1412.1 403.6 L1412.4 401.9 L1412.7 400.3 L1413.0 403.8 L1413.3 404.1 L1413.6 402.8 L1413.9 402.2 L1414.2 403.0 L1414.5 402.7 L1414.8 400.6 L1415.1 400.5 L1415.4 400.1 L1415.8 401.6 L1416.1 403.6 L1416.4 402.0 L1416.7 404.0 L1417.0 404.1 L1417.3 404.7 L1417.6 402.5 L1417.9 403.6 L1418.2 405.7 L1418.5 406.3 L1418.8 405.7 L1419.1 405.4 L1419.4 404.3 L1419.7 404.5 L1420.0 403.9 L1420.3 405.3 L1420.6 404.0 L1420.9 406.3 L1421.2 402.6 L1421.5 403.3 L1421.8 403.5 L1422.1 402.3 L1422.4 400.2 L1422.7 400.9 L1423.0 403.2 L1423.3 402.0 L1423.6 404.9 L1423.9 403.6 L1424.2 404.3 L1424.5 403.0 L1424.8 402.4 L1425.1 402.7 L1425.4 400.9 L1425.8 399.3 L1426.1 398.4 L1426.4 397.7 L1426.7 397.9 L1427.0 394.5 L1427.3 391.3 L1427.6 389.7 L1427.9 388.8 L1428.2 386.4 L1428.5 385.1 L1428.8 385.1 L1429.1 383.5 L1429.4 384.4 L1429.7 384.8 L1430.0 385.7 L1430.3 385.6 L1430.6 388.7 L1430.9 390.3 L1431.2 390.5 L1431.5 393.0 L1431.8 394.3 L1432.1 398.4 L1432.4 398.2 L1432.7 400.1 L1433.0 402.1 L1433.3 399.5 L1433.6 400.9 L1433.9 400.9 L1434.2 402.1 L1434.5 402.9 L1434.8 402.5 L1435.1 404.4 L1435.4 402.1 L1435.8 402.2 L1436.1 403.4 L1436.4 404.5 L1436.7 403.1 L1437.0 403.6 L1437.3 401.6 L1437.6 401.6 L1437.9 402.1 L1438.2 401.4 L1438.5 400.3 L1438.8 400.0 L1439.1 402.9 L1439.4 402.0 L1439.7 402.9 L1440.0 403.6 L1440.3 400.6 L1440.6 401.6 L1440.9 401.8 L1441.2 402.1 L1441.5 402.7 L1441.8 403.2 L1442.1 398.7 L1442.4 399.4 L1442.7 400.1 L1443.0 399.3 L1443.3 400.3 L1443.6 403.5 L1443.9 403.5 L1444.2 405.0 L1444.5 404.7 L1444.8 406.2 L1445.1 403.4 L1445.4 406.2 L1445.7 404.8 L1446.1 404.6 L1446.4 404.9 L1446.7 402.9 L1447.0 403.2 L1447.3 402.9 L1447.6 401.7 L1447.9 401.5 L1448.2 398.7 L1448.5 399.0 L1448.8 398.4 L1449.1 399.9 L1449.4 397.6 L1449.7 398.3 L1450.0 397.3 L1450.3 395.6 L1450.6 394.5 L1450.9 393.3 L1451.2 390.7 L1451.5 389.0 L1451.8 387.1 L1452.1 388.9 L1452.4 387.3 L1452.7 388.4 L1453.0 390.0 L1453.3 390.5 L1453.6 393.2 L1453.9 396.2 L1454.2 396.8 L1454.5 397.7 L1454.8 397.5 L1455.1 401.5 L1455.4 403.1 L1455.7 404.7 L1456.1 403.6 L1456.4 403.8 L1456.7 403.5 L1457.0 405.2 L1457.3 404.1 L1457.6 405.2 L1457.9 402.7 L1458.2 404.3 L1458.5 405.4 L1458.8 400.7 L1459.1 401.7 L1459.4 402.0 L1459.7 402.4 L1460.0 404.5 L1460.3 402.3 L1460.6 405.0 L1460.9 401.9 L1461.2 403.6 L1461.5 406.0 L1461.8 403.3 L1462.1 402.3 L1462.4 404.6 L1462.7 402.6 L1463.0 403.0 L1463.3 403.4 L1463.6 404.9 L1463.9 400.5 L1464.2 402.8 L1464.5 402.2 L1464.8 403.9 L1465.1 403.5 L1465.4 400.5 L1465.7 401.2 L1466.1 400.2 L1466.4 400.1 L1466.7 398.0 L1467.0 396.9 L1467.3 397.4 L1467.6 397.0 L1467.9 397.5 L1468.2 395.1 L1468.5 396.4 L1468.8 394.4 L1469.1 391.2 L1469.4 389.4 L1469.7 386.0 L1470.0 380.0 L1470.3 373.1 L1470.6 364.0 L1470.9 355.0 L1471.2 344.0 L1471.5 331.7 L1471.8 319.8 L1472.1 309.9 L1472.4 302.2 L1472.7 299.8 L1473.0 302.5 L1473.3 310.5 L1473.6 320.2 L1473.9 331.7 L1474.2 344.0 L1474.5 354.3 L1474.8 364.9 L1475.1 373.9 L1475.4 379.9 L1475.7 385.1 L1476.0 388.3 L1476.4 391.6 L1476.7 391.6 L1477.0 394.1 L1477.3 394.7 L1477.6 396.7 L1477.9 397.6 L1478.2 397.5 L1478.5 399.5 L1478.8 400.0 L1479.1 400.6 L1479.4 400.9 L1479.7 400.6 L1480.0 400.7 L1480.3 400.4 L1480.6 400.4 L1480.9 400.2 L1481.2 401.0 L1481.5 399.3 L1481.8 399.9 L1482.1 401.6 L1482.4 398.4 L1482.7 402.8 L1483.0 401.0 L1483.3 401.5 L1483.6 402.7 L1483.9 400.1 L1484.2 403.2 L1484.5 404.0 L1484.8 401.5 L1485.1 404.5 L1485.4 404.6 L1485.7 403.5 L1486.0 402.4 L1486.4 400.4 L1486.7 399.9 L1487.0 401.7 L1487.3 400.3 L1487.6 398.4 L1487.9 401.9 L1488.2 401.8 L1488.5 400.8 L1488.8 399.5 L1489.1 400.5 L1489.4 399.1 L1489.7 397.4 L1490.0 393.9 L1490.3 391.9 L1490.6 391.8 L1490.9 388.8 L1491.2 384.0 L1491.5 379.0 L1491.8 372.2 L1492.1 365.6 L1492.4 358.2 L1492.7 352.2 L1493.0 347.3 L1493.3 344.0 L1493.6 344.7 L1493.9 347.8 L1494.2 352.5 L1494.5 358.6 L1494.8 366.5 L1495.1 371.6 L1495.4 377.1 L1495.7 382.6 L1496.0 386.4 L1496.4 389.7 L1496.7 391.9 L1497.0 392.7 L1497.3 395.3 L1497.6 394.4 L1497.9 394.9 L1498.2 394.4 L1498.5 396.5 L1498.8 395.9 L1499.1 392.9 L1499.4 392.9 L1499.7 391.9 L1500.0 390.8 L1500.3 389.8 L1500.6 387.7 L1500.9 386.8 L1501.2 385.9 L1501.5 384.7 L1501.8 385.6 L1502.1 384.5 L1502.4 387.6 L1502.7 385.9 L1503.0 390.3 L1503.3 390.1 L1503.6 391.2 L1503.9 393.4 L1504.2 394.3 L1504.5 396.2 L1504.8 399.0 L1505.1 397.5 L1505.4 396.3 L1505.7 397.3 L1506.0 397.8 L1506.3 396.8 L1506.7 395.7 L1507.0 396.2 L1507.3 395.7 L1507.6 396.5 L1507.9 397.3 L1508.2 399.8 L1508.5 395.8 L1508.8 397.4 L1509.1 396.3 L1509.4 396.5 L1509.7 395.4 L1510.0 394.4 L1510.3 391.4 L1510.6 388.6 L1510.9 384.9 L1511.2 379.0 L1511.5 373.9 L1511.8 365.9 L1512.1 357.2 L1512.4 345.7 L1512.7 333.8 L1513.0 320.2 L1513.3 307.0 L1513.6 296.1 L1513.9 287.1 L1514.2 284.4 L1514.5 287.4 L1514.8 295.9 L1515.1 307.3 L1515.4 321.3 L1515.7 334.3 L1516.0 347.0 L1516.3 357.0 L1516.7 366.8 L1517.0 373.1 L1517.3 378.6 L1517.6 382.7 L1517.9 387.6 L1518.2 389.7 L1518.5 393.5 L1518.8 394.4 L1519.1 394.5 L1519.4 394.9 L1519.7 396.9 L1520.0 397.3 L1520.3 397.1 L1520.6 399.5 L1520.9 400.1 L1521.2 401.3 L1521.5 399.0 L1521.8 397.9 L1522.1 398.7 L1522.4 398.5 L1522.7 396.3 L1523.0 397.0 L1523.3 397.9 L1523.6 398.9 L1523.9 399.2 L1524.2 397.1 L1524.5 400.0 L1524.8 397.0 L1525.1 398.9 L1525.4 397.9 L1525.7 395.1 L1526.0 395.4 L1526.3 393.9 L1526.7 393.1 L1527.0 390.5 L1527.3 386.2 L1527.6 381.2 L1527.9 376.3 L1528.2 370.5 L1528.5 362.2 L1528.8 354.8 L1529.1 347.7 L1529.4 342.0 L1529.7 339.3 L1530.0 338.2 L1530.3 341.9 L1530.6 347.0 L1530.9 353.5 L1531.2 360.9 L1531.5 368.3 L1531.8 374.8 L1532.1 379.7 L1532.4 383.6 L1532.7 387.0 L1533.0 390.3 L1533.3 391.7 L1533.6 393.6 L1533.9 394.9 L1534.2 396.3 L1534.5 395.8 L1534.8 397.4 L1535.1 397.1 L1535.4 397.7 L1535.7 398.5 L1536.0 398.9 L1536.3 398.0 L1536.6 396.8 L1537.0 394.8 L1537.3 395.2 L1537.6 395.2 L1537.9 395.3 L1538.2 393.4 L1538.5 393.8 L1538.8 393.5 L1539.1 390.8 L1539.4 390.0 L1539.7 385.8 L1540.0 382.4 L1540.3 378.1 L1540.6 373.7 L1540.9 367.7 L1541.2 362.8 L1541.5 360.5 L1541.8 358.0 L1542.1 357.9 L1542.4 359.3 L1542.7 364.0 L1543.0 368.6 L1543.3 372.8 L1543.6 376.4 L1543.9 381.7 L1544.2 385.3 L1544.5 387.4 L1544.8 393.3 L1545.1 395.7 L1545.4 395.1 L1545.7 396.7 L1546.0 399.5 L1546.3 398.2 L1546.6 399.0 L1547.0 398.8 L1547.3 399.9 L1547.6 399.9 L1547.9 400.6 L1548.2 400.0 L1548.5 400.3 L1548.8 398.5 L1549.1 400.3 L1549.4 402.3 L1549.7 400.3 L1550.0 398.4 L1550.3 398.5 L1550.6 397.5 L1550.9 398.0 L1551.2 396.2 L1551.5 396.0 L1551.8 392.1 L1552.1 390.7 L1552.4 385.5 L1552.7 383.9 L1553.0 380.8 L1553.3 375.7 L1553.6 372.1 L1553.9 368.1 L1554.2 364.5 L1554.5 362.4 L1554.8 361.9 L1555.1 362.1 L1555.4 364.4 L1555.7 367.8 L1556.0 371.0 L1556.3 376.5 L1556.6 380.5 L1557.0 384.0 L1557.3 388.1 L1557.6 391.4 L1557.9 393.1 L1558.2 393.6 L1558.5 396.1 L1558.8 396.6 L1559.1 398.6 L1559.4 398.7 L1559.7 400.7 L1560.0 401.5 L1560.3 400.9 L1560.6 400.8 L1560.9 399.3 L1561.2 401.9 L1561.5 399.8 L1561.8 398.2 L1562.1 398.6 L1562.4 400.4 L1562.7 400.7 L1563.0 401.1 L1563.3 401.1 L1563.6 402.1 L1563.9 402.3 L1564.2 401.9 L1564.5 402.8 L1564.8 401.9 L1565.1 401.4 L1565.4 400.6 L1565.7 399.0 L1566.0 397.8 L1566.3 394.9 L1566.6 394.3 L1566.9 392.3 L1567.3 388.1 L1567.6 385.6 L1567.9 380.6 L1568.2 375.7 L1568.5 370.7 L1568.8 365.3 L1569.1 359.6 L1569.4 354.0 L1569.7 348.5 L1570.0 345.1 L1570.3 343.3 L1570.6 344.6 L1570.9 347.8 L1571.2 353.7 L1571.5 358.6 L1571.8 365.4 L1572.1 371.7 L1572.4 376.9 L1572.7 381.1 L1573.0 383.9 L1573.3 387.5 L1573.6 391.8 L1573.9 393.1 L1574.2 394.9 L1574.5 397.1 L1574.8 397.2 L1575.1 398.7 L1575.4 398.5 L1575.7 401.5 L1576.0 400.8 L1576.3 401.9 L1576.6 401.8 L1576.9 402.1 L1577.3 400.1 L1577.6 401.3 L1577.9 400.7 L1578.2 400.4 L1578.5 400.7 L1578.8 401.1 L1579.1 402.8 L1579.4 402.9 L1579.7 402.5 L1580.0 401.2 L1580.3 400.3 L1580.6 400.6 L1580.9 399.6 L1581.2 402.2 L1581.5 400.9 L1581.8 401.6 L1582.1 403.8 L1582.4 402.8 L1582.7 407.1 L1583.0 402.4 L1583.3 402.9 L1583.6 401.6 L1583.9 403.4 L1584.2 398.5 L1584.5 402.2 L1584.8 402.2 L1585.1 401.3 L1585.4 403.7 L1585.7 404.9 L1586.0 402.7 L1586.3 404.4 L1586.6 401.2 L1586.9 400.3 L1587.3 398.6 L1587.6 400.5 L1587.9 397.8 L1588.2 398.3 L1588.5 396.7 L1588.8 399.0 L1589.1 397.5 L1589.4 399.2 L1589.7 399.5 L1590.0 401.5 L1590.3 400.3 L1590.6 400.1 L1590.9 401.2 L1591.2 401.4 L1591.5 400.9 L1591.8 398.0 L1592.1 399.4 L1592.4 398.8 L1592.7 400.4 L1593.0 401.6 L1593.3 402.2 L1593.6 402.9 L1593.9 401.0 L1594.2 402.2 L1594.5 401.8 L1594.8 403.4 L1595.1 401.4 L1595.4 402.4 L1595.7 401.9 L1596.0 400.0 L1596.3 403.2 L1596.6 402.7 L1596.9 402.2 L1597.2 402.3 L1597.6 404.3 L1597.9 403.5 L1598.2 403.7 L1598.5 405.6 L1598.8 406.6 L1599.1 405.9 L1599.4 402.1 L1599.7 401.5 L1600.0 402.0 L1600.3 400.2 L1600.6 399.7 L1600.9 399.7 L1601.2 399.8 L1601.5 398.4 L1601.8 403.1 L1602.1 403.0 L1602.4 405.2 L1602.7 405.8 L1603.0 406.1 L1603.3 405.6 L1603.6 405.8 L1603.9 404.6 L1604.2 405.2 L1604.5 406.8 L1604.8 403.7 L1605.1 407.1 L1605.4 405.3 L1605.7 403.2 L1606.0 405.9 L1606.3 402.9 L1606.6 401.8 L1606.9 401.9 L1607.2 403.1 L1607.6 399.3 L1607.9 399.5 L1608.2 399.2 L1608.5 396.3 L1608.8 395.8 L1609.1 392.4 L1609.4 391.8 L1609.7 389.5 L1610.0 389.0 L1610.3 387.1 L1610.6 386.5 L1610.9 386.1 L1611.2 386.1 L1611.5 387.4 L1611.8 388.6 L1612.1 389.6 L1612.4 392.4 L1612.7 395.2 L1613.0 395.5 L1613.3 397.1 L1613.6 398.4 L1613.9 400.2 L1614.2 401.6 L1614.5 403.4 L1614.8 402.5 L1615.1 404.3 L1615.4 401.3 L1615.7 402.0 L1616.0 402.6 L1616.3 404.5 L1616.6 404.8 L1616.9 406.0 L1617.2 404.9 L1617.6 406.8 L1617.9 403.6 L1618.2 403.7 L1618.5 402.2 L1618.8 405.0 L1619.1 405.0 L1619.4 404.6 L1619.7 404.6 L1620.0 405.0 L1620.3 406.5 L1620.6 406.7 L1620.9 405.9 L1621.2 405.3 L1621.5 406.2 L1621.8 405.9 L1622.1 404.3 L1622.4 402.7 L1622.7 403.2 L1623.0 402.3 L1623.3 402.0 L1623.6 402.6 L1623.9 403.6 L1624.2 402.9 L1624.5 403.9 L1624.8 401.9 L1625.1 400.3 L1625.4 401.6 L1625.7 399.3 L1626.0 400.2 L1626.3 402.6 L1626.6 401.0 L1626.9 402.6 L1627.2 401.4 L1627.5 399.7 L1627.9 398.4 L1628.2 397.9 L1628.5 398.0 L1628.8 394.8 L1629.1 394.9 L1629.4 393.9 L1629.7 392.7 L1630.0 392.6 L1630.3 392.7 L1630.6 393.0 L1630.9 394.5 L1631.2 393.3 L1631.5 396.0 L1631.8 397.1 L1632.1 397.0 L1632.4 398.2 L1632.7 396.3 L1633.0 398.6 L1633.3 398.6 L1633.6 398.7 L1633.9 399.3 L1634.2 398.7 L1634.5 399.9 L1634.8 399.0 L1635.1 399.8 L1635.4 399.7 L1635.7 401.4 L1636.0 400.0 L1636.3 402.1 L1636.6 404.2 L1636.9 407.1 L1637.2 404.7 L1637.5 404.6 L1637.9 405.2 L1638.2 406.4 L1638.5 404.2 L1638.8 402.7 L1639.1 405.8 L1639.4 403.1 L1639.7 406.0 L1640.0 404.2 L1640.3 402.2 L1640.6 403.8 L1640.9 403.2 L1641.2 404.4 L1641.5 404.3 L1641.8 401.6 L1642.1 401.8 L1642.4 402.8 L1642.7 402.1 L1643.0 400.7 L1643.3 397.8 L1643.6 398.6 L1643.9 397.2 L1644.2 398.1 L1644.5 397.9 L1644.8 394.8 L1645.1 396.0 L1645.4 397.1 L1645.7 397.6 L1646.0 398.2 L1646.3 398.9 L1646.6 400.8 L1646.9 398.7 L1647.2 400.7 L1647.5 401.1 L1647.9 403.5 L1648.2 403.4 L1648.5 404.6 L1648.8 404.1 L1649.1 405.2 L1649.4 406.2 L1649.7 407.3 L1650.0 408.1 L1650.3 408.0 L1650.6 408.3 L1650.9 408.4 L1651.2 408.7 L1651.5 404.9 L1651.8 405.7 L1652.1 408.0 L1652.4 406.4 L1652.7 406.6 L1653.0 404.3 L1653.3 402.9 L1653.6 405.1 L1653.9 403.3 L1654.2 404.8 L1654.5 403.0 L1654.8 402.4 L1655.1 403.6 L1655.4 403.2 L1655.7 404.3 L1656.0 404.9 L1656.3 406.2 L1656.6 404.7 L1656.9 406.1 L1657.2 407.5 L1657.5 408.3 L1657.8 408.9 L1658.2 409.3 L1658.5 407.3 L1658.8 403.7 L1659.1 403.8 L1659.4 401.1 L1659.7 403.8 L1660.0 404.1 L1660.3 403.1 L1660.6 403.1 L1660.9 404.8 L1661.2 403.1 L1661.5 402.4 L1661.8 401.5 L1662.1 402.8 L1662.4 403.3 L1662.7 406.1 L1663.0 404.5 L1663.3 404.5 L1663.6 403.3 L1663.9 406.6 L1664.2 405.9 L1664.5 406.0 L1664.8 403.7 L1665.1 407.1 L1665.4 405.6 L1665.7 402.1 L1666.0 403.8 L1666.3 406.4 L1666.6 404.5 L1666.9 402.9 L1667.2 403.0 L1667.5 403.8 L1667.8 404.4 L1668.2 402.7 L1668.5 403.5 L1668.8 402.6 L1669.1 402.8 L1669.4 403.1 L1669.7 401.0 L1670.0 402.5 L1670.3 401.5 L1670.6 402.2 L1670.9 400.7 L1671.2 399.8 L1671.5 398.9 L1671.8 396.7 L1672.1 394.6 L1672.4 393.2 L1672.7 392.6 L1673.0 393.0 L1673.3 390.8 L1673.6 390.3 L1673.9 388.7 L1674.2 390.6 L1674.5 389.2 L1674.8 391.3 L1675.1 391.1 L1675.4 393.5 L1675.7 393.6 L1676.0 396.2 L1676.3 398.8 L1676.6 399.3 L1676.9 399.3 L1677.2 399.5 L1677.5 401.9 L1677.8 401.3 L1678.2 401.5 L1678.5 401.0 L1678.8 399.5 L1679.1 398.6 L1679.4 397.0 L1679.7 393.5 L1680.0 393.1 L1680.3 392.2 L1680.6 393.8 L1680.9 394.1 L1681.2 396.2 L1681.5 396.0 L1681.8 397.0 L1682.1 397.3 L1682.4 399.2 L1682.7 399.0 L1683.0 400.0 L1683.3 400.1 L1683.6 399.8 L1683.9 398.2 L1684.2 401.9 L1684.5 401.6 L1684.8 402.4 L1685.1 401.7 L1685.4 403.2 L1685.7 403.0 L1686.0 404.2 L1686.3 401.9 L1686.6 402.4 L1686.9 405.6 L1687.2 403.1 L1687.5 403.7 L1687.8 406.6 L1688.1 405.7 L1688.5 405.3 L1688.8 405.6 L1689.1 404.8 L1689.4 406.4 L1689.7 403.0 L1690.0 402.3 L1690.3 402.3 L1690.6 402.5 L1690.9 401.7 L1691.2 402.8 L1691.5 401.7 L1691.8 403.6 L1692.1 402.7 L1692.4 405.3 L1692.7 402.5 L1693.0 403.8 L1693.3 402.4 L1693.6 402.8 L1693.9 401.6 L1694.2 402.4 L1694.5 401.1 L1694.8 400.1 L1695.1 401.1 L1695.4 399.3 L1695.7 397.5 L1696.0 397.5 L1696.3 396.9 L1696.6 395.0 L1696.9 393.5 L1697.2 392.4 L1697.5 391.4 L1697.8 392.0 L1698.1 390.4 L1698.5 388.9 L1698.8 388.7 L1699.1 387.0 L1699.4 386.6 L1699.7 385.8 L1700.0 385.4 L1700.3 387.6 L1700.6 390.0 L1700.9 390.8 L1701.2 392.5 L1701.5 393.6 L1701.8 396.9 L1702.1 398.0 L1702.4 398.5 L1702.7 400.4 L1703.0 397.6 L1703.3 400.8 L1703.6 399.9 L1703.9 401.0 L1704.2 400.5 L1704.5 399.3 L1704.8 399.7 L1705.1 399.2 L1705.4 400.6 L1705.7 404.7 L1706.0 403.1 L1706.3 405.8 L1706.6 404.6 L1706.9 404.2 L1707.2 404.4 L1707.5 403.2 L1707.8 404.8 L1708.1 402.5 L1708.5 404.1 L1708.8 403.7 L1709.1 404.2 L1709.4 403.6 L1709.7 404.6 L1710.0 401.8 L1710.3 404.6 L1710.6 402.8 L1710.9 403.3 L1711.2 403.5 L1711.5 402.9 L1711.8 404.0 L1712.1 402.1 L1712.4 402.1 L1712.7 403.0 L1713.0 402.2 L1713.3 404.0 L1713.6 404.2 L1713.9 402.5 L1714.2 401.3 L1714.5 398.3 L1714.8 401.3 L1715.1 399.7 L1715.4 399.6 L1715.7 397.4 L1716.0 398.4 L1716.3 397.1 L1716.6 396.4 L1716.9 395.5 L1717.2 393.7 L1717.5 391.6 L1717.8 388.7 L1718.1 388.3 L1718.4 387.2 L1718.8 385.6 L1719.1 384.3 L1719.4 382.5 L1719.7 381.6 L1720.0 381.1 L1720.3 381.5 L1720.6 384.0 L1720.9 384.3 L1721.2 385.7 L1721.5 388.8 L1721.8 390.3 L1722.1 391.9 L1722.4 392.9 L1722.7 394.8 L1723.0 397.4 L1723.3 398.4 L1723.6 398.8 L1723.9 400.4 L1724.2 399.2 L1724.5 400.7 L1724.8 402.2 L1725.1 402.0 L1725.4 401.6 L1725.7 402.0 L1726.0 401.3 L1726.3 401.3 L1726.6 399.6 L1726.9 400.4 L1727.2 400.3 L1727.5 403.2 L1727.8 404.1 L1728.1 404.1 L1728.4 404.5 L1728.8 403.6 L1729.1 403.2 L1729.4 403.5 L1729.7 401.0 L1730.0 401.5 L1730.3 403.9 L1730.6 403.3 L1730.9 402.4 L1731.2 401.4 L1731.5 401.1 L1731.8 401.0 L1732.1 397.4 L1732.4 396.2 L1732.7 393.0 L1733.0 391.9 L1733.3 389.4 L1733.6 387.1 L1733.9 384.3 L1734.2 381.7 L1734.5 377.3 L1734.8 374.6 L1735.1 372.3 L1735.4 370.0 L1735.7 368.8 L1736.0 368.5 L1736.3 369.0 L1736.6 371.2 L1736.9 372.5 L1737.2 375.6 L1737.5 379.0 L1737.8 381.0 L1738.1 385.0 L1738.4 388.0 L1738.8 389.1 L1739.1 391.3 L1739.4 394.7 L1739.7 395.6 L1740.0 397.3 L1740.3 399.4 L1740.6 397.3 L1740.9 399.5 L1741.2 399.6 L1741.5 403.0 L1741.8 400.1 L1742.1 402.0 L1742.4 401.5 L1742.7 403.6 L1743.0 400.5 L1743.3 400.4 L1743.6 399.7 L1743.9 405.0 L1744.2 401.3 L1744.5 401.9 L1744.8 405.7 L1745.1 403.5 L1745.4 402.6 L1745.7 401.1 L1746.0 402.5 L1746.3 401.3 L1746.6 400.7 L1746.9 399.4 L1747.2 398.5 L1747.5 395.9 L1747.8 393.9 L1748.1 393.6 L1748.4 389.9 L1748.7 389.2 L1749.1 387.1 L1749.4 384.5 L1749.7 383.6 L1750.0 382.5 L1750.3 381.7 L1750.6 382.2 L1750.9 383.7 L1751.2 385.4 L1751.5 386.1 L1751.8 387.7 L1752.1 389.5 L1752.4 391.4 L1752.7 392.3 L1753.0 394.5 L1753.3 397.4 L1753.6 397.7 L1753.9 399.5 L1754.2 400.5 L1754.5 403.0 L1754.8 404.0 L1755.1 403.7 L1755.4 405.2 L1755.7 405.1 L1756.0 403.4 L1756.3 403.7 L1756.6 401.8 L1756.9 403.5 L1757.2 402.2 L1757.5 403.0 L1757.8 401.2 L1758.1 404.4 L1758.4 404.3 L1758.7 403.5 L1759.1 406.4 L1759.4 407.1 L1759.7 406.5 L1760.0 406.7 L1760.3 408.8 L1760.6 407.5 L1760.9 407.9 L1761.2 407.6 L1761.5 407.2 L1761.8 407.2 L1762.1 405.4 L1762.4 405.8 L1762.7 405.9 L1763.0 406.0 L1763.3 405.3 L1763.6 406.0 L1763.9 404.8 L1764.2 406.0 L1764.5 405.2 L1764.8 403.0 L1765.1 405.7 L1765.4 404.3 L1765.7 405.3 L1766.0 406.6 L1766.3 407.4 L1766.6 404.4 L1766.9 405.4 L1767.2 405.2 L1767.5 406.0 L1767.8 402.5 L1768.1 403.0 L1768.4 403.1 L1768.7 402.5 L1769.1 402.2 L1769.4 402.3 L1769.7 401.3 L1770.0 401.8 L1770.3 403.1 L1770.6 399.9 L1770.9 398.8 L1771.2 398.1 L1771.5 396.0 L1771.8 397.6 L1772.1 398.7 L1772.4 395.5 L1772.7 396.9 L1773.0 399.5 L1773.3 398.9 L1773.6 398.5 L1773.9 400.4 L1774.2 399.5 L1774.5 398.6 L1774.8 400.5 L1775.1 402.3 L1775.4 403.1 L1775.7 405.2 L1776.0 404.6 L1776.3 405.0 L1776.6 405.3 L1776.9 404.9 L1777.2 401.5 L1777.5 403.3 L1777.8 405.4 L1778.1 405.5 L1778.4 404.2 L1778.7 404.2 L1779.0 406.7 L1779.4 405.4 L1779.7 404.0 L1780.0 405.2 L1780.3 406.4 L1780.6 406.2 L1780.9 405.5 L1781.2 406.7 L1781.5 407.7 L1781.8 406.3 L1782.1 404.8 L1782.4 404.4 L1782.7 405.6 L1783.0 403.2 L1783.3 407.0 L1783.6 407.5 L1783.9 409.1 L1784.2 407.0 L1784.5 408.4 L1784.8 409.7 L1785.1 408.7 L1785.4 405.8 L1785.7 406.8 L1786.0 406.9 L1786.3 405.0 L1786.6 406.9 L1786.9 405.3 L1787.2 405.0 L1787.5 404.2 L1787.8 404.2 L1788.1 403.6 L1788.4 403.8 L1788.7 403.9 L1789.0 402.2 L1789.4 405.6 L1789.7 404.9 L1790.0 404.3 L1790.3 405.6 L1790.6 404.7 L1790.9 404.3 L1791.2 405.2 L1791.5 403.4 L1791.8 402.6 L1792.1 405.9 L1792.4 407.6 L1792.7 405.2 L1793.0 406.7 L1793.3 405.6 L1793.6 406.9 L1793.9 407.3 L1794.2 407.5 L1794.5 408.7 L1794.8 410.4 L1795.1 411.6 L1795.4 412.7 L1795.7 412.7 L1796.0 411.5 L1796.3 410.8 L1796.6 411.6 L1796.9 411.7 L1797.2 412.6 L1797.5 412.4 L1797.8 412.6 L1798.1 409.3 L1798.4 411.8 L1798.7 408.0 L1799.0 409.4 L1799.4 408.1 L1799.7 408.6 L1800.0 408.6 L1800.3 408.3 L1800.6 410.7 L1800.9 411.3 L1801.2 411.2 L1801.5 411.1 L1801.8 409.2 L1802.1 409.9 L1802.4 409.4 L1802.7 408.9 L1803.0 409.8 L1803.3 408.0 L1803.6 411.6 L1803.9 409.2 L1804.2 409.2 L1804.5 410.2 L1804.8 410.3 L1805.1 408.9 L1805.4 410.0 L1805.7 411.5 L1806.0 410.6 L1806.3 407.2 L1806.6 408.9 L1806.9 406.1 L1807.2 406.5 L1807.5 409.2 L1807.8 408.7 L1808.1 410.1 L1808.4 408.8 L1808.7 408.0 L1809.0 406.4 L1809.3 408.1 L1809.7 407.0 L1810.0 407.2 L1810.3 407.0 L1810.6 409.6 L1810.9 409.0 L1811.2 407.9 L1811.5 407.1 L1811.8 406.4 L1812.1 406.0 L1812.4 404.3 L1812.7 406.3 L1813.0 407.4 L1813.3 409.6 L1813.6 408.3 L1813.9 407.9 L1814.2 407.3 L1814.5 408.1 L1814.8 407.3 L1815.1 406.7 L1815.4 409.1 L1815.7 409.9 L1816.0 406.1 L1816.3 406.1 L1816.6 407.3 L1816.9 407.4 L1817.2 403.7 L1817.5 407.2 L1817.8 407.5 L1818.1 406.3 L1818.4 405.4 L1818.7 406.3 L1819.0 406.0 L1819.3 405.0 L1819.7 405.3 L1820.0 404.2 L1820.3 404.3 L1820.6 404.6 L1820.9 402.7 L1821.2 403.6 L1821.5 401.5 L1821.8 403.4 L1822.1 403.0 L1822.4 405.0 L1822.7 404.2 L1823.0 405.1 L1823.3 402.9 L1823.6 404.6 L1823.9 404.4 L1824.2 408.0 L1824.5 408.7 L1824.8 408.3 L1825.1 410.1 L1825.4 407.7 L1825.7 408.3 L1826.0 406.7 L1826.3 406.1 L1826.6 406.8 L1826.9 406.2 L1827.2 408.4 L1827.5 408.0 L1827.8 407.4 L1828.1 408.5 L1828.4 408.6 L1828.7 409.0 L1829.0 408.9 L1829.3 408.4 L1829.7 409.5 L1830.0 411.1 L1830.3 409.0 L1830.6 409.3 L1830.9 407.9 L1831.2 408.0 L1831.5 405.9 L1831.8 409.3 L1832.1 409.1 L1832.4 407.2 L1832.7 409.7 L1833.0 407.6 L1833.3 407.8 L1833.6 410.2 L1833.9 407.9 L1834.2 408.0 L1834.5 410.1 L1834.8 412.4 L1835.1 410.0 L1835.4 412.0 L1835.7 410.1 L1836.0 409.1 L1836.3 410.0 L1836.6 411.2 L1836.9 409.3 L1837.2 408.6 L1837.5 409.9 L1837.8 409.7 L1838.1 408.1 L1838.4 409.3 L1838.7 409.4 L1839.0 409.0 L1839.3 408.4 L1839.6 408.6 L1840.0 408.3 L1840.3 408.9 L1840.6 407.2 L1840.9 407.7 L1841.2 407.5 L1841.5 406.6 L1841.8 406.9 L1842.1 407.2 L1842.4 408.0 L1842.7 408.6 L1843.0 408.0 L1843.3 409.4 L1843.6 409.6 L1843.9 409.2 L1844.2 407.2 L1844.5 406.3 L1844.8 403.5 L1845.1 404.5 L1845.4 405.0 L1845.7 403.6 L1846.0 404.7 L1846.3 402.8 L1846.6 402.4 L1846.9 399.6 L1847.2 403.0 L1847.5 401.2 L1847.8 400.7 L1848.1 399.4 L1848.4 398.9 L1848.7 400.1 L1849.0 400.0 L1849.3 398.5 L1849.6 397.1 L1850.0 398.3 L1850.3 398.3 L1850.6 396.5 L1850.9 397.6 L1851.2 398.3 L1851.5 400.9 L1851.8 401.0 L1852.1 401.3 L1852.4 401.4 L1852.7 402.9 L1853.0 404.2 L1853.3 404.2 L1853.6 406.0 L1853.9 407.0 L1854.2 407.0 L1854.5 406.4 L1854.8 405.6 L1855.1 405.5 L1855.4 405.4 L1855.7 403.4 L1856.0 404.9 L1856.3 405.8 L1856.6 404.1 L1856.9 404.7 L1857.2 403.2 L1857.5 401.7 L1857.8 400.9 L1858.1 400.0 L1858.4 398.7 L1858.7 399.8 L1859.0 398.7 L1859.3 397.8 L1859.6 398.0 L1860.0 398.0 L1860.3 396.6 L1860.6 398.3 L1860.9 399.3 L1861.2 399.5 L1861.5 400.3 L1861.8 400.8 L1862.1 402.1 L1862.4 401.3 L1862.7 404.6 L1863.0 404.1 L1863.3 404.9 L1863.6 407.3 L1863.9 405.5 L1864.2 405.4 L1864.5 406.0 L1864.8 402.5 L1865.1 403.5 L1865.4 404.3 L1865.7 404.5 L1866.0 404.9 L1866.3 403.9 L1866.6 404.2 L1866.9 405.9 L1867.2 405.3 L1867.5 404.7 L1867.8 404.5 L1868.1 405.4 L1868.4 406.4 L1868.7 404.6 L1869.0 403.8 L1869.3 404.0 L1869.6 405.8 L1869.9 402.9 L1870.3 401.7 L1870.6 403.2 L1870.9 403.5 L1871.2 404.8 L1871.5 407.1 L1871.8 408.8 L1872.1 405.6 L1872.4 407.3 L1872.7 406.1 L1873.0 407.1 L1873.3 406.4 L1873.6 403.7 L1873.9 405.2 L1874.2 403.1 L1874.5 404.8 L1874.8 404.4 L1875.1 404.4 L1875.4 404.7 L1875.7 405.4 L1876.0 406.8 L1876.3 403.8 L1876.6 402.9 L1876.9 403.0 L1877.2 402.4 L1877.5 405.0 L1877.8 408.3 L1878.1 408.7 L1878.4 408.1 L1878.7 406.6 L1879.0 407.3 L1879.3 404.3 L1879.6 404.6 L1879.9 406.2 L1880.3 404.6 L1880.6 406.1 L1880.9 405.9 L1881.2 405.7 L1881.5 404.2 L1881.8 404.8 L1882.1 402.5 L1882.4 404.1 L1882.7 401.5 L1883.0 401.2 L1883.3 398.8 L1883.6 399.7 L1883.9 400.0 L1884.2 399.3 L1884.5 397.8 L1884.8 397.7 L1885.1 395.3 L1885.4 398.0 L1885.7 395.3 L1886.0 396.2 L1886.3 393.1 L1886.6 393.6 L1886.9 391.8 L1887.2 393.7 L1887.5 393.0 L1887.8 394.2 L1888.1 394.3 L1888.4 396.4 L1888.7 400.3 L1889.0 400.2 L1889.3 401.9 L1889.6 400.4 L1889.9 401.4 L1890.3 402.0 L1890.6 402.4 L1890.9 403.4 L1891.2 405.3 L1891.5 404.1 L1891.8 407.1 L1892.1 408.0 L1892.4 410.2 L1892.7 409.6 L1893.0 408.7 L1893.3 408.7 L1893.6 408.9 L1893.9 408.8 L1894.2 409.8 L1894.5 408.3 L1894.8 410.0 L1895.1 408.7 L1895.4 408.6 L1895.7 406.4 L1896.0 406.4 L1896.3 406.5 L1896.6 408.6 L1896.9 407.8 L1897.2 406.5 L1897.5 405.9 L1897.8 408.4 L1898.1 407.1 L1898.4 406.5 L1898.7 406.3 L1899.0 406.4 L1899.3 405.5 L1899.6 408.3 L1899.9 405.3 L1900.2 408.4 L1900.6 406.9 L1900.9 406.1 L1901.2 405.3 L1901.5 406.0 L1901.8 406.2 L1902.1 406.0 L1902.4 407.5 L1902.7 406.0 L1903.0 404.6 L1903.3 406.1 L1903.6 406.1 L1903.9 405.7 L1904.2 402.9 L1904.5 402.5 L1904.8 403.2 L1905.1 402.0 L1905.4 400.9 L1905.7 399.0 L1906.0 400.7 L1906.3 399.1 L1906.6 398.9 L1906.9 397.9 L1907.2 398.0 L1907.5 397.6 L1907.8 396.0 L1908.1 397.4 L1908.4 392.3 L1908.7 394.0 L1909.0 394.5 L1909.3 396.7 L1909.6 396.8 L1909.9 396.2 L1910.2 397.1 L1910.6 399.0 L1910.9 400.4 L1911.2 399.9 L1911.5 400.9 L1911.8 400.1 L1912.1 402.3 L1912.4 402.3 L1912.7 402.9 L1913.0 404.5 L1913.3 403.5 L1913.6 405.2 L1913.9 404.6 L1914.2 402.3 L1914.5 400.2 L1914.8 400.5 L1915.1 400.6 L1915.4 399.5 L1915.7 399.9 L1916.0 400.1 L1916.3 398.8 L1916.6 398.6 L1916.9 397.1 L1917.2 396.7 L1917.5 397.0 L1917.8 396.3 L1918.1 396.7 L1918.4 396.4 L1918.7 397.2 L1919.0 398.9 L1919.3 398.8 L1919.6 398.9 L1919.9 398.4 L1920.2 399.9 L1920.6 399.4 L1920.9 402.2 L1921.2 402.8 L1921.5 404.5 L1921.8 405.6 L1922.1 405.0 L1922.4 404.9 L1922.7 405.0 L1923.0 405.7 L1923.3 406.3 L1923.6 407.1 L1923.9 407.9 L1924.2 408.3 L1924.5 408.0 L1924.8 411.3 L1925.1 406.0 L1925.4 403.8 L1925.7 402.5 L1926.0 403.5 L1926.3 403.9 L1926.6 406.0 L1926.9 406.6 L1927.2 406.7 L1927.5 408.6 L1927.8 408.7 L1928.1 407.8 L1928.4 408.5 L1928.7 405.9 L1929.0 406.7 L1929.3 404.5 L1929.6 404.6 L1929.9 405.7 L1930.2 405.5 L1930.5 404.8 L1930.9 406.0 L1931.2 403.8 L1931.5 402.7 L1931.8 400.9 L1932.1 402.2 L1932.4 401.0 L1932.7 398.3 L1933.0 396.4 L1933.3 395.5 L1933.6 391.4 L1933.9 389.2 L1934.2 387.8 L1934.5 387.4 L1934.8 386.7 L1935.1 385.7 L1935.4 385.0 L1935.7 387.3 L1936.0 387.9 L1936.3 389.9 L1936.6 394.2 L1936.9 396.0 L1937.2 396.6 L1937.5 398.7 L1937.8 400.3 L1938.1 401.9 L1938.4 401.8 L1938.7 403.2 L1939.0 401.0 L1939.3 404.8 L1939.6 405.5 L1939.9 403.7 L1940.2 402.3 L1940.5 404.3 L1940.9 403.6 L1941.2 404.5 L1941.5 403.3 L1941.8 403.9 L1942.1 404.1 L1942.4 404.9 L1942.7 404.7 L1943.0 402.9 L1943.3 405.9 L1943.6 405.3 L1943.9 403.3 L1944.2 405.7 L1944.5 405.5 L1944.8 402.8 L1945.1 403.8 L1945.4 401.3 L1945.7 400.2 L1946.0 403.2 L1946.3 403.5 L1946.6 401.6 L1946.9 403.4 L1947.2 401.6 L1947.5 399.2 L1947.8 397.5 L1948.1 396.3 L1948.4 393.2 L1948.7 393.3 L1949.0 390.7 L1949.3 389.8 L1949.6 388.4 L1949.9 388.4 L1950.2 386.7 L1950.5 387.6 L1950.9 387.3 L1951.2 389.6 L1951.5 390.5 L1951.8 391.6 L1952.1 393.6 L1952.4 396.3 L1952.7 398.0 L1953.0 400.9 L1953.3 401.8 L1953.6 405.9 L1953.9 404.4 L1954.2 404.1 L1954.5 405.3 L1954.8 405.8 L1955.1 407.6 L1955.4 406.9 L1955.7 408.1 L1956.0 407.3 L1956.3 407.1 L1956.6 410.4 L1956.9 405.6 L1957.2 405.7 L1957.5 404.9 L1957.8 406.9 L1958.1 405.3 L1958.4 405.4 L1958.7 408.4 L1959.0 407.8 L1959.3 406.2 L1959.6 407.6 L1959.9 407.5 L1960.2 408.8 L1960.5 407.8 L1960.8 412.2 L1961.2 411.5 L1961.5 410.8 L1961.8 410.6 L1962.1 409.2 L1962.4 407.6 L1962.7 409.0 L1963.0 407.4 L1963.3 406.4 L1963.6 406.8 L1963.9 405.6 L1964.2 405.9 L1964.5 407.5 L1964.8 405.6 L1965.1 407.1 L1965.4 406.1 L1965.7 408.8 L1966.0 410.8 L1966.3 409.6 L1966.6 407.7 L1966.9 407.3 L1967.2 407.8 L1967.5 406.5 L1967.8 409.3 L1968.1 408.8 L1968.4 406.9 L1968.7 408.2 L1969.0 408.1 L1969.3 407.4 L1969.6 408.2 L1969.9 410.3 L1970.2 409.1 L1970.5 410.9 L1970.8 408.8 L1971.2 407.4 L1971.5 408.6 L1971.8 404.3 L1972.1 403.5 L1972.4 405.1 L1972.7 404.8 L1973.0 404.7 L1973.3 406.4 L1973.6 405.2 L1973.9 406.3 L1974.2 409.1 L1974.5 409.4 L1974.8 409.8 L1975.1 408.5 L1975.4 409.3 L1975.7 408.1" fill="none" stroke="#f4aeb4" stroke-width="2.6" stroke-linejoin="round"/>
<path d="M1091.2 388.3 L1091.5 384.9 L1091.8 382.8 L1092.1 380.5 L1092.5 378.7 L1092.8 373.9 L1093.1 372.2 L1093.4 369.7 L1093.7 367.5 L1094.0 366.9M1094.6 369.5 L1094.9 371.3 L1095.2 373.6 L1095.5 376.5 L1095.8 378.9 L1096.1 382.6 L1096.4 383.9 L1096.7 387.8 L1097.0 390.2 L1097.3 389.9M1108.5 386.8 L1108.8 382.8 L1109.1 383.9 L1109.4 380.6 L1109.7 380.2 L1110.0 377.7 L1110.3 375.9M1111.2 378.1 L1111.5 380.5 L1111.8 383.5 L1112.1 383.5 L1112.4 387.5 L1112.8 390.3 L1113.1 390.5 L1113.4 394.1M1152.7 383.8 L1153.1 382.1 L1153.4 378.8 L1153.7 373.6 L1154.0 367.1 L1154.3 355.4 L1154.6 341.1 L1154.9 322.4 L1155.2 301.2 L1155.5 280.6 L1155.8 264.2 L1156.1 257.9 L1156.4 264.1 L1156.7 279.8 L1157.0 300.2 L1157.3 320.9 L1157.6 339.1 L1157.9 353.7 L1158.2 365.3 L1158.5 373.4 L1158.8 378.6 L1159.1 381.4 L1159.4 385.0 L1159.7 385.5 L1160.0 388.1M1184.3 388.7 L1184.6 385.8 L1184.9 385.1 L1185.2 381.9 L1185.5 380.2 L1185.8 378.7 L1186.1 376.8 L1186.4 374.6 L1186.7 374.5M1187.6 375.2 L1187.9 376.8 L1188.2 379.7 L1188.5 380.5 L1188.8 382.3 L1189.1 385.7 L1189.4 386.0 L1189.7 386.1 L1190.0 388.5M1199.1 390.3 L1199.4 388.9 L1199.7 385.8 L1200.0 382.6 L1200.3 378.2 L1200.6 373.9 L1200.9 368.3 L1201.2 361.6 L1201.5 354.9 L1201.8 348.2 L1202.1 343.6 L1202.4 340.2 L1202.7 340.1 L1203.0 342.5 L1203.3 347.9 L1203.7 354.1 L1204.0 360.4 L1204.3 368.0 L1204.6 372.8 L1204.9 378.0 L1205.2 382.8 L1205.5 384.3 L1205.8 389.1 L1206.1 390.7 L1206.4 391.7M1232.4 391.7 L1232.7 388.8 L1233.0 387.4 L1233.3 383.7 L1233.6 380.7 L1234.0 375.9 L1234.3 372.0 L1234.6 368.0 L1234.9 363.2 L1235.2 360.1 L1235.5 358.3M1235.8 359.3 L1236.1 362.5 L1236.4 365.9 L1236.7 370.5 L1237.0 373.5 L1237.3 375.4 L1237.6 378.0 L1237.9 380.2 L1238.2 381.5M1240.0 379.8 L1240.3 378.8 L1240.6 377.0 L1240.9 374.5 L1241.2 371.1 L1241.5 366.7 L1241.8 360.7 L1242.1 351.3 L1242.4 340.4 L1242.7 326.2 L1243.0 308.0 L1243.3 286.7 L1243.6 260.9 L1244.0 230.5 L1244.3 196.8 L1244.6 160.1 L1244.9 123.1 L1245.2 88.1 L1245.5 58.6 L1245.8 38.5 L1246.1 31.4 L1246.4 38.2 L1246.7 57.5 L1247.0 86.6 L1247.3 120.9 L1247.6 157.5 L1247.9 193.1 L1248.2 226.3 L1248.5 255.4 L1248.8 280.5 L1249.1 300.9 L1249.4 315.8 L1249.7 326.3 L1250.0 332.0 L1250.3 330.7 L1250.6 323.9 L1250.9 310.6 L1251.2 291.1 L1251.5 267.1 L1251.8 241.2 L1252.1 218.4 L1252.4 205.0 L1252.7 206.1 L1253.0 221.8 L1253.3 247.4 L1253.6 275.8 L1254.0 303.0 L1254.3 326.4 L1254.6 344.5 L1254.9 358.3 L1255.2 367.6 L1255.5 374.1 L1255.8 377.0 L1256.1 378.7 L1256.4 381.4 L1256.7 381.6M1259.4 382.3 L1259.7 380.8 L1260.0 379.6 L1260.3 373.9 L1260.6 367.5 L1260.9 358.7 L1261.2 346.4 L1261.5 329.9 L1261.8 307.3 L1262.1 280.5 L1262.4 251.2 L1262.7 221.6 L1263.0 197.1 L1263.3 182.7 L1263.6 182.7 L1263.9 197.4 L1264.3 221.8 L1264.6 251.6 L1264.9 281.2 L1265.2 308.3 L1265.5 330.7 L1265.8 348.8 L1266.1 362.8 L1266.4 372.3 L1266.7 377.4 L1267.0 381.4 L1267.3 385.6 L1267.6 386.7 L1267.9 386.6 L1268.2 387.6M1276.1 388.2 L1276.4 387.1 L1276.7 383.2 L1277.0 382.1 L1277.3 378.8 L1277.6 374.6 L1277.9 369.2 L1278.2 361.3 L1278.5 355.7 L1278.8 347.5 L1279.1 339.7 L1279.4 332.5 L1279.7 326.1 L1280.0 321.5 L1280.3 319.7 L1280.6 321.1 L1280.9 324.7 L1281.2 331.2 L1281.5 337.9 L1281.8 345.1 L1282.1 352.7 L1282.4 360.1 L1282.7 366.6 L1283.0 369.4 L1283.3 372.7 L1283.6 375.5 L1283.9 375.9 L1284.3 378.0M1286.1 382.9 L1286.4 385.1 L1286.7 387.5 L1287.0 387.5 L1287.3 388.7 L1287.6 391.3 L1287.9 392.3 L1288.2 392.7 L1288.5 393.8M1304.6 392.3 L1304.9 392.4 L1305.2 394.9M1356.1 398.8 L1356.4 394.6 L1356.7 393.3 L1357.0 391.3 L1357.3 388.0 L1357.6 386.4 L1357.9 384.4 L1358.2 383.2 L1358.5 380.5 L1358.8 379.5M1359.4 380.0 L1359.7 382.9 L1360.0 384.8 L1360.3 388.7 L1360.6 391.2 L1360.9 390.5 L1361.2 392.6 L1361.5 394.7 L1361.8 398.1M1364.5 396.3 L1364.8 394.7 L1365.2 391.0 L1365.5 387.3 L1365.8 382.4 L1366.1 376.6 L1366.4 370.7 L1366.7 363.0 L1367.0 355.4 L1367.3 346.4 L1367.6 337.9 L1367.9 331.3 L1368.2 326.4 L1368.5 324.8 L1368.8 326.1 L1369.1 331.6 L1369.4 338.7 L1369.7 346.3 L1370.0 354.6 L1370.3 363.0 L1370.6 370.4 L1370.9 377.2 L1371.2 382.8 L1371.5 387.4 L1371.8 390.8 L1372.1 393.3 L1372.4 394.5 L1372.7 395.8 L1373.0 396.8M1399.4 395.7 L1399.7 393.3 L1400.0 392.5 L1400.3 387.6M1402.7 393.8 L1403.0 394.2 L1403.3 395.8 L1403.6 394.9M1426.4 397.7 L1426.7 397.9 L1427.0 394.5 L1427.3 391.3 L1427.6 389.7 L1427.9 388.8 L1428.2 386.4 L1428.5 385.1M1430.0 385.7 L1430.3 385.6 L1430.6 388.7 L1430.9 390.3 L1431.2 390.5 L1431.5 393.0 L1431.8 394.3 L1432.1 398.4M1450.0 397.3 L1450.3 395.6 L1450.6 394.5 L1450.9 393.3 L1451.2 390.7 L1451.5 389.0M1453.6 393.2 L1453.9 396.2 L1454.2 396.8 L1454.5 397.7 L1454.8 397.5M1468.5 396.4 L1468.8 394.4 L1469.1 391.2 L1469.4 389.4 L1469.7 386.0 L1470.0 380.0 L1470.3 373.1 L1470.6 364.0 L1470.9 355.0 L1471.2 344.0 L1471.5 331.7 L1471.8 319.8 L1472.1 309.9 L1472.4 302.2 L1472.7 299.8 L1473.0 302.5 L1473.3 310.5 L1473.6 320.2 L1473.9 331.7 L1474.2 344.0 L1474.5 354.3 L1474.8 364.9 L1475.1 373.9 L1475.4 379.9 L1475.7 385.1 L1476.0 388.3 L1476.4 391.6 L1476.7 391.6 L1477.0 394.1 L1477.3 394.7M1489.7 397.4 L1490.0 393.9 L1490.3 391.9 L1490.6 391.8 L1490.9 388.8 L1491.2 384.0 L1491.5 379.0 L1491.8 372.2 L1492.1 365.6 L1492.4 358.2 L1492.7 352.2 L1493.0 347.3 L1493.3 344.0 L1493.6 344.7 L1493.9 347.8 L1494.2 352.5 L1494.5 358.6 L1494.8 366.5 L1495.1 371.6 L1495.4 377.1 L1495.7 382.6 L1496.0 386.4 L1496.4 389.7 L1496.7 391.9 L1497.0 392.7 L1497.3 395.3M1499.7 391.9 L1500.0 390.8 L1500.3 389.8 L1500.6 387.7 L1500.9 386.8M1502.4 387.6 L1502.7 385.9 L1503.0 390.3 L1503.3 390.1 L1503.6 391.2 L1503.9 393.4M1510.0 394.4 L1510.3 391.4 L1510.6 388.6 L1510.9 384.9 L1511.2 379.0 L1511.5 373.9 L1511.8 365.9 L1512.1 357.2 L1512.4 345.7 L1512.7 333.8 L1513.0 320.2 L1513.3 307.0 L1513.6 296.1 L1513.9 287.1 L1514.2 284.4 L1514.5 287.4 L1514.8 295.9 L1515.1 307.3 L1515.4 321.3 L1515.7 334.3 L1516.0 347.0 L1516.3 357.0 L1516.7 366.8 L1517.0 373.1 L1517.3 378.6 L1517.6 382.7 L1517.9 387.6 L1518.2 389.7 L1518.5 393.5 L1518.8 394.4M1526.0 395.4 L1526.3 393.9 L1526.7 393.1 L1527.0 390.5 L1527.3 386.2 L1527.6 381.2 L1527.9 376.3 L1528.2 370.5 L1528.5 362.2 L1528.8 354.8 L1529.1 347.7 L1529.4 342.0 L1529.7 339.3 L1530.0 338.2 L1530.3 341.9 L1530.6 347.0 L1530.9 353.5 L1531.2 360.9 L1531.5 368.3 L1531.8 374.8 L1532.1 379.7 L1532.4 383.6 L1532.7 387.0 L1533.0 390.3 L1533.3 391.7 L1533.6 393.6 L1533.9 394.9M1538.5 393.8 L1538.8 393.5 L1539.1 390.8 L1539.4 390.0 L1539.7 385.8 L1540.0 382.4 L1540.3 378.1 L1540.6 373.7 L1540.9 367.7 L1541.2 362.8 L1541.5 360.5 L1541.8 358.0M1542.4 359.3 L1542.7 364.0 L1543.0 368.6 L1543.3 372.8 L1543.6 376.4 L1543.9 381.7 L1544.2 385.3 L1544.5 387.4 L1544.8 393.3 L1545.1 395.7 L1545.4 395.1 L1545.7 396.7M1551.2 396.2 L1551.5 396.0 L1551.8 392.1 L1552.1 390.7 L1552.4 385.5 L1552.7 383.9 L1553.0 380.8 L1553.3 375.7 L1553.6 372.1 L1553.9 368.1 L1554.2 364.5 L1554.5 362.4 L1554.8 361.9M1555.1 362.1 L1555.4 364.4 L1555.7 367.8 L1556.0 371.0 L1556.3 376.5 L1556.6 380.5 L1557.0 384.0 L1557.3 388.1 L1557.6 391.4 L1557.9 393.1 L1558.2 393.6 L1558.5 396.1 L1558.8 396.6M1566.3 394.9 L1566.6 394.3 L1566.9 392.3 L1567.3 388.1 L1567.6 385.6 L1567.9 380.6 L1568.2 375.7 L1568.5 370.7 L1568.8 365.3 L1569.1 359.6 L1569.4 354.0 L1569.7 348.5 L1570.0 345.1 L1570.3 343.3 L1570.6 344.6 L1570.9 347.8 L1571.2 353.7 L1571.5 358.6 L1571.8 365.4 L1572.1 371.7 L1572.4 376.9 L1572.7 381.1 L1573.0 383.9 L1573.3 387.5 L1573.6 391.8 L1573.9 393.1 L1574.2 394.9 L1574.5 397.1M1608.2 399.2 L1608.5 396.3 L1608.8 395.8 L1609.1 392.4 L1609.4 391.8 L1609.7 389.5 L1610.0 389.0 L1610.3 387.1M1611.8 388.6 L1612.1 389.6 L1612.4 392.4 L1612.7 395.2 L1613.0 395.5 L1613.3 397.1 L1613.6 398.4 L1613.9 400.2M1671.8 396.7 L1672.1 394.6 L1672.4 393.2 L1672.7 392.6 L1673.0 393.0 L1673.3 390.8M1696.9 393.5 L1697.2 392.4 L1697.5 391.4 L1697.8 392.0 L1698.1 390.4 L1698.5 388.9 L1698.8 388.7 L1699.1 387.0M1700.6 390.0 L1700.9 390.8 L1701.2 392.5 L1701.5 393.6 L1701.8 396.9 L1702.1 398.0 L1702.4 398.5 L1702.7 400.4M1716.9 395.5 L1717.2 393.7 L1717.5 391.6 L1717.8 388.7 L1718.1 388.3 L1718.4 387.2 L1718.8 385.6 L1719.1 384.3 L1719.4 382.5 L1719.7 381.6M1720.6 384.0 L1720.9 384.3 L1721.2 385.7 L1721.5 388.8 L1721.8 390.3 L1722.1 391.9 L1722.4 392.9 L1722.7 394.8 L1723.0 397.4 L1723.3 398.4M1732.1 397.4 L1732.4 396.2 L1732.7 393.0 L1733.0 391.9 L1733.3 389.4 L1733.6 387.1 L1733.9 384.3 L1734.2 381.7 L1734.5 377.3 L1734.8 374.6 L1735.1 372.3 L1735.4 370.0 L1735.7 368.8M1736.6 371.2 L1736.9 372.5 L1737.2 375.6 L1737.5 379.0 L1737.8 381.0 L1738.1 385.0 L1738.4 388.0 L1738.8 389.1 L1739.1 391.3 L1739.4 394.7 L1739.7 395.6 L1740.0 397.3 L1740.3 399.4M1747.2 398.5 L1747.5 395.9 L1747.8 393.9 L1748.1 393.6 L1748.4 389.9 L1748.7 389.2 L1749.1 387.1 L1749.4 384.5 L1749.7 383.6 L1750.0 382.5M1750.9 383.7 L1751.2 385.4 L1751.5 386.1 L1751.8 387.7 L1752.1 389.5 L1752.4 391.4 L1752.7 392.3 L1753.0 394.5 L1753.3 397.4 L1753.6 397.7M1932.4 401.0 L1932.7 398.3 L1933.0 396.4 L1933.3 395.5 L1933.6 391.4 L1933.9 389.2 L1934.2 387.8 L1934.5 387.4 L1934.8 386.7M1935.7 387.3 L1936.0 387.9 L1936.3 389.9 L1936.6 394.2 L1936.9 396.0 L1937.2 396.6 L1937.5 398.7 L1937.8 400.3 L1938.1 401.9M1947.5 399.2 L1947.8 397.5 L1948.1 396.3 L1948.4 393.2 L1948.7 393.3 L1949.0 390.7 L1949.3 389.8 L1949.6 388.4M1951.2 389.6 L1951.5 390.5 L1951.8 391.6 L1952.1 393.6 L1952.4 396.3 L1952.7 398.0 L1953.0 400.9 L1953.3 401.8 L1953.6 405.9" fill="none" stroke="#ea7f89" stroke-width="0.6" stroke-linejoin="round"/>
<path d="M1067.3 387.1 L1067.6 387.8 L1067.9 385.8 L1068.2 386.8 L1068.5 383.6 L1068.8 386.2 L1069.1 386.4 L1069.4 388.7 L1069.7 389.5 L1070.0 390.3 L1070.3 390.7 L1070.6 389.9 L1070.9 390.8 L1071.2 391.8 L1071.5 393.3 L1071.8 391.5 L1072.2 390.0 L1072.5 391.0 L1072.8 389.4 L1073.1 390.2 L1073.4 391.5 L1073.7 391.6 L1074.0 391.8 L1074.3 391.1 L1074.6 391.0 L1074.9 388.7 L1075.2 390.7 L1075.5 391.8 L1075.8 388.8 L1076.1 390.2 L1076.4 390.2 L1076.7 386.8 L1077.0 388.2 L1077.3 389.3 L1077.6 388.6 L1077.9 390.0 L1078.2 389.6 L1078.5 392.0 L1078.8 393.0 L1079.1 393.2 L1079.4 391.0 L1079.7 391.0 L1080.0 392.9 L1080.3 390.2 L1080.6 391.4 L1080.9 389.2 L1081.2 390.5 L1081.5 388.9 L1081.8 390.3 L1082.1 390.9 L1082.5 390.5 L1082.8 390.6 L1083.1 391.3 L1083.4 392.7 L1083.7 389.2 L1084.0 391.9 L1084.3 393.4 L1084.6 393.5 L1084.9 393.2 L1085.2 389.8 L1085.5 387.3 L1085.8 390.7 L1086.1 388.7 L1086.4 390.9 L1086.7 387.3 L1087.0 388.7 L1087.3 389.5 L1087.6 389.1 L1087.9 389.6 L1088.2 390.8 L1088.5 393.2 L1088.8 394.1 L1089.1 394.1 L1089.4 394.7 L1089.7 390.5 L1090.0 391.7 L1090.3 390.8 L1090.6 390.1 L1090.9 387.0 L1091.2 388.3M1094.0 366.9 L1094.3 366.9 L1094.6 369.5M1097.3 389.9 L1097.6 389.0 L1097.9 391.0 L1098.2 391.1 L1098.5 390.9 L1098.8 390.2 L1099.1 390.6 L1099.4 390.1 L1099.7 393.1 L1100.0 389.9 L1100.3 391.5 L1100.6 394.2 L1100.9 392.9 L1101.2 394.5 L1101.5 393.4 L1101.8 396.1 L1102.1 392.0 L1102.5 392.8 L1102.8 394.8 L1103.1 391.5 L1103.4 392.9 L1103.7 393.8 L1104.0 393.4 L1104.3 395.1 L1104.6 391.6 L1104.9 391.9 L1105.2 390.8 L1105.5 388.2 L1105.8 390.1 L1106.1 391.3 L1106.4 391.5 L1106.7 390.7 L1107.0 389.6 L1107.3 391.6 L1107.6 391.5 L1107.9 388.7 L1108.2 388.5 L1108.5 386.8M1110.3 375.9 L1110.6 375.3 L1110.9 377.8 L1111.2 378.1M1113.4 394.1 L1113.7 390.7 L1114.0 391.6 L1114.3 392.7 L1114.6 391.4 L1114.9 391.2 L1115.2 389.5 L1115.5 392.7 L1115.8 393.8 L1116.1 395.2 L1116.4 394.4 L1116.7 397.4 L1117.0 397.0 L1117.3 396.5 L1117.6 397.8 L1117.9 398.2 L1118.2 395.1 L1118.5 396.2 L1118.8 395.5 L1119.1 395.0 L1119.4 399.2 L1119.7 400.3 L1120.0 396.2 L1120.3 399.7 L1120.6 400.4 L1120.9 398.3 L1121.2 397.8 L1121.5 397.6 L1121.8 395.9 L1122.1 394.9 L1122.4 394.3 L1122.8 393.2 L1123.1 395.7 L1123.4 395.8 L1123.7 393.6 L1124.0 395.4 L1124.3 394.0 L1124.6 395.9 L1124.9 397.7 L1125.2 395.2 L1125.5 397.2 L1125.8 396.0 L1126.1 395.2 L1126.4 394.5 L1126.7 396.7 L1127.0 395.0 L1127.3 395.1 L1127.6 394.6 L1127.9 398.4 L1128.2 395.8 L1128.5 395.2 L1128.8 394.9 L1129.1 396.2 L1129.4 394.5 L1129.7 393.9 L1130.0 395.4 L1130.3 395.6 L1130.6 395.9 L1130.9 395.3 L1131.2 394.2 L1131.5 394.1 L1131.8 397.3 L1132.1 398.2 L1132.4 398.2 L1132.8 396.7 L1133.1 397.5 L1133.4 398.2 L1133.7 398.9 L1134.0 399.3 L1134.3 399.7 L1134.6 400.5 L1134.9 399.6 L1135.2 398.0 L1135.5 396.2 L1135.8 396.3 L1136.1 395.9 L1136.4 392.9 L1136.7 395.4 L1137.0 395.5 L1137.3 396.5 L1137.6 398.1 L1137.9 399.3 L1138.2 398.0 L1138.5 398.6 L1138.8 397.0 L1139.1 399.8 L1139.4 398.8 L1139.7 397.0 L1140.0 396.9 L1140.3 395.6 L1140.6 395.3 L1140.9 398.2 L1141.2 396.4 L1141.5 397.5 L1141.8 395.0 L1142.1 397.0 L1142.4 396.2 L1142.7 395.5 L1143.1 397.9 L1143.4 397.0 L1143.7 395.6 L1144.0 395.9 L1144.3 393.8 L1144.6 395.1 L1144.9 394.6 L1145.2 395.7 L1145.5 396.1 L1145.8 395.8 L1146.1 395.4 L1146.4 396.9 L1146.7 394.7 L1147.0 394.2 L1147.3 393.7 L1147.6 392.7 L1147.9 390.8 L1148.2 389.5 L1148.5 388.7 L1148.8 387.3 L1149.1 389.4 L1149.4 388.4 L1149.7 388.1 L1150.0 388.7 L1150.3 389.3 L1150.6 390.0 L1150.9 389.5 L1151.2 388.4 L1151.5 387.6 L1151.8 389.0 L1152.1 387.1 L1152.4 385.7 L1152.7 383.8M1160.0 388.1 L1160.3 387.0 L1160.6 389.2 L1160.9 388.9 L1161.2 388.2 L1161.5 389.1 L1161.8 390.6 L1162.1 389.6 L1162.4 391.6 L1162.7 391.1 L1163.1 391.8 L1163.4 389.4 L1163.7 390.5 L1164.0 391.4 L1164.3 393.7 L1164.6 392.0 L1164.9 393.4 L1165.2 393.4 L1165.5 393.9 L1165.8 396.8 L1166.1 396.0 L1166.4 395.2 L1166.7 395.2 L1167.0 395.7 L1167.3 396.1 L1167.6 395.5 L1167.9 396.5 L1168.2 394.1 L1168.5 395.2 L1168.8 396.4 L1169.1 395.3 L1169.4 397.2 L1169.7 399.6 L1170.0 394.3 L1170.3 393.9 L1170.6 396.4 L1170.9 395.0 L1171.2 393.9 L1171.5 394.8 L1171.8 396.0 L1172.1 395.8 L1172.4 396.2 L1172.7 397.5 L1173.0 397.4 L1173.4 398.6 L1173.7 399.3 L1174.0 397.4 L1174.3 398.7 L1174.6 394.5 L1174.9 398.2 L1175.2 396.2 L1175.5 395.4 L1175.8 395.2 L1176.1 394.8 L1176.4 393.5 L1176.7 396.0 L1177.0 394.3 L1177.3 394.1 L1177.6 394.8 L1177.9 395.1 L1178.2 392.7 L1178.5 395.5 L1178.8 395.5 L1179.1 395.7 L1179.4 395.6 L1179.7 394.8 L1180.0 395.1 L1180.3 394.4 L1180.6 394.4 L1180.9 393.3 L1181.2 391.8 L1181.5 393.7 L1181.8 390.3 L1182.1 392.1 L1182.4 390.7 L1182.7 390.9 L1183.0 391.0 L1183.4 391.8 L1183.7 388.1 L1184.0 389.4 L1184.3 388.7M1186.7 374.5 L1187.0 373.2 L1187.3 373.7 L1187.6 375.2M1190.0 388.5 L1190.3 391.2 L1190.6 392.3 L1190.9 391.7 L1191.2 391.3 L1191.5 394.6 L1191.8 393.2 L1192.1 393.7 L1192.4 392.9 L1192.7 392.3 L1193.0 392.6 L1193.4 393.1 L1193.7 390.5 L1194.0 393.2 L1194.3 393.8 L1194.6 393.6 L1194.9 395.6 L1195.2 396.5 L1195.5 394.6 L1195.8 395.5 L1196.1 392.3 L1196.4 391.1 L1196.7 391.1 L1197.0 391.6 L1197.3 391.5 L1197.6 392.8 L1197.9 391.6 L1198.2 391.3 L1198.5 390.5 L1198.8 390.9 L1199.1 390.3M1206.4 391.7 L1206.7 392.5 L1207.0 394.7 L1207.3 397.1 L1207.6 396.1 L1207.9 396.6 L1208.2 394.5 L1208.5 395.6 L1208.8 396.3 L1209.1 396.9 L1209.4 395.3 L1209.7 396.6 L1210.0 395.4 L1210.3 394.9 L1210.6 395.3 L1210.9 394.4 L1211.2 395.0 L1211.5 395.1 L1211.8 392.7 L1212.1 393.2 L1212.4 392.7 L1212.7 391.8 L1213.0 390.1 L1213.3 389.1 L1213.7 388.1 L1214.0 386.5 L1214.3 386.8 L1214.6 387.8 L1214.9 385.5 L1215.2 388.0 L1215.5 390.0 L1215.8 391.2 L1216.1 394.4 L1216.4 394.0 L1216.7 394.5 L1217.0 393.2 L1217.3 395.7 L1217.6 394.8 L1217.9 392.9 L1218.2 394.0 L1218.5 395.4 L1218.8 393.0 L1219.1 396.8 L1219.4 396.0 L1219.7 396.8 L1220.0 395.5 L1220.3 395.1 L1220.6 395.2 L1220.9 393.8 L1221.2 395.4 L1221.5 393.8 L1221.8 395.6 L1222.1 394.5 L1222.4 396.1 L1222.7 396.4 L1223.0 395.6 L1223.3 395.2 L1223.7 399.3 L1224.0 397.0 L1224.3 396.6 L1224.6 398.3 L1224.9 397.4 L1225.2 394.9 L1225.5 396.1 L1225.8 396.1 L1226.1 394.0 L1226.4 396.6 L1226.7 396.1 L1227.0 396.5 L1227.3 394.1 L1227.6 393.3 L1227.9 390.1 L1228.2 390.5 L1228.5 393.5 L1228.8 391.0 L1229.1 393.2 L1229.4 394.5 L1229.7 393.7 L1230.0 393.9 L1230.3 394.5 L1230.6 395.1 L1230.9 394.1 L1231.2 392.8 L1231.5 392.7 L1231.8 392.5 L1232.1 390.8 L1232.4 391.7M1235.5 358.3 L1235.8 359.3M1238.2 381.5 L1238.5 381.8 L1238.8 381.9 L1239.1 383.2 L1239.4 382.6 L1239.7 380.8 L1240.0 379.8M1256.7 381.6 L1257.0 385.1 L1257.3 385.1 L1257.6 385.6 L1257.9 384.3 L1258.2 385.9 L1258.5 384.9 L1258.8 386.3 L1259.1 383.9 L1259.4 382.3M1268.2 387.6 L1268.5 388.1 L1268.8 390.4 L1269.1 389.2 L1269.4 390.8 L1269.7 391.2 L1270.0 391.5 L1270.3 391.1 L1270.6 392.1 L1270.9 392.6 L1271.2 395.0 L1271.5 395.2 L1271.8 396.5 L1272.1 396.6 L1272.4 396.7 L1272.7 396.6 L1273.0 394.8 L1273.3 394.3 L1273.6 393.5 L1273.9 393.4 L1274.3 392.8 L1274.6 393.3 L1274.9 392.2 L1275.2 391.5 L1275.5 389.5 L1275.8 388.5 L1276.1 388.2M1284.3 378.0 L1284.6 378.5 L1284.9 379.8 L1285.2 379.7 L1285.5 381.1 L1285.8 382.2 L1286.1 382.9M1288.5 393.8 L1288.8 393.5 L1289.1 393.4 L1289.4 394.9 L1289.7 393.6 L1290.0 397.2 L1290.3 398.0 L1290.6 396.1 L1290.9 396.4 L1291.2 398.9 L1291.5 399.0 L1291.8 400.0 L1292.1 397.8 L1292.4 399.2 L1292.7 401.2 L1293.0 400.8 L1293.3 400.5 L1293.6 401.6 L1293.9 400.3 L1294.2 400.9 L1294.6 401.5 L1294.9 402.3 L1295.2 401.4 L1295.5 400.7 L1295.8 401.6 L1296.1 401.4 L1296.4 402.2 L1296.7 401.1 L1297.0 400.0 L1297.3 400.2 L1297.6 400.6 L1297.9 397.2 L1298.2 397.6 L1298.5 398.0 L1298.8 396.9 L1299.1 397.0 L1299.4 397.3 L1299.7 395.6 L1300.0 396.0 L1300.3 394.0 L1300.6 393.7 L1300.9 391.9 L1301.2 392.2 L1301.5 391.1 L1301.8 391.1 L1302.1 390.5 L1302.4 390.2 L1302.7 388.2 L1303.0 388.5 L1303.3 389.4 L1303.6 389.3 L1303.9 390.6 L1304.2 391.9 L1304.6 392.3M1305.2 394.9 L1305.5 397.0 L1305.8 397.5 L1306.1 396.5 L1306.4 400.2 L1306.7 398.7 L1307.0 400.3 L1307.3 399.2 L1307.6 399.8 L1307.9 401.2 L1308.2 400.1 L1308.5 398.4 L1308.8 402.0 L1309.1 402.2 L1309.4 403.9 L1309.7 404.0 L1310.0 403.1 L1310.3 402.3 L1310.6 400.2 L1310.9 403.1 L1311.2 403.9 L1311.5 404.7 L1311.8 405.6 L1312.1 405.8 L1312.4 403.0 L1312.7 405.9 L1313.0 402.1 L1313.3 402.3 L1313.6 403.4 L1313.9 404.4 L1314.2 402.2 L1314.6 402.5 L1314.9 401.7 L1315.2 404.1 L1315.5 404.5 L1315.8 405.1 L1316.1 406.5 L1316.4 407.4 L1316.7 408.6 L1317.0 407.8 L1317.3 405.6 L1317.6 404.0 L1317.9 401.9 L1318.2 399.9 L1318.5 400.3 L1318.8 402.5 L1319.1 400.8 L1319.4 403.3 L1319.7 404.2 L1320.0 401.3 L1320.3 405.9 L1320.6 404.8 L1320.9 404.4 L1321.2 401.0 L1321.5 401.8 L1321.8 398.9 L1322.1 399.7 L1322.4 400.5 L1322.7 399.0 L1323.0 398.7 L1323.3 399.9 L1323.6 399.5 L1323.9 400.2 L1324.2 398.6 L1324.5 399.2 L1324.9 399.3 L1325.2 399.8 L1325.5 400.6 L1325.8 399.4 L1326.1 400.0 L1326.4 400.4 L1326.7 398.8 L1327.0 397.7 L1327.3 397.1 L1327.6 395.8 L1327.9 397.9 L1328.2 395.9 L1328.5 394.3 L1328.8 394.9 L1329.1 393.6 L1329.4 394.2 L1329.7 394.8 L1330.0 393.3 L1330.3 395.4 L1330.6 393.6 L1330.9 394.5 L1331.2 395.3 L1331.5 395.5 L1331.8 396.1 L1332.1 396.8 L1332.4 396.1 L1332.7 398.6 L1333.0 395.8 L1333.3 397.2 L1333.6 397.9 L1333.9 400.9 L1334.2 402.2 L1334.5 399.7 L1334.9 398.6 L1335.2 397.8 L1335.5 398.9 L1335.8 398.9 L1336.1 398.6 L1336.4 400.8 L1336.7 397.5 L1337.0 401.7 L1337.3 401.1 L1337.6 400.9 L1337.9 403.0 L1338.2 402.1 L1338.5 400.2 L1338.8 402.0 L1339.1 400.6 L1339.4 401.5 L1339.7 401.6 L1340.0 401.5 L1340.3 403.0 L1340.6 404.1 L1340.9 403.3 L1341.2 403.8 L1341.5 402.5 L1341.8 403.4 L1342.1 401.7 L1342.4 400.5 L1342.7 401.4 L1343.0 402.8 L1343.3 404.6 L1343.6 404.9 L1343.9 403.3 L1344.2 401.9 L1344.5 402.7 L1344.9 400.7 L1345.2 401.8 L1345.5 399.8 L1345.8 402.4 L1346.1 401.7 L1346.4 404.5 L1346.7 403.9 L1347.0 405.9 L1347.3 408.6 L1347.6 409.0 L1347.9 408.1 L1348.2 407.8 L1348.5 406.2 L1348.8 404.9 L1349.1 402.2 L1349.4 401.3 L1349.7 403.3 L1350.0 402.9 L1350.3 401.8 L1350.6 402.1 L1350.9 401.2 L1351.2 400.4 L1351.5 401.8 L1351.8 403.4 L1352.1 404.9 L1352.4 402.9 L1352.7 405.2 L1353.0 403.3 L1353.3 404.0 L1353.6 403.4 L1353.9 402.5 L1354.2 402.8 L1354.5 401.6 L1354.8 401.6 L1355.2 402.7 L1355.5 403.0 L1355.8 398.5 L1356.1 398.8M1358.8 379.5 L1359.1 380.4 L1359.4 380.0M1361.8 398.1 L1362.1 397.6 L1362.4 397.5 L1362.7 398.2 L1363.0 398.4 L1363.3 399.7 L1363.6 399.1 L1363.9 400.0 L1364.2 398.7 L1364.5 396.3M1373.0 396.8 L1373.3 396.7 L1373.6 397.6 L1373.9 398.4 L1374.2 398.1 L1374.5 398.0 L1374.8 399.3 L1375.2 397.6 L1375.5 399.8 L1375.8 401.5 L1376.1 402.2 L1376.4 400.7 L1376.7 402.5 L1377.0 401.1 L1377.3 401.7 L1377.6 401.6 L1377.9 400.4 L1378.2 400.3 L1378.5 400.8 L1378.8 401.6 L1379.1 401.1 L1379.4 401.7 L1379.7 401.5 L1380.0 401.9 L1380.3 400.8 L1380.6 401.6 L1380.9 402.7 L1381.2 402.0 L1381.5 402.5 L1381.8 400.0 L1382.1 402.1 L1382.4 401.3 L1382.7 403.8 L1383.0 403.6 L1383.3 402.0 L1383.6 402.5 L1383.9 402.4 L1384.2 403.6 L1384.5 401.6 L1384.8 402.7 L1385.1 402.2 L1385.5 403.5 L1385.8 405.5 L1386.1 402.8 L1386.4 401.8 L1386.7 404.4 L1387.0 404.7 L1387.3 403.6 L1387.6 403.3 L1387.9 405.3 L1388.2 400.9 L1388.5 401.6 L1388.8 402.5 L1389.1 403.3 L1389.4 400.5 L1389.7 398.9 L1390.0 400.5 L1390.3 400.3 L1390.6 403.0 L1390.9 402.2 L1391.2 404.7 L1391.5 401.1 L1391.8 403.3 L1392.1 406.7 L1392.4 406.2 L1392.7 403.4 L1393.0 403.0 L1393.3 403.2 L1393.6 401.8 L1393.9 399.8 L1394.2 401.3 L1394.5 403.6 L1394.8 402.2 L1395.1 404.1 L1395.5 404.2 L1395.8 403.2 L1396.1 403.9 L1396.4 405.0 L1396.7 402.9 L1397.0 402.9 L1397.3 401.2 L1397.6 401.3 L1397.9 400.0 L1398.2 399.8 L1398.5 398.5 L1398.8 398.4 L1399.1 397.1 L1399.4 395.7M1400.3 387.6 L1400.6 388.3 L1400.9 386.4 L1401.2 386.6 L1401.5 387.2 L1401.8 387.6 L1402.1 389.9 L1402.4 391.5 L1402.7 393.8M1403.6 394.9 L1403.9 399.5 L1404.2 400.6 L1404.5 400.6 L1404.8 399.9 L1405.1 403.3 L1405.5 403.6 L1405.8 402.4 L1406.1 402.7 L1406.4 404.3 L1406.7 404.8 L1407.0 404.1 L1407.3 402.0 L1407.6 402.8 L1407.9 401.4 L1408.2 402.5 L1408.5 402.9 L1408.8 402.6 L1409.1 403.9 L1409.4 403.7 L1409.7 405.3 L1410.0 405.6 L1410.3 404.3 L1410.6 404.8 L1410.9 405.1 L1411.2 402.8 L1411.5 402.2 L1411.8 402.5 L1412.1 403.6 L1412.4 401.9 L1412.7 400.3 L1413.0 403.8 L1413.3 404.1 L1413.6 402.8 L1413.9 402.2 L1414.2 403.0 L1414.5 402.7 L1414.8 400.6 L1415.1 400.5 L1415.4 400.1 L1415.8 401.6 L1416.1 403.6 L1416.4 402.0 L1416.7 404.0 L1417.0 404.1 L1417.3 404.7 L1417.6 402.5 L1417.9 403.6 L1418.2 405.7 L1418.5 406.3 L1418.8 405.7 L1419.1 405.4 L1419.4 404.3 L1419.7 404.5 L1420.0 403.9 L1420.3 405.3 L1420.6 404.0 L1420.9 406.3 L1421.2 402.6 L1421.5 403.3 L1421.8 403.5 L1422.1 402.3 L1422.4 400.2 L1422.7 400.9 L1423.0 403.2 L1423.3 402.0 L1423.6 404.9 L1423.9 403.6 L1424.2 404.3 L1424.5 403.0 L1424.8 402.4 L1425.1 402.7 L1425.4 400.9 L1425.8 399.3 L1426.1 398.4 L1426.4 397.7M1428.5 385.1 L1428.8 385.1 L1429.1 383.5 L1429.4 384.4 L1429.7 384.8 L1430.0 385.7M1432.1 398.4 L1432.4 398.2 L1432.7 400.1 L1433.0 402.1 L1433.3 399.5 L1433.6 400.9 L1433.9 400.9 L1434.2 402.1 L1434.5 402.9 L1434.8 402.5 L1435.1 404.4 L1435.4 402.1 L1435.8 402.2 L1436.1 403.4 L1436.4 404.5 L1436.7 403.1 L1437.0 403.6 L1437.3 401.6 L1437.6 401.6 L1437.9 402.1 L1438.2 401.4 L1438.5 400.3 L1438.8 400.0 L1439.1 402.9 L1439.4 402.0 L1439.7 402.9 L1440.0 403.6 L1440.3 400.6 L1440.6 401.6 L1440.9 401.8 L1441.2 402.1 L1441.5 402.7 L1441.8 403.2 L1442.1 398.7 L1442.4 399.4 L1442.7 400.1 L1443.0 399.3 L1443.3 400.3 L1443.6 403.5 L1443.9 403.5 L1444.2 405.0 L1444.5 404.7 L1444.8 406.2 L1445.1 403.4 L1445.4 406.2 L1445.7 404.8 L1446.1 404.6 L1446.4 404.9 L1446.7 402.9 L1447.0 403.2 L1447.3 402.9 L1447.6 401.7 L1447.9 401.5 L1448.2 398.7 L1448.5 399.0 L1448.8 398.4 L1449.1 399.9 L1449.4 397.6 L1449.7 398.3 L1450.0 397.3M1451.5 389.0 L1451.8 387.1 L1452.1 388.9 L1452.4 387.3 L1452.7 388.4 L1453.0 390.0 L1453.3 390.5 L1453.6 393.2M1454.8 397.5 L1455.1 401.5 L1455.4 403.1 L1455.7 404.7 L1456.1 403.6 L1456.4 403.8 L1456.7 403.5 L1457.0 405.2 L1457.3 404.1 L1457.6 405.2 L1457.9 402.7 L1458.2 404.3 L1458.5 405.4 L1458.8 400.7 L1459.1 401.7 L1459.4 402.0 L1459.7 402.4 L1460.0 404.5 L1460.3 402.3 L1460.6 405.0 L1460.9 401.9 L1461.2 403.6 L1461.5 406.0 L1461.8 403.3 L1462.1 402.3 L1462.4 404.6 L1462.7 402.6 L1463.0 403.0 L1463.3 403.4 L1463.6 404.9 L1463.9 400.5 L1464.2 402.8 L1464.5 402.2 L1464.8 403.9 L1465.1 403.5 L1465.4 400.5 L1465.7 401.2 L1466.1 400.2 L1466.4 400.1 L1466.7 398.0 L1467.0 396.9 L1467.3 397.4 L1467.6 397.0 L1467.9 397.5 L1468.2 395.1 L1468.5 396.4M1477.3 394.7 L1477.6 396.7 L1477.9 397.6 L1478.2 397.5 L1478.5 399.5 L1478.8 400.0 L1479.1 400.6 L1479.4 400.9 L1479.7 400.6 L1480.0 400.7 L1480.3 400.4 L1480.6 400.4 L1480.9 400.2 L1481.2 401.0 L1481.5 399.3 L1481.8 399.9 L1482.1 401.6 L1482.4 398.4 L1482.7 402.8 L1483.0 401.0 L1483.3 401.5 L1483.6 402.7 L1483.9 400.1 L1484.2 403.2 L1484.5 404.0 L1484.8 401.5 L1485.1 404.5 L1485.4 404.6 L1485.7 403.5 L1486.0 402.4 L1486.4 400.4 L1486.7 399.9 L1487.0 401.7 L1487.3 400.3 L1487.6 398.4 L1487.9 401.9 L1488.2 401.8 L1488.5 400.8 L1488.8 399.5 L1489.1 400.5 L1489.4 399.1 L1489.7 397.4M1497.3 395.3 L1497.6 394.4 L1497.9 394.9 L1498.2 394.4 L1498.5 396.5 L1498.8 395.9 L1499.1 392.9 L1499.4 392.9 L1499.7 391.9M1500.9 386.8 L1501.2 385.9 L1501.5 384.7 L1501.8 385.6 L1502.1 384.5 L1502.4 387.6M1503.9 393.4 L1504.2 394.3 L1504.5 396.2 L1504.8 399.0 L1505.1 397.5 L1505.4 396.3 L1505.7 397.3 L1506.0 397.8 L1506.3 396.8 L1506.7 395.7 L1507.0 396.2 L1507.3 395.7 L1507.6 396.5 L1507.9 397.3 L1508.2 399.8 L1508.5 395.8 L1508.8 397.4 L1509.1 396.3 L1509.4 396.5 L1509.7 395.4 L1510.0 394.4M1518.8 394.4 L1519.1 394.5 L1519.4 394.9 L1519.7 396.9 L1520.0 397.3 L1520.3 397.1 L1520.6 399.5 L1520.9 400.1 L1521.2 401.3 L1521.5 399.0 L1521.8 397.9 L1522.1 398.7 L1522.4 398.5 L1522.7 396.3 L1523.0 397.0 L1523.3 397.9 L1523.6 398.9 L1523.9 399.2 L1524.2 397.1 L1524.5 400.0 L1524.8 397.0 L1525.1 398.9 L1525.4 397.9 L1525.7 395.1 L1526.0 395.4M1533.9 394.9 L1534.2 396.3 L1534.5 395.8 L1534.8 397.4 L1535.1 397.1 L1535.4 397.7 L1535.7 398.5 L1536.0 398.9 L1536.3 398.0 L1536.6 396.8 L1537.0 394.8 L1537.3 395.2 L1537.6 395.2 L1537.9 395.3 L1538.2 393.4 L1538.5 393.8M1541.8 358.0 L1542.1 357.9 L1542.4 359.3M1545.7 396.7 L1546.0 399.5 L1546.3 398.2 L1546.6 399.0 L1547.0 398.8 L1547.3 399.9 L1547.6 399.9 L1547.9 400.6 L1548.2 400.0 L1548.5 400.3 L1548.8 398.5 L1549.1 400.3 L1549.4 402.3 L1549.7 400.3 L1550.0 398.4 L1550.3 398.5 L1550.6 397.5 L1550.9 398.0 L1551.2 396.2M1554.8 361.9 L1555.1 362.1M1558.8 396.6 L1559.1 398.6 L1559.4 398.7 L1559.7 400.7 L1560.0 401.5 L1560.3 400.9 L1560.6 400.8 L1560.9 399.3 L1561.2 401.9 L1561.5 399.8 L1561.8 398.2 L1562.1 398.6 L1562.4 400.4 L1562.7 400.7 L1563.0 401.1 L1563.3 401.1 L1563.6 402.1 L1563.9 402.3 L1564.2 401.9 L1564.5 402.8 L1564.8 401.9 L1565.1 401.4 L1565.4 400.6 L1565.7 399.0 L1566.0 397.8 L1566.3 394.9M1574.5 397.1 L1574.8 397.2 L1575.1 398.7 L1575.4 398.5 L1575.7 401.5 L1576.0 400.8 L1576.3 401.9 L1576.6 401.8 L1576.9 402.1 L1577.3 400.1 L1577.6 401.3 L1577.9 400.7 L1578.2 400.4 L1578.5 400.7 L1578.8 401.1 L1579.1 402.8 L1579.4 402.9 L1579.7 402.5 L1580.0 401.2 L1580.3 400.3 L1580.6 400.6 L1580.9 399.6 L1581.2 402.2 L1581.5 400.9 L1581.8 401.6 L1582.1 403.8 L1582.4 402.8 L1582.7 407.1 L1583.0 402.4 L1583.3 402.9 L1583.6 401.6 L1583.9 403.4 L1584.2 398.5 L1584.5 402.2 L1584.8 402.2 L1585.1 401.3 L1585.4 403.7 L1585.7 404.9 L1586.0 402.7 L1586.3 404.4 L1586.6 401.2 L1586.9 400.3 L1587.3 398.6 L1587.6 400.5 L1587.9 397.8 L1588.2 398.3 L1588.5 396.7 L1588.8 399.0 L1589.1 397.5 L1589.4 399.2 L1589.7 399.5 L1590.0 401.5 L1590.3 400.3 L1590.6 400.1 L1590.9 401.2 L1591.2 401.4 L1591.5 400.9 L1591.8 398.0 L1592.1 399.4 L1592.4 398.8 L1592.7 400.4 L1593.0 401.6 L1593.3 402.2 L1593.6 402.9 L1593.9 401.0 L1594.2 402.2 L1594.5 401.8 L1594.8 403.4 L1595.1 401.4 L1595.4 402.4 L1595.7 401.9 L1596.0 400.0 L1596.3 403.2 L1596.6 402.7 L1596.9 402.2 L1597.2 402.3 L1597.6 404.3 L1597.9 403.5 L1598.2 403.7 L1598.5 405.6 L1598.8 406.6 L1599.1 405.9 L1599.4 402.1 L1599.7 401.5 L1600.0 402.0 L1600.3 400.2 L1600.6 399.7 L1600.9 399.7 L1601.2 399.8 L1601.5 398.4 L1601.8 403.1 L1602.1 403.0 L1602.4 405.2 L1602.7 405.8 L1603.0 406.1 L1603.3 405.6 L1603.6 405.8 L1603.9 404.6 L1604.2 405.2 L1604.5 406.8 L1604.8 403.7 L1605.1 407.1 L1605.4 405.3 L1605.7 403.2 L1606.0 405.9 L1606.3 402.9 L1606.6 401.8 L1606.9 401.9 L1607.2 403.1 L1607.6 399.3 L1607.9 399.5 L1608.2 399.2M1610.3 387.1 L1610.6 386.5 L1610.9 386.1 L1611.2 386.1 L1611.5 387.4 L1611.8 388.6M1613.9 400.2 L1614.2 401.6 L1614.5 403.4 L1614.8 402.5 L1615.1 404.3 L1615.4 401.3 L1615.7 402.0 L1616.0 402.6 L1616.3 404.5 L1616.6 404.8 L1616.9 406.0 L1617.2 404.9 L1617.6 406.8 L1617.9 403.6 L1618.2 403.7 L1618.5 402.2 L1618.8 405.0 L1619.1 405.0 L1619.4 404.6 L1619.7 404.6 L1620.0 405.0 L1620.3 406.5 L1620.6 406.7 L1620.9 405.9 L1621.2 405.3 L1621.5 406.2 L1621.8 405.9 L1622.1 404.3 L1622.4 402.7 L1622.7 403.2 L1623.0 402.3 L1623.3 402.0 L1623.6 402.6 L1623.9 403.6 L1624.2 402.9 L1624.5 403.9 L1624.8 401.9 L1625.1 400.3 L1625.4 401.6 L1625.7 399.3 L1626.0 400.2 L1626.3 402.6 L1626.6 401.0 L1626.9 402.6 L1627.2 401.4 L1627.5 399.7 L1627.9 398.4 L1628.2 397.9 L1628.5 398.0 L1628.8 394.8 L1629.1 394.9 L1629.4 393.9 L1629.7 392.7 L1630.0 392.6 L1630.3 392.7 L1630.6 393.0 L1630.9 394.5 L1631.2 393.3 L1631.5 396.0 L1631.8 397.1 L1632.1 397.0 L1632.4 398.2 L1632.7 396.3 L1633.0 398.6 L1633.3 398.6 L1633.6 398.7 L1633.9 399.3 L1634.2 398.7 L1634.5 399.9 L1634.8 399.0 L1635.1 399.8 L1635.4 399.7 L1635.7 401.4 L1636.0 400.0 L1636.3 402.1 L1636.6 404.2 L1636.9 407.1 L1637.2 404.7 L1637.5 404.6 L1637.9 405.2 L1638.2 406.4 L1638.5 404.2 L1638.8 402.7 L1639.1 405.8 L1639.4 403.1 L1639.7 406.0 L1640.0 404.2 L1640.3 402.2 L1640.6 403.8 L1640.9 403.2 L1641.2 404.4 L1641.5 404.3 L1641.8 401.6 L1642.1 401.8 L1642.4 402.8 L1642.7 402.1 L1643.0 400.7 L1643.3 397.8 L1643.6 398.6 L1643.9 397.2 L1644.2 398.1 L1644.5 397.9 L1644.8 394.8 L1645.1 396.0 L1645.4 397.1 L1645.7 397.6 L1646.0 398.2 L1646.3 398.9 L1646.6 400.8 L1646.9 398.7 L1647.2 400.7 L1647.5 401.1 L1647.9 403.5 L1648.2 403.4 L1648.5 404.6 L1648.8 404.1 L1649.1 405.2 L1649.4 406.2 L1649.7 407.3 L1650.0 408.1 L1650.3 408.0 L1650.6 408.3 L1650.9 408.4 L1651.2 408.7 L1651.5 404.9 L1651.8 405.7 L1652.1 408.0 L1652.4 406.4 L1652.7 406.6 L1653.0 404.3 L1653.3 402.9 L1653.6 405.1 L1653.9 403.3 L1654.2 404.8 L1654.5 403.0 L1654.8 402.4 L1655.1 403.6 L1655.4 403.2 L1655.7 404.3 L1656.0 404.9 L1656.3 406.2 L1656.6 404.7 L1656.9 406.1 L1657.2 407.5 L1657.5 408.3 L1657.8 408.9 L1658.2 409.3 L1658.5 407.3 L1658.8 403.7 L1659.1 403.8 L1659.4 401.1 L1659.7 403.8 L1660.0 404.1 L1660.3 403.1 L1660.6 403.1 L1660.9 404.8 L1661.2 403.1 L1661.5 402.4 L1661.8 401.5 L1662.1 402.8 L1662.4 403.3 L1662.7 406.1 L1663.0 404.5 L1663.3 404.5 L1663.6 403.3 L1663.9 406.6 L1664.2 405.9 L1664.5 406.0 L1664.8 403.7 L1665.1 407.1 L1665.4 405.6 L1665.7 402.1 L1666.0 403.8 L1666.3 406.4 L1666.6 404.5 L1666.9 402.9 L1667.2 403.0 L1667.5 403.8 L1667.8 404.4 L1668.2 402.7 L1668.5 403.5 L1668.8 402.6 L1669.1 402.8 L1669.4 403.1 L1669.7 401.0 L1670.0 402.5 L1670.3 401.5 L1670.6 402.2 L1670.9 400.7 L1671.2 399.8 L1671.5 398.9 L1671.8 396.7M1673.3 390.8 L1673.6 390.3 L1673.9 388.7 L1674.2 390.6 L1674.5 389.2 L1674.8 391.3 L1675.1 391.1 L1675.4 393.5 L1675.7 393.6 L1676.0 396.2 L1676.3 398.8 L1676.6 399.3 L1676.9 399.3 L1677.2 399.5 L1677.5 401.9 L1677.8 401.3 L1678.2 401.5 L1678.5 401.0 L1678.8 399.5 L1679.1 398.6 L1679.4 397.0 L1679.7 393.5 L1680.0 393.1 L1680.3 392.2 L1680.6 393.8 L1680.9 394.1 L1681.2 396.2 L1681.5 396.0 L1681.8 397.0 L1682.1 397.3 L1682.4 399.2 L1682.7 399.0 L1683.0 400.0 L1683.3 400.1 L1683.6 399.8 L1683.9 398.2 L1684.2 401.9 L1684.5 401.6 L1684.8 402.4 L1685.1 401.7 L1685.4 403.2 L1685.7 403.0 L1686.0 404.2 L1686.3 401.9 L1686.6 402.4 L1686.9 405.6 L1687.2 403.1 L1687.5 403.7 L1687.8 406.6 L1688.1 405.7 L1688.5 405.3 L1688.8 405.6 L1689.1 404.8 L1689.4 406.4 L1689.7 403.0 L1690.0 402.3 L1690.3 402.3 L1690.6 402.5 L1690.9 401.7 L1691.2 402.8 L1691.5 401.7 L1691.8 403.6 L1692.1 402.7 L1692.4 405.3 L1692.7 402.5 L1693.0 403.8 L1693.3 402.4 L1693.6 402.8 L1693.9 401.6 L1694.2 402.4 L1694.5 401.1 L1694.8 400.1 L1695.1 401.1 L1695.4 399.3 L1695.7 397.5 L1696.0 397.5 L1696.3 396.9 L1696.6 395.0 L1696.9 393.5M1699.1 387.0 L1699.4 386.6 L1699.7 385.8 L1700.0 385.4 L1700.3 387.6 L1700.6 390.0M1702.7 400.4 L1703.0 397.6 L1703.3 400.8 L1703.6 399.9 L1703.9 401.0 L1704.2 400.5 L1704.5 399.3 L1704.8 399.7 L1705.1 399.2 L1705.4 400.6 L1705.7 404.7 L1706.0 403.1 L1706.3 405.8 L1706.6 404.6 L1706.9 404.2 L1707.2 404.4 L1707.5 403.2 L1707.8 404.8 L1708.1 402.5 L1708.5 404.1 L1708.8 403.7 L1709.1 404.2 L1709.4 403.6 L1709.7 404.6 L1710.0 401.8 L1710.3 404.6 L1710.6 402.8 L1710.9 403.3 L1711.2 403.5 L1711.5 402.9 L1711.8 404.0 L1712.1 402.1 L1712.4 402.1 L1712.7 403.0 L1713.0 402.2 L1713.3 404.0 L1713.6 404.2 L1713.9 402.5 L1714.2 401.3 L1714.5 398.3 L1714.8 401.3 L1715.1 399.7 L1715.4 399.6 L1715.7 397.4 L1716.0 398.4 L1716.3 397.1 L1716.6 396.4 L1716.9 395.5M1719.7 381.6 L1720.0 381.1 L1720.3 381.5 L1720.6 384.0M1723.3 398.4 L1723.6 398.8 L1723.9 400.4 L1724.2 399.2 L1724.5 400.7 L1724.8 402.2 L1725.1 402.0 L1725.4 401.6 L1725.7 402.0 L1726.0 401.3 L1726.3 401.3 L1726.6 399.6 L1726.9 400.4 L1727.2 400.3 L1727.5 403.2 L1727.8 404.1 L1728.1 404.1 L1728.4 404.5 L1728.8 403.6 L1729.1 403.2 L1729.4 403.5 L1729.7 401.0 L1730.0 401.5 L1730.3 403.9 L1730.6 403.3 L1730.9 402.4 L1731.2 401.4 L1731.5 401.1 L1731.8 401.0 L1732.1 397.4M1735.7 368.8 L1736.0 368.5 L1736.3 369.0 L1736.6 371.2M1740.3 399.4 L1740.6 397.3 L1740.9 399.5 L1741.2 399.6 L1741.5 403.0 L1741.8 400.1 L1742.1 402.0 L1742.4 401.5 L1742.7 403.6 L1743.0 400.5 L1743.3 400.4 L1743.6 399.7 L1743.9 405.0 L1744.2 401.3 L1744.5 401.9 L1744.8 405.7 L1745.1 403.5 L1745.4 402.6 L1745.7 401.1 L1746.0 402.5 L1746.3 401.3 L1746.6 400.7 L1746.9 399.4 L1747.2 398.5M1750.0 382.5 L1750.3 381.7 L1750.6 382.2 L1750.9 383.7M1753.6 397.7 L1753.9 399.5 L1754.2 400.5 L1754.5 403.0 L1754.8 404.0 L1755.1 403.7 L1755.4 405.2 L1755.7 405.1 L1756.0 403.4 L1756.3 403.7 L1756.6 401.8 L1756.9 403.5 L1757.2 402.2 L1757.5 403.0 L1757.8 401.2 L1758.1 404.4 L1758.4 404.3 L1758.7 403.5 L1759.1 406.4 L1759.4 407.1 L1759.7 406.5 L1760.0 406.7 L1760.3 408.8 L1760.6 407.5 L1760.9 407.9 L1761.2 407.6 L1761.5 407.2 L1761.8 407.2 L1762.1 405.4 L1762.4 405.8 L1762.7 405.9 L1763.0 406.0 L1763.3 405.3 L1763.6 406.0 L1763.9 404.8 L1764.2 406.0 L1764.5 405.2 L1764.8 403.0 L1765.1 405.7 L1765.4 404.3 L1765.7 405.3 L1766.0 406.6 L1766.3 407.4 L1766.6 404.4 L1766.9 405.4 L1767.2 405.2 L1767.5 406.0 L1767.8 402.5 L1768.1 403.0 L1768.4 403.1 L1768.7 402.5 L1769.1 402.2 L1769.4 402.3 L1769.7 401.3 L1770.0 401.8 L1770.3 403.1 L1770.6 399.9 L1770.9 398.8 L1771.2 398.1 L1771.5 396.0 L1771.8 397.6 L1772.1 398.7 L1772.4 395.5 L1772.7 396.9 L1773.0 399.5 L1773.3 398.9 L1773.6 398.5 L1773.9 400.4 L1774.2 399.5 L1774.5 398.6 L1774.8 400.5 L1775.1 402.3 L1775.4 403.1 L1775.7 405.2 L1776.0 404.6 L1776.3 405.0 L1776.6 405.3 L1776.9 404.9 L1777.2 401.5 L1777.5 403.3 L1777.8 405.4 L1778.1 405.5 L1778.4 404.2 L1778.7 404.2 L1779.0 406.7 L1779.4 405.4 L1779.7 404.0 L1780.0 405.2 L1780.3 406.4 L1780.6 406.2 L1780.9 405.5 L1781.2 406.7 L1781.5 407.7 L1781.8 406.3 L1782.1 404.8 L1782.4 404.4 L1782.7 405.6 L1783.0 403.2 L1783.3 407.0 L1783.6 407.5 L1783.9 409.1 L1784.2 407.0 L1784.5 408.4 L1784.8 409.7 L1785.1 408.7 L1785.4 405.8 L1785.7 406.8 L1786.0 406.9 L1786.3 405.0 L1786.6 406.9 L1786.9 405.3 L1787.2 405.0 L1787.5 404.2 L1787.8 404.2 L1788.1 403.6 L1788.4 403.8 L1788.7 403.9 L1789.0 402.2 L1789.4 405.6 L1789.7 404.9 L1790.0 404.3 L1790.3 405.6 L1790.6 404.7 L1790.9 404.3 L1791.2 405.2 L1791.5 403.4 L1791.8 402.6 L1792.1 405.9 L1792.4 407.6 L1792.7 405.2 L1793.0 406.7 L1793.3 405.6 L1793.6 406.9 L1793.9 407.3 L1794.2 407.5 L1794.5 408.7 L1794.8 410.4 L1795.1 411.6 L1795.4 412.7 L1795.7 412.7 L1796.0 411.5 L1796.3 410.8 L1796.6 411.6 L1796.9 411.7 L1797.2 412.6 L1797.5 412.4 L1797.8 412.6 L1798.1 409.3 L1798.4 411.8 L1798.7 408.0 L1799.0 409.4 L1799.4 408.1 L1799.7 408.6 L1800.0 408.6 L1800.3 408.3 L1800.6 410.7 L1800.9 411.3 L1801.2 411.2 L1801.5 411.1 L1801.8 409.2 L1802.1 409.9 L1802.4 409.4 L1802.7 408.9 L1803.0 409.8 L1803.3 408.0 L1803.6 411.6 L1803.9 409.2 L1804.2 409.2 L1804.5 410.2 L1804.8 410.3 L1805.1 408.9 L1805.4 410.0 L1805.7 411.5 L1806.0 410.6 L1806.3 407.2 L1806.6 408.9 L1806.9 406.1 L1807.2 406.5 L1807.5 409.2 L1807.8 408.7 L1808.1 410.1 L1808.4 408.8 L1808.7 408.0 L1809.0 406.4 L1809.3 408.1 L1809.7 407.0 L1810.0 407.2 L1810.3 407.0 L1810.6 409.6 L1810.9 409.0 L1811.2 407.9 L1811.5 407.1 L1811.8 406.4 L1812.1 406.0 L1812.4 404.3 L1812.7 406.3 L1813.0 407.4 L1813.3 409.6 L1813.6 408.3 L1813.9 407.9 L1814.2 407.3 L1814.5 408.1 L1814.8 407.3 L1815.1 406.7 L1815.4 409.1 L1815.7 409.9 L1816.0 406.1 L1816.3 406.1 L1816.6 407.3 L1816.9 407.4 L1817.2 403.7 L1817.5 407.2 L1817.8 407.5 L1818.1 406.3 L1818.4 405.4 L1818.7 406.3 L1819.0 406.0 L1819.3 405.0 L1819.7 405.3 L1820.0 404.2 L1820.3 404.3 L1820.6 404.6 L1820.9 402.7 L1821.2 403.6 L1821.5 401.5 L1821.8 403.4 L1822.1 403.0 L1822.4 405.0 L1822.7 404.2 L1823.0 405.1 L1823.3 402.9 L1823.6 404.6 L1823.9 404.4 L1824.2 408.0 L1824.5 408.7 L1824.8 408.3 L1825.1 410.1 L1825.4 407.7 L1825.7 408.3 L1826.0 406.7 L1826.3 406.1 L1826.6 406.8 L1826.9 406.2 L1827.2 408.4 L1827.5 408.0 L1827.8 407.4 L1828.1 408.5 L1828.4 408.6 L1828.7 409.0 L1829.0 408.9 L1829.3 408.4 L1829.7 409.5 L1830.0 411.1 L1830.3 409.0 L1830.6 409.3 L1830.9 407.9 L1831.2 408.0 L1831.5 405.9 L1831.8 409.3 L1832.1 409.1 L1832.4 407.2 L1832.7 409.7 L1833.0 407.6 L1833.3 407.8 L1833.6 410.2 L1833.9 407.9 L1834.2 408.0 L1834.5 410.1 L1834.8 412.4 L1835.1 410.0 L1835.4 412.0 L1835.7 410.1 L1836.0 409.1 L1836.3 410.0 L1836.6 411.2 L1836.9 409.3 L1837.2 408.6 L1837.5 409.9 L1837.8 409.7 L1838.1 408.1 L1838.4 409.3 L1838.7 409.4 L1839.0 409.0 L1839.3 408.4 L1839.6 408.6 L1840.0 408.3 L1840.3 408.9 L1840.6 407.2 L1840.9 407.7 L1841.2 407.5 L1841.5 406.6 L1841.8 406.9 L1842.1 407.2 L1842.4 408.0 L1842.7 408.6 L1843.0 408.0 L1843.3 409.4 L1843.6 409.6 L1843.9 409.2 L1844.2 407.2 L1844.5 406.3 L1844.8 403.5 L1845.1 404.5 L1845.4 405.0 L1845.7 403.6 L1846.0 404.7 L1846.3 402.8 L1846.6 402.4 L1846.9 399.6 L1847.2 403.0 L1847.5 401.2 L1847.8 400.7 L1848.1 399.4 L1848.4 398.9 L1848.7 400.1 L1849.0 400.0 L1849.3 398.5 L1849.6 397.1 L1850.0 398.3 L1850.3 398.3 L1850.6 396.5 L1850.9 397.6 L1851.2 398.3 L1851.5 400.9 L1851.8 401.0 L1852.1 401.3 L1852.4 401.4 L1852.7 402.9 L1853.0 404.2 L1853.3 404.2 L1853.6 406.0 L1853.9 407.0 L1854.2 407.0 L1854.5 406.4 L1854.8 405.6 L1855.1 405.5 L1855.4 405.4 L1855.7 403.4 L1856.0 404.9 L1856.3 405.8 L1856.6 404.1 L1856.9 404.7 L1857.2 403.2 L1857.5 401.7 L1857.8 400.9 L1858.1 400.0 L1858.4 398.7 L1858.7 399.8 L1859.0 398.7 L1859.3 397.8 L1859.6 398.0 L1860.0 398.0 L1860.3 396.6 L1860.6 398.3 L1860.9 399.3 L1861.2 399.5 L1861.5 400.3 L1861.8 400.8 L1862.1 402.1 L1862.4 401.3 L1862.7 404.6 L1863.0 404.1 L1863.3 404.9 L1863.6 407.3 L1863.9 405.5 L1864.2 405.4 L1864.5 406.0 L1864.8 402.5 L1865.1 403.5 L1865.4 404.3 L1865.7 404.5 L1866.0 404.9 L1866.3 403.9 L1866.6 404.2 L1866.9 405.9 L1867.2 405.3 L1867.5 404.7 L1867.8 404.5 L1868.1 405.4 L1868.4 406.4 L1868.7 404.6 L1869.0 403.8 L1869.3 404.0 L1869.6 405.8 L1869.9 402.9 L1870.3 401.7 L1870.6 403.2 L1870.9 403.5 L1871.2 404.8 L1871.5 407.1 L1871.8 408.8 L1872.1 405.6 L1872.4 407.3 L1872.7 406.1 L1873.0 407.1 L1873.3 406.4 L1873.6 403.7 L1873.9 405.2 L1874.2 403.1 L1874.5 404.8 L1874.8 404.4 L1875.1 404.4 L1875.4 404.7 L1875.7 405.4 L1876.0 406.8 L1876.3 403.8 L1876.6 402.9 L1876.9 403.0 L1877.2 402.4 L1877.5 405.0 L1877.8 408.3 L1878.1 408.7 L1878.4 408.1 L1878.7 406.6 L1879.0 407.3 L1879.3 404.3 L1879.6 404.6 L1879.9 406.2 L1880.3 404.6 L1880.6 406.1 L1880.9 405.9 L1881.2 405.7 L1881.5 404.2 L1881.8 404.8 L1882.1 402.5 L1882.4 404.1 L1882.7 401.5 L1883.0 401.2 L1883.3 398.8 L1883.6 399.7 L1883.9 400.0 L1884.2 399.3 L1884.5 397.8 L1884.8 397.7 L1885.1 395.3 L1885.4 398.0 L1885.7 395.3 L1886.0 396.2 L1886.3 393.1 L1886.6 393.6 L1886.9 391.8 L1887.2 393.7 L1887.5 393.0 L1887.8 394.2 L1888.1 394.3 L1888.4 396.4 L1888.7 400.3 L1889.0 400.2 L1889.3 401.9 L1889.6 400.4 L1889.9 401.4 L1890.3 402.0 L1890.6 402.4 L1890.9 403.4 L1891.2 405.3 L1891.5 404.1 L1891.8 407.1 L1892.1 408.0 L1892.4 410.2 L1892.7 409.6 L1893.0 408.7 L1893.3 408.7 L1893.6 408.9 L1893.9 408.8 L1894.2 409.8 L1894.5 408.3 L1894.8 410.0 L1895.1 408.7 L1895.4 408.6 L1895.7 406.4 L1896.0 406.4 L1896.3 406.5 L1896.6 408.6 L1896.9 407.8 L1897.2 406.5 L1897.5 405.9 L1897.8 408.4 L1898.1 407.1 L1898.4 406.5 L1898.7 406.3 L1899.0 406.4 L1899.3 405.5 L1899.6 408.3 L1899.9 405.3 L1900.2 408.4 L1900.6 406.9 L1900.9 406.1 L1901.2 405.3 L1901.5 406.0 L1901.8 406.2 L1902.1 406.0 L1902.4 407.5 L1902.7 406.0 L1903.0 404.6 L1903.3 406.1 L1903.6 406.1 L1903.9 405.7 L1904.2 402.9 L1904.5 402.5 L1904.8 403.2 L1905.1 402.0 L1905.4 400.9 L1905.7 399.0 L1906.0 400.7 L1906.3 399.1 L1906.6 398.9 L1906.9 397.9 L1907.2 398.0 L1907.5 397.6 L1907.8 396.0 L1908.1 397.4 L1908.4 392.3 L1908.7 394.0 L1909.0 394.5 L1909.3 396.7 L1909.6 396.8 L1909.9 396.2 L1910.2 397.1 L1910.6 399.0 L1910.9 400.4 L1911.2 399.9 L1911.5 400.9 L1911.8 400.1 L1912.1 402.3 L1912.4 402.3 L1912.7 402.9 L1913.0 404.5 L1913.3 403.5 L1913.6 405.2 L1913.9 404.6 L1914.2 402.3 L1914.5 400.2 L1914.8 400.5 L1915.1 400.6 L1915.4 399.5 L1915.7 399.9 L1916.0 400.1 L1916.3 398.8 L1916.6 398.6 L1916.9 397.1 L1917.2 396.7 L1917.5 397.0 L1917.8 396.3 L1918.1 396.7 L1918.4 396.4 L1918.7 397.2 L1919.0 398.9 L1919.3 398.8 L1919.6 398.9 L1919.9 398.4 L1920.2 399.9 L1920.6 399.4 L1920.9 402.2 L1921.2 402.8 L1921.5 404.5 L1921.8 405.6 L1922.1 405.0 L1922.4 404.9 L1922.7 405.0 L1923.0 405.7 L1923.3 406.3 L1923.6 407.1 L1923.9 407.9 L1924.2 408.3 L1924.5 408.0 L1924.8 411.3 L1925.1 406.0 L1925.4 403.8 L1925.7 402.5 L1926.0 403.5 L1926.3 403.9 L1926.6 406.0 L1926.9 406.6 L1927.2 406.7 L1927.5 408.6 L1927.8 408.7 L1928.1 407.8 L1928.4 408.5 L1928.7 405.9 L1929.0 406.7 L1929.3 404.5 L1929.6 404.6 L1929.9 405.7 L1930.2 405.5 L1930.5 404.8 L1930.9 406.0 L1931.2 403.8 L1931.5 402.7 L1931.8 400.9 L1932.1 402.2 L1932.4 401.0M1934.8 386.7 L1935.1 385.7 L1935.4 385.0 L1935.7 387.3M1938.1 401.9 L1938.4 401.8 L1938.7 403.2 L1939.0 401.0 L1939.3 404.8 L1939.6 405.5 L1939.9 403.7 L1940.2 402.3 L1940.5 404.3 L1940.9 403.6 L1941.2 404.5 L1941.5 403.3 L1941.8 403.9 L1942.1 404.1 L1942.4 404.9 L1942.7 404.7 L1943.0 402.9 L1943.3 405.9 L1943.6 405.3 L1943.9 403.3 L1944.2 405.7 L1944.5 405.5 L1944.8 402.8 L1945.1 403.8 L1945.4 401.3 L1945.7 400.2 L1946.0 403.2 L1946.3 403.5 L1946.6 401.6 L1946.9 403.4 L1947.2 401.6 L1947.5 399.2M1949.6 388.4 L1949.9 388.4 L1950.2 386.7 L1950.5 387.6 L1950.9 387.3 L1951.2 389.6M1953.6 405.9 L1953.9 404.4 L1954.2 404.1 L1954.5 405.3 L1954.8 405.8 L1955.1 407.6 L1955.4 406.9 L1955.7 408.1 L1956.0 407.3 L1956.3 407.1 L1956.6 410.4 L1956.9 405.6 L1957.2 405.7 L1957.5 404.9 L1957.8 406.9 L1958.1 405.3 L1958.4 405.4 L1958.7 408.4 L1959.0 407.8 L1959.3 406.2 L1959.6 407.6 L1959.9 407.5 L1960.2 408.8 L1960.5 407.8 L1960.8 412.2 L1961.2 411.5 L1961.5 410.8 L1961.8 410.6 L1962.1 409.2 L1962.4 407.6 L1962.7 409.0 L1963.0 407.4 L1963.3 406.4 L1963.6 406.8 L1963.9 405.6 L1964.2 405.9 L1964.5 407.5 L1964.8 405.6 L1965.1 407.1 L1965.4 406.1 L1965.7 408.8 L1966.0 410.8 L1966.3 409.6 L1966.6 407.7 L1966.9 407.3 L1967.2 407.8 L1967.5 406.5 L1967.8 409.3 L1968.1 408.8 L1968.4 406.9 L1968.7 408.2 L1969.0 408.1 L1969.3 407.4 L1969.6 408.2 L1969.9 410.3 L1970.2 409.1 L1970.5 410.9 L1970.8 408.8 L1971.2 407.4 L1971.5 408.6 L1971.8 404.3 L1972.1 403.5 L1972.4 405.1 L1972.7 404.8 L1973.0 404.7 L1973.3 406.4 L1973.6 405.2 L1973.9 406.3 L1974.2 409.1 L1974.5 409.4 L1974.8 409.8 L1975.1 408.5 L1975.4 409.3 L1975.7 408.1" fill="none" stroke="#de2a38" stroke-width="1.7" stroke-linejoin="round"/>
</g>
<path d="M1067.1 414.0 L1067.1 12.0 L1976.5 12.0 L1976.5 414.0" fill="none" stroke="#858585" stroke-width="2.3" stroke-linejoin="round"/>
<path d="M1061.1 414.0 L1977.5 414.0" fill="none" stroke="#5c5c5c" stroke-width="2.1"/>
<path d="M1104.9 414.0 V417.0 M1142.8 414.0 V419.5 M1180.6 414.0 V417.0 M1218.5 414.0 V419.5 M1256.4 414.0 V417.0 M1294.2 414.0 V419.5 M1332.1 414.0 V417.0 M1370.0 414.0 V419.5 M1407.9 414.0 V417.0 M1445.8 414.0 V419.5 M1483.6 414.0 V417.0 M1521.5 414.0 V419.5 M1559.4 414.0 V417.0 M1597.2 414.0 V419.5 M1635.1 414.0 V417.0 M1673.0 414.0 V419.5 M1710.9 414.0 V417.0 M1748.8 414.0 V419.5 M1786.6 414.0 V417.0 M1824.5 414.0 V419.5 M1862.4 414.0 V417.0 M1900.2 414.0 V419.5 M1938.1 414.0 V417.0 M1067.1 372.7 H1064.1 M1067.1 331.4 H1061.1 M1067.1 290.1 H1064.1 M1067.1 248.8 H1061.1 M1067.1 207.6 H1064.1 M1067.1 166.3 H1061.1 M1067.1 125.0 H1064.1 M1067.1 83.7 H1061.1 M1067.1 42.4 H1064.1 M1067.1 414.0 H1061.1" stroke="#7c7c7c" stroke-width="1.8" fill="none"/>
<text transform="translate(1059.8 429.0) scale(1 1.07)" text-anchor="end" font-size="31" font-weight="bold">0</text>
<text transform="translate(1059.8 343.8) scale(1 1.07)" text-anchor="end" font-size="31" font-weight="bold">200</text>
<text transform="translate(1059.8 261.2) scale(1 1.07)" text-anchor="end" font-size="31" font-weight="bold">400</text>
<text transform="translate(1059.8 178.7) scale(1 1.07)" text-anchor="end" font-size="31" font-weight="bold">600</text>
<text transform="translate(1059.8 96.1) scale(1 1.07)" text-anchor="end" font-size="31" font-weight="bold">800</text>
<text transform="translate(1142.8 443.9) scale(1 1.05)" text-anchor="middle" font-size="31" font-weight="bold">25</text>
<text transform="translate(1220.7 443.9) scale(1 1.05)" text-anchor="middle" font-size="31" font-weight="bold">30</text>
<text transform="translate(1293.5 443.9) scale(1 1.05)" text-anchor="middle" font-size="31" font-weight="bold">35</text>
<text transform="translate(1369.7 443.9) scale(1 1.05)" text-anchor="middle" font-size="31" font-weight="bold">40</text>
<text transform="translate(1444.8 443.9) scale(1 1.05)" text-anchor="middle" font-size="31" font-weight="bold">45</text>
<text transform="translate(1523.0 443.9) scale(1 1.05)" text-anchor="middle" font-size="31" font-weight="bold">50</text>
<text transform="translate(1598.5 443.9) scale(1 1.05)" text-anchor="middle" font-size="31" font-weight="bold">55</text>
<text transform="translate(1674.5 443.9) scale(1 1.05)" text-anchor="middle" font-size="31" font-weight="bold">60</text>
<text transform="translate(1750.0 443.9) scale(1 1.05)" text-anchor="middle" font-size="31" font-weight="bold">65</text>
<text transform="translate(1827.0 443.9) scale(1 1.05)" text-anchor="middle" font-size="31" font-weight="bold">70</text>
<text transform="translate(1902.2 443.9) scale(1 1.05)" text-anchor="middle" font-size="31" font-weight="bold">75</text>
<text transform="translate(1979.0 443.9) scale(1 1.05)" text-anchor="middle" font-size="31" font-weight="bold">80</text>
<text x="1491.7" y="496.6" font-size="42.65" font-weight="bold">2Theta</text>
<text transform="translate(987.3 259.9) rotate(-90)" font-size="42.95" font-weight="bold">Counts</text>
<text x="1114.5" y="86.5" font-size="44">(b)</text>
<rect x="1839.3" y="60.8" width="14.7" height="17.8" rx="1.5" fill="#1e2c30"/>
<path d="M1846.9 94.4 L1857.5 111.8 L1836.3 111.8 Z" fill="#e50d16"/>
<text x="1869.3" y="78.6" font-size="25" font-weight="bold">TCP</text>
<text x="1869.6" y="111.5" font-size="25" font-weight="bold">Hap</text>
<rect x="1183.5" y="353.5" width="14.0" height="16.5" rx="1.5" fill="#1e2c30"/>
<rect x="1227.5" y="346.2" width="13.9" height="16.5" rx="1.5" fill="#1e2c30"/>
<rect x="1394.8" y="366.3" width="14.3" height="16.7" rx="1.5" fill="#1e2c30"/>
<path d="M1094.1 348.7 L1101.8 366.6 L1086.4 366.6 Z" fill="#e50d16"/>
<path d="M1110.3 355.5 L1118 374 L1102.6 374 Z" fill="#e50d16"/>
<path d="M1202.9 320.2 L1210.8 338.2 L1195.1 338.2 Z" fill="#e50d16"/>
<path d="M1281.3 300.5 L1288.8 317.9 L1273.9 317.9 Z" fill="#e50d16"/>
<path d="M1157.2 234.3 L1165.7 253 L1148.8 253 Z" fill="#e50d16"/>
<path d="M1244.6 12.9 L1252.7 31.7 L1236.5 31.7 Z" fill="#e50d16"/>
<path d="M1264.3 159.5 L1272.6 177.4 L1256 177.4 Z" fill="#e50d16"/>
<path d="M1367.9 299.5 L1376.1 317.8 L1359.8 317.8 Z" fill="#e50d16"/>
<path d="M1472.8 278.2 L1480.9 296.4 L1464.6 296.4 Z" fill="#e50d16"/>
<path d="M1515.0 264.6 L1522.8 282.9 L1507.3 282.9 Z" fill="#e50d16"/>
<path d="M1570.3 321.7 L1577.9 339.5 L1562.8 339.5 Z" fill="#e50d16"/>
<path d="M1245.6 13.8 L1250.6 24.5" stroke="#3a2626" stroke-width="1.2" fill="none" opacity="0.85"/>
</svg>
</body></html>
